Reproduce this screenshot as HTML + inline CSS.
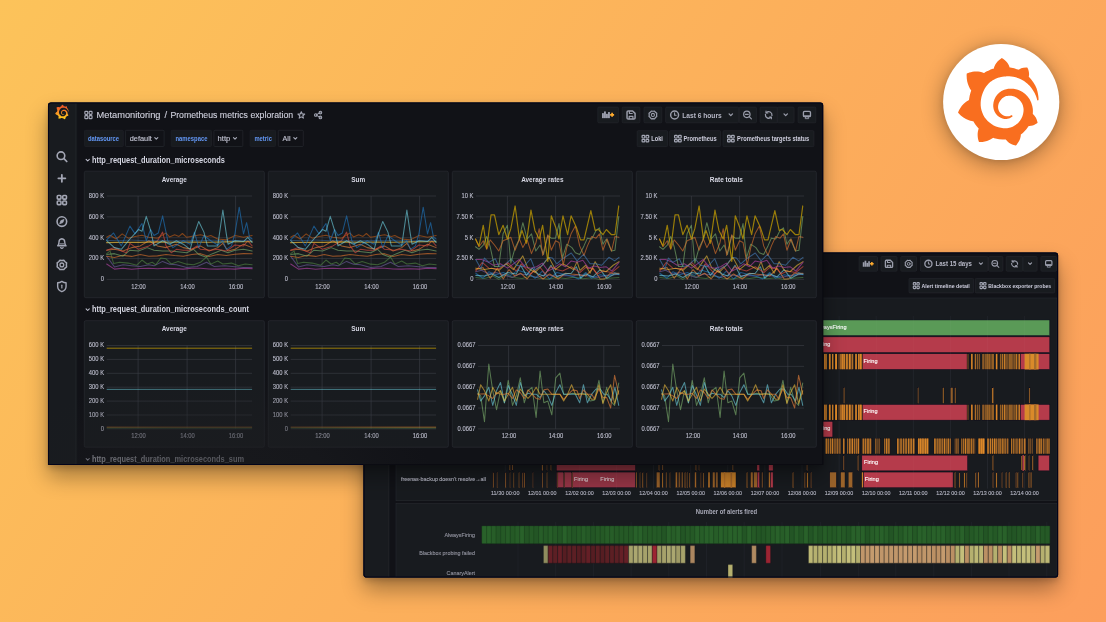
<!DOCTYPE html>
<html lang="en">
<head>
<meta charset="utf-8">
<title>Grafana dashboards</title>
<style>
html,body{margin:0;padding:0;width:1106px;height:622px;overflow:hidden}
body{background:#fcb35b linear-gradient(124deg,#fcc35a 0%,#fc9e5c 100%)}
#stage{position:absolute;left:0;top:0;width:1106px;height:622px;display:block}
#stage text{font-family:"Liberation Sans",sans-serif;white-space:pre;stroke-width:0.12px;paint-order:stroke fill}
</style>
</head>
<body>
<svg id="stage" width="1106" height="622" viewBox="0 0 1106 622">
<defs>
<filter id="shadow1" color-interpolation-filters="sRGB" x="-10%" y="-20%" width="120%" height="150%"><feGaussianBlur in="SourceAlpha" stdDeviation="11"/><feOffset dy="12"/><feComponentTransfer result="s1"><feFuncA type="linear" slope="0.34"/></feComponentTransfer><feGaussianBlur in="SourceAlpha" stdDeviation="3"/><feOffset dy="2.5"/><feComponentTransfer result="s2"><feFuncA type="linear" slope="0.18"/></feComponentTransfer><feMerge><feMergeNode in="s1"/><feMergeNode in="s2"/><feMergeNode in="SourceGraphic"/></feMerge></filter>
<filter id="shadow2" color-interpolation-filters="sRGB" x="-10%" y="-20%" width="120%" height="150%"><feGaussianBlur in="SourceAlpha" stdDeviation="11"/><feOffset dy="12"/><feComponentTransfer result="s1"><feFuncA type="linear" slope="0.34"/></feComponentTransfer><feGaussianBlur in="SourceAlpha" stdDeviation="3"/><feOffset dy="2.5"/><feComponentTransfer result="s2"><feFuncA type="linear" slope="0.18"/></feComponentTransfer><feMerge><feMergeNode in="s1"/><feMergeNode in="s2"/><feMergeNode in="SourceGraphic"/></feMerge></filter>
<filter id="shadow3" color-interpolation-filters="sRGB" x="-40%" y="-40%" width="180%" height="180%"><feGaussianBlur in="SourceAlpha" stdDeviation="11"/><feOffset dy="4"/><feComponentTransfer result="s1"><feFuncA type="linear" slope="0.36"/></feComponentTransfer><feGaussianBlur in="SourceAlpha" stdDeviation="3"/><feOffset dy="1"/><feComponentTransfer result="s2"><feFuncA type="linear" slope="0.1"/></feComponentTransfer><feMerge><feMergeNode in="s1"/><feMergeNode in="s2"/><feMergeNode in="SourceGraphic"/></feMerge></filter>
<clipPath id="clip1"><path d="M48 105.5Q48 102.5 51 102.5H820.2Q823.2 102.5 823.2 105.5V465H48Z"/></clipPath>
<clipPath id="clip2"><rect x="363.5" y="252.5" width="694.6" height="325" rx="3"/></clipPath>
<radialGradient id="vignette"><stop offset="0" stop-color="#1b1c1f" stop-opacity="0.66"/><stop offset="0.5" stop-color="#1b1c1f" stop-opacity="0.5"/><stop offset="0.8" stop-color="#1b1c1f" stop-opacity="0.18"/><stop offset="1" stop-color="#1b1c1f" stop-opacity="0"/></radialGradient>
<filter id="soft" color-interpolation-filters="sRGB" x="0" y="0" width="100%" height="100%" filterUnits="userSpaceOnUse" primitiveUnits="userSpaceOnUse"><feGaussianBlur stdDeviation="0.32"/></filter>
<linearGradient id="brandGrad" gradientUnits="userSpaceOnUse" x1="175" y1="365" x2="175" y2="60"><stop offset="0" stop-color="#fcd21c"/><stop offset="1" stop-color="#f05a28"/></linearGradient>
</defs>
<g id="window-alerts" class="window">
<rect class="frame" x="363.5" y="252.5" width="694.6" height="325.0" rx="3" fill="#111217" filter="url(#shadow2)"/>
<g clip-path="url(#clip2)"><g filter="url(#soft)">
<rect x="363.5" y="252.5" width="694.6" height="325" fill="#111217"/>
<g class="sidemenu">
<rect x="363.5" y="252.5" width="26.15" height="325" fill="#181b1f"/>
<line x1="388.39" y1="252.5" x2="388.39" y2="577.5" stroke="#212429" stroke-width="0.72"/>
</g>
<g class="toolbar">
<rect x="859.1" y="256.5" width="18.4" height="14.7" fill="#181b1f" rx="1" stroke="#26282f" stroke-width="0.6"/>
<rect x="881" y="256.5" width="16" height="14.7" fill="#181b1f" rx="1" stroke="#26282f" stroke-width="0.6"/>
<rect x="900.8" y="256.5" width="15.8" height="14.7" fill="#181b1f" rx="1" stroke="#26282f" stroke-width="0.6"/>
<rect x="920.4" y="256.5" width="67.5" height="14.7" fill="#181b1f" rx="1" stroke="#26282f" stroke-width="0.6"/>
<rect x="988.5" y="256.5" width="14.4" height="14.7" fill="#181b1f" rx="1" stroke="#26282f" stroke-width="0.6"/>
<rect x="1006.2" y="256.5" width="16.8" height="14.7" fill="#181b1f" rx="1" stroke="#26282f" stroke-width="0.6"/>
<rect x="1023" y="256.5" width="14.1" height="14.7" fill="#181b1f" rx="1" stroke="#26282f" stroke-width="0.6"/>
<rect x="1040.9" y="256.5" width="15.7" height="14.7" fill="#181b1f" rx="1" stroke="#26282f" stroke-width="0.6"/>
<g transform="translate(868 263.95) scale(0.9)"><rect x="-5.8" y="-1.9" width="1.9" height="5" fill="#9a9dab"/><rect x="-3.8" y="-3.6" width="1.9" height="6.7" fill="#9a9dab"/><rect x="-1.8" y="-1.2" width="1.9" height="4.3" fill="#9a9dab"/><rect x="0.2" y="-3" width="1.9" height="6.1" fill="#9a9dab"/><path d="M4.3 -2.2V1.8M2.3 -0.2H6.3" fill="none" stroke="#ffab2e" stroke-width="1.7"/></g>
<g transform="translate(889 263.85) scale(0.88)"><path d="M-3 -4.1H1.6L4.1 -1.6V3C4.1 3.6 3.6 4.1 3 4.1H-3C-3.6 4.1 -4.1 3.6 -4.1 3V-3C-4.1 -3.6 -3.6 -4.1 -3 -4.1Z" fill="none" stroke="#9a9dab" stroke-width="1.5" stroke-linecap="round" stroke-linejoin="round"/><path d="M-1.7 -3.6V-1.5H1.2M-1.9 3.8V1.5H1.9V3.8" fill="none" stroke="#9a9dab" stroke-width="1.2" stroke-linecap="round" stroke-linejoin="round"/></g>
<g transform="translate(908.7 263.85) scale(0.74)"><path d="M4.71 1.95L3.18 3.18L1.95 4.71L0 4.5L-1.95 4.71L-3.18 3.18L-4.71 1.95L-4.5 0L-4.71 -1.95L-3.18 -3.18L-1.95 -4.71L0 -4.5L1.95 -4.71L3.18 -3.18L4.71 -1.95L4.5 0Z" fill="none" stroke="#9a9dab" stroke-width="1.5" stroke-linecap="round" stroke-linejoin="round"/><circle r="1.9" fill="none" stroke="#9a9dab" stroke-width="1.3" stroke-linecap="round" stroke-linejoin="round"/></g>
<g transform="translate(928.41 263.85) scale(0.83)"><circle r="4.3" fill="none" stroke="#9a9dab" stroke-width="1.6" stroke-linecap="round" stroke-linejoin="round"/><path d="M0 -2.3V0.3H1.7" fill="none" stroke="#9a9dab" stroke-width="1.2" stroke-linecap="round" stroke-linejoin="round"/></g>
<text x="935.5" y="266.33" font-size="6.9" fill="#b6b7c6" font-weight="700" textLength="36.5" lengthAdjust="spacingAndGlyphs">Last 15 days</text>
<g transform="translate(980.88 263.65) scale(0.77)"><path d="M-2 -1L0 1L2 -1" fill="none" stroke="#9a9dab" stroke-width="1.5" stroke-linecap="round" stroke-linejoin="round"/></g>
<g transform="translate(995.3 263.85) scale(0.77)"><circle cx="-0.7" cy="-0.7" r="3.7" fill="none" stroke="#9a9dab" stroke-width="1.4" stroke-linecap="round" stroke-linejoin="round"/><path d="M2 2L4.6 4.6M-2.4 -0.7H1" fill="none" stroke="#9a9dab" stroke-width="1.3" stroke-linecap="round" stroke-linejoin="round"/></g>
<g transform="translate(1014.6 263.85) scale(0.76)"><g transform="scale(-1 1)"><path d="M-3.9 0.6A4 4 0 0 1 2.8 -2.8M3.9 -0.6A4 4 0 0 1 -2.8 2.8" fill="none" stroke="#9a9dab" stroke-width="1.5" stroke-linecap="round" stroke-linejoin="round"/><path d="M3.2 -4.6V-2.4H1M-3.2 4.6V2.4H-1" fill="none" stroke="#9a9dab" stroke-width="1.3" stroke-linecap="round" stroke-linejoin="round"/></g></g>
<g transform="translate(1030.05 263.65) scale(0.77)"><path d="M-2 -1L0 1L2 -1" fill="none" stroke="#9a9dab" stroke-width="1.5" stroke-linecap="round" stroke-linejoin="round"/></g>
<g transform="translate(1048.75 263.85) scale(0.79)"><rect x="-4" y="-4" width="8" height="6" rx="1.2" fill="none" stroke="#9a9dab" stroke-width="1.5" stroke-linecap="round" stroke-linejoin="round"/><path d="M-3.5 0.2H3.5V1.8H-3.5Z" fill="#9a9dab" opacity="0.85"/><path d="M-1.5 2.4L-2 4.2H2L1.5 2.4Z" fill="none" stroke="#9a9dab" stroke-width="1.0" stroke-linecap="round" stroke-linejoin="round" fill="#9a9dab"/></g>
</g>
<g class="dashboard-links">
<rect x="909" y="278.4" width="64.6" height="14.5" fill="#181b1f" rx="1" stroke="#26282f" stroke-width="0.6"/>
<g transform="translate(916.3 285.65) scale(0.65)"><rect x="-4.6" y="-4.6" width="3.7" height="3.7" rx="0.9" fill="none" stroke="#a3a6b4" stroke-width="1.7" stroke-linecap="round" stroke-linejoin="round"/><rect x="-4.6" y="0.9" width="3.7" height="3.7" rx="0.9" fill="none" stroke="#a3a6b4" stroke-width="1.7" stroke-linecap="round" stroke-linejoin="round"/><rect x="0.9" y="-4.6" width="3.7" height="3.7" rx="0.9" fill="none" stroke="#a3a6b4" stroke-width="1.7" stroke-linecap="round" stroke-linejoin="round"/><rect x="0.9" y="0.9" width="3.7" height="3.7" rx="0.9" fill="none" stroke="#a3a6b4" stroke-width="1.7" stroke-linecap="round" stroke-linejoin="round"/></g>
<text x="921.4" y="287.91" font-size="6" fill="#ccccdc" font-weight="700" textLength="48.4" lengthAdjust="spacingAndGlyphs">Alert timeline detail</text>
<rect x="975.3" y="278.4" width="79.3" height="14.5" fill="#181b1f" rx="1" stroke="#26282f" stroke-width="0.6"/>
<g transform="translate(983 285.65) scale(0.65)"><rect x="-4.6" y="-4.6" width="3.7" height="3.7" rx="0.9" fill="none" stroke="#a3a6b4" stroke-width="1.7" stroke-linecap="round" stroke-linejoin="round"/><rect x="-4.6" y="0.9" width="3.7" height="3.7" rx="0.9" fill="none" stroke="#a3a6b4" stroke-width="1.7" stroke-linecap="round" stroke-linejoin="round"/><rect x="0.9" y="-4.6" width="3.7" height="3.7" rx="0.9" fill="none" stroke="#a3a6b4" stroke-width="1.7" stroke-linecap="round" stroke-linejoin="round"/><rect x="0.9" y="0.9" width="3.7" height="3.7" rx="0.9" fill="none" stroke="#a3a6b4" stroke-width="1.7" stroke-linecap="round" stroke-linejoin="round"/></g>
<text x="988.3" y="287.91" font-size="6" fill="#ccccdc" font-weight="700" textLength="62.9" lengthAdjust="spacingAndGlyphs">Blackbox exporter probes</text>
</g>
<g class="panel timeline">
<rect x="396" y="298" width="661" height="202.7" fill="#181b1f" stroke="#272a30" stroke-width="0.6"/>
<line x1="505.2" y1="316" x2="505.2" y2="489" stroke="#24272d" stroke-width="0.6"/>
<line x1="542.3" y1="316" x2="542.3" y2="489" stroke="#24272d" stroke-width="0.6"/>
<line x1="579.4" y1="316" x2="579.4" y2="489" stroke="#24272d" stroke-width="0.6"/>
<line x1="616.5" y1="316" x2="616.5" y2="489" stroke="#24272d" stroke-width="0.6"/>
<line x1="653.6" y1="316" x2="653.6" y2="489" stroke="#24272d" stroke-width="0.6"/>
<line x1="690.7" y1="316" x2="690.7" y2="489" stroke="#24272d" stroke-width="0.6"/>
<line x1="727.8" y1="316" x2="727.8" y2="489" stroke="#24272d" stroke-width="0.6"/>
<line x1="764.9" y1="316" x2="764.9" y2="489" stroke="#24272d" stroke-width="0.6"/>
<line x1="802" y1="316" x2="802" y2="489" stroke="#24272d" stroke-width="0.6"/>
<line x1="839.1" y1="316" x2="839.1" y2="489" stroke="#24272d" stroke-width="0.6"/>
<line x1="876.2" y1="316" x2="876.2" y2="489" stroke="#24272d" stroke-width="0.6"/>
<line x1="913.3" y1="316" x2="913.3" y2="489" stroke="#24272d" stroke-width="0.6"/>
<line x1="950.4" y1="316" x2="950.4" y2="489" stroke="#24272d" stroke-width="0.6"/>
<line x1="987.5" y1="316" x2="987.5" y2="489" stroke="#24272d" stroke-width="0.6"/>
<line x1="1024.6" y1="316" x2="1024.6" y2="489" stroke="#24272d" stroke-width="0.6"/>
<rect x="490" y="319.95" width="559.8" height="15.7" fill="#5a9a57" stroke="#0a0a1c" stroke-width="0.5"/>
<text x="846.6" y="328.97" font-size="5.9" fill="#ffffff" text-anchor="end" textLength="31.77" lengthAdjust="spacingAndGlyphs" stroke="#ffffff">AlwaysFiring</text>
<rect x="490" y="336.85" width="559.8" height="15.7" fill="#b53b4b" stroke="#0a0a1c" stroke-width="0.5"/>
<text x="830.4" y="345.87" font-size="5.9" fill="#ffffff" text-anchor="end" textLength="14.02" lengthAdjust="spacingAndGlyphs" stroke="#ffffff">Firing</text>
<rect x="823.9" y="353.75" width="2.8" height="15.7" fill="#7a5026" stroke="#0a0a1c" stroke-width="0.45"/><rect x="824.14" y="353.95" width="1.06" height="15.3" fill="#db8728"/><rect x="825.59" y="353.95" width="1.11" height="15.3" fill="#e08a28"/><rect x="828.7" y="353.75" width="2.1" height="15.7" fill="#7a5026" stroke="#0a0a1c" stroke-width="0.45"/><rect x="828.97" y="353.95" width="1.61" height="15.3" fill="#db8728"/><rect x="831.9" y="353.75" width="2.2" height="15.7" fill="#3e2d1f" stroke="#0a0a1c" stroke-width="0.45"/><rect x="831.96" y="353.95" width="1.31" height="15.3" fill="#d08128"/><rect x="835" y="353.75" width="2.1" height="15.7" fill="#7a5026" stroke="#0a0a1c" stroke-width="0.45"/><rect x="835.18" y="353.95" width="1.84" height="15.3" fill="#e08a28"/><rect x="838.4" y="353.75" width="1.1" height="15.7" fill="#33261d" stroke="#0a0a1c" stroke-width="0.45"/><rect x="838.67" y="353.95" width="0.83" height="15.3" fill="#b5722a"/><rect x="840.1" y="353.75" width="5.4" height="15.7" fill="#7a5026" stroke="#0a0a1c" stroke-width="0.45"/><rect x="840.37" y="353.95" width="0.98" height="15.3" fill="#d38228"/><rect x="841.82" y="353.95" width="1.47" height="15.3" fill="#d38228"/><rect x="843.63" y="353.95" width="1.16" height="15.3" fill="#e08a28"/><rect x="845.13" y="353.95" width="0.37" height="15.3" fill="#db8728"/><rect x="845.8" y="353.75" width="2.6" height="15.7" fill="#7a5026" stroke="#0a0a1c" stroke-width="0.45"/><rect x="845.91" y="353.95" width="1.32" height="15.3" fill="#c67c29"/><rect x="847.52" y="353.95" width="0.88" height="15.3" fill="#db8728"/><rect x="848.8" y="353.75" width="2.7" height="15.7" fill="#7a5026" stroke="#0a0a1c" stroke-width="0.45"/><rect x="848.89" y="353.95" width="1.5" height="15.3" fill="#db8728"/><rect x="850.77" y="353.95" width="0.73" height="15.3" fill="#d38228"/><rect x="852" y="353.75" width="2.2" height="15.7" fill="#3e2d1f" stroke="#0a0a1c" stroke-width="0.45"/><rect x="852.06" y="353.95" width="0.98" height="15.3" fill="#b9742a"/><rect x="854.9" y="353.75" width="2.5" height="15.7" fill="#7a5026" stroke="#0a0a1c" stroke-width="0.45"/><rect x="855.19" y="353.95" width="1.74" height="15.3" fill="#c67c29"/><rect x="858" y="353.75" width="4.5" height="15.7" fill="#7a5026" stroke="#0a0a1c" stroke-width="0.45"/><rect x="858.05" y="353.95" width="1.23" height="15.3" fill="#d38228"/><rect x="859.75" y="353.95" width="1.23" height="15.3" fill="#e08a28"/><rect x="861.49" y="353.95" width="0.98" height="15.3" fill="#e08a28"/>
<rect x="862.6" y="353.75" width="104.5" height="15.7" fill="#b53b4b" stroke="#0a0a1c" stroke-width="0.5"/>
<text x="863.6" y="362.77" font-size="5.9" fill="#ffffff" textLength="14.02" lengthAdjust="spacingAndGlyphs" stroke="#ffffff">Firing</text>
<rect x="967.6" y="353.75" width="1.4" height="15.7" fill="#33261d" stroke="#0a0a1c" stroke-width="0.45"/><rect x="967.65" y="353.95" width="0.61" height="15.3" fill="#b5722a"/><rect x="970.9" y="353.75" width="2.2" height="15.7" fill="#7a5026" stroke="#0a0a1c" stroke-width="0.45"/><rect x="971.18" y="353.95" width="1.21" height="15.3" fill="#e08a28"/><rect x="974.7" y="353.75" width="5.4" height="15.7" fill="#33261d" stroke="#0a0a1c" stroke-width="0.45"/><rect x="974.74" y="353.95" width="1.2" height="15.3" fill="#b5722a"/><rect x="976.93" y="353.95" width="1.29" height="15.3" fill="#84572a"/><rect x="979.21" y="353.95" width="0.89" height="15.3" fill="#93602a"/><rect x="982.3" y="353.75" width="11.4" height="15.7" fill="#3e2d1f" stroke="#0a0a1c" stroke-width="0.45"/><rect x="982.32" y="353.95" width="1.45" height="15.3" fill="#a3672a"/><rect x="984.77" y="353.95" width="0.81" height="15.3" fill="#b9742a"/><rect x="986.51" y="353.95" width="1.14" height="15.3" fill="#c77c29"/><rect x="988.51" y="353.95" width="1.16" height="15.3" fill="#c77c29"/><rect x="990.62" y="353.95" width="0.78" height="15.3" fill="#b9742a"/><rect x="992.36" y="353.95" width="1.34" height="15.3" fill="#c77c29"/><rect x="995.6" y="353.75" width="1.9" height="15.7" fill="#7a5026" stroke="#0a0a1c" stroke-width="0.45"/><rect x="995.88" y="353.95" width="1.49" height="15.3" fill="#db8728"/><rect x="999.7" y="353.75" width="18.4" height="15.7" fill="#3e2d1f" stroke="#0a0a1c" stroke-width="0.45"/><rect x="999.89" y="353.95" width="0.79" height="15.3" fill="#b9742a"/><rect x="1001.85" y="353.95" width="0.93" height="15.3" fill="#d08128"/><rect x="1003.88" y="353.95" width="1.54" height="15.3" fill="#c77c29"/><rect x="1006.42" y="353.95" width="1.11" height="15.3" fill="#a3672a"/><rect x="1008.72" y="353.95" width="1.01" height="15.3" fill="#b9742a"/><rect x="1010.34" y="353.95" width="1.32" height="15.3" fill="#b9742a"/><rect x="1012.4" y="353.95" width="1.04" height="15.3" fill="#a3672a"/><rect x="1014.47" y="353.95" width="0.83" height="15.3" fill="#b9742a"/><rect x="1015.9" y="353.95" width="0.95" height="15.3" fill="#d08128"/><rect x="1017.78" y="353.95" width="0.32" height="15.3" fill="#b9742a"/><rect x="1018.4" y="353.75" width="1.5" height="15.7" fill="#7a5026" stroke="#0a0a1c" stroke-width="0.45"/><rect x="1018.49" y="353.95" width="1.41" height="15.3" fill="#d38228"/>
<rect x="1020.3" y="353.75" width="29.5" height="15.7" fill="#b53b4b" stroke="#0a0a1c" stroke-width="0.5"/>
<rect x="1024.6" y="353.75" width="14" height="15.7" fill="#d98a2a"/>
<rect x="1029" y="353.75" width="1.6" height="15.7" fill="#b5762c"/>
<rect x="1034" y="353.75" width="2.4" height="15.7" fill="#a66d2c"/>
<rect x="823.9" y="404.45" width="2.8" height="15.7" fill="#7a5026" stroke="#0a0a1c" stroke-width="0.45"/><rect x="824.14" y="404.65" width="1.06" height="15.3" fill="#db8728"/><rect x="825.59" y="404.65" width="1.11" height="15.3" fill="#e08a28"/><rect x="828.7" y="404.45" width="2.1" height="15.7" fill="#7a5026" stroke="#0a0a1c" stroke-width="0.45"/><rect x="828.97" y="404.65" width="1.61" height="15.3" fill="#db8728"/><rect x="831.9" y="404.45" width="2.2" height="15.7" fill="#3e2d1f" stroke="#0a0a1c" stroke-width="0.45"/><rect x="831.96" y="404.65" width="1.31" height="15.3" fill="#d08128"/><rect x="835" y="404.45" width="2.1" height="15.7" fill="#7a5026" stroke="#0a0a1c" stroke-width="0.45"/><rect x="835.18" y="404.65" width="1.84" height="15.3" fill="#e08a28"/><rect x="838.4" y="404.45" width="1.1" height="15.7" fill="#33261d" stroke="#0a0a1c" stroke-width="0.45"/><rect x="838.67" y="404.65" width="0.83" height="15.3" fill="#b5722a"/><rect x="840.1" y="404.45" width="5.4" height="15.7" fill="#7a5026" stroke="#0a0a1c" stroke-width="0.45"/><rect x="840.37" y="404.65" width="0.98" height="15.3" fill="#d38228"/><rect x="841.82" y="404.65" width="1.47" height="15.3" fill="#d38228"/><rect x="843.63" y="404.65" width="1.16" height="15.3" fill="#e08a28"/><rect x="845.13" y="404.65" width="0.37" height="15.3" fill="#db8728"/><rect x="845.8" y="404.45" width="2.6" height="15.7" fill="#7a5026" stroke="#0a0a1c" stroke-width="0.45"/><rect x="845.91" y="404.65" width="1.32" height="15.3" fill="#c67c29"/><rect x="847.52" y="404.65" width="0.88" height="15.3" fill="#db8728"/><rect x="848.8" y="404.45" width="2.7" height="15.7" fill="#7a5026" stroke="#0a0a1c" stroke-width="0.45"/><rect x="848.89" y="404.65" width="1.5" height="15.3" fill="#db8728"/><rect x="850.77" y="404.65" width="0.73" height="15.3" fill="#d38228"/><rect x="852" y="404.45" width="2.2" height="15.7" fill="#3e2d1f" stroke="#0a0a1c" stroke-width="0.45"/><rect x="852.06" y="404.65" width="0.98" height="15.3" fill="#b9742a"/><rect x="854.9" y="404.45" width="2.5" height="15.7" fill="#7a5026" stroke="#0a0a1c" stroke-width="0.45"/><rect x="855.19" y="404.65" width="1.74" height="15.3" fill="#c67c29"/><rect x="858" y="404.45" width="4.5" height="15.7" fill="#7a5026" stroke="#0a0a1c" stroke-width="0.45"/><rect x="858.05" y="404.65" width="1.23" height="15.3" fill="#d38228"/><rect x="859.75" y="404.65" width="1.23" height="15.3" fill="#e08a28"/><rect x="861.49" y="404.65" width="0.98" height="15.3" fill="#e08a28"/>
<rect x="862.6" y="404.45" width="104.5" height="15.7" fill="#b53b4b" stroke="#0a0a1c" stroke-width="0.5"/>
<text x="863.6" y="413.47" font-size="5.9" fill="#ffffff" textLength="14.02" lengthAdjust="spacingAndGlyphs" stroke="#ffffff">Firing</text>
<rect x="967.6" y="404.45" width="1.4" height="15.7" fill="#33261d" stroke="#0a0a1c" stroke-width="0.45"/><rect x="967.65" y="404.65" width="0.61" height="15.3" fill="#b5722a"/><rect x="970.9" y="404.45" width="2.2" height="15.7" fill="#7a5026" stroke="#0a0a1c" stroke-width="0.45"/><rect x="971.18" y="404.65" width="1.21" height="15.3" fill="#e08a28"/><rect x="974.7" y="404.45" width="5.4" height="15.7" fill="#33261d" stroke="#0a0a1c" stroke-width="0.45"/><rect x="974.74" y="404.65" width="1.2" height="15.3" fill="#b5722a"/><rect x="976.93" y="404.65" width="1.29" height="15.3" fill="#84572a"/><rect x="979.21" y="404.65" width="0.89" height="15.3" fill="#93602a"/><rect x="982.3" y="404.45" width="11.4" height="15.7" fill="#3e2d1f" stroke="#0a0a1c" stroke-width="0.45"/><rect x="982.32" y="404.65" width="1.45" height="15.3" fill="#a3672a"/><rect x="984.77" y="404.65" width="0.81" height="15.3" fill="#b9742a"/><rect x="986.51" y="404.65" width="1.14" height="15.3" fill="#c77c29"/><rect x="988.51" y="404.65" width="1.16" height="15.3" fill="#c77c29"/><rect x="990.62" y="404.65" width="0.78" height="15.3" fill="#b9742a"/><rect x="992.36" y="404.65" width="1.34" height="15.3" fill="#c77c29"/><rect x="995.6" y="404.45" width="1.9" height="15.7" fill="#7a5026" stroke="#0a0a1c" stroke-width="0.45"/><rect x="995.88" y="404.65" width="1.49" height="15.3" fill="#db8728"/><rect x="999.7" y="404.45" width="18.4" height="15.7" fill="#3e2d1f" stroke="#0a0a1c" stroke-width="0.45"/><rect x="999.89" y="404.65" width="0.79" height="15.3" fill="#b9742a"/><rect x="1001.85" y="404.65" width="0.93" height="15.3" fill="#d08128"/><rect x="1003.88" y="404.65" width="1.54" height="15.3" fill="#c77c29"/><rect x="1006.42" y="404.65" width="1.11" height="15.3" fill="#a3672a"/><rect x="1008.72" y="404.65" width="1.01" height="15.3" fill="#b9742a"/><rect x="1010.34" y="404.65" width="1.32" height="15.3" fill="#b9742a"/><rect x="1012.4" y="404.65" width="1.04" height="15.3" fill="#a3672a"/><rect x="1014.47" y="404.65" width="0.83" height="15.3" fill="#b9742a"/><rect x="1015.9" y="404.65" width="0.95" height="15.3" fill="#d08128"/><rect x="1017.78" y="404.65" width="0.32" height="15.3" fill="#b9742a"/><rect x="1018.4" y="404.45" width="1.5" height="15.7" fill="#7a5026" stroke="#0a0a1c" stroke-width="0.45"/><rect x="1018.49" y="404.65" width="1.41" height="15.3" fill="#d38228"/>
<rect x="1020.3" y="404.45" width="29.5" height="15.7" fill="#b53b4b" stroke="#0a0a1c" stroke-width="0.5"/>
<rect x="1024.6" y="404.45" width="14" height="15.7" fill="#d98a2a"/>
<rect x="1029" y="404.45" width="1.6" height="15.7" fill="#b5762c"/>
<rect x="1034" y="404.45" width="2.4" height="15.7" fill="#a66d2c"/>
<rect x="843.5" y="387.55" width="1.2" height="15.7" fill="#bd782a" stroke="#0a0a1c" stroke-width="0.4"/><rect x="917.6" y="387.55" width="1.2" height="15.7" fill="#a3692a" stroke="#0a0a1c" stroke-width="0.4"/><rect x="942.7" y="387.55" width="1.2" height="15.7" fill="#c98029" stroke="#0a0a1c" stroke-width="0.4"/><rect x="950.4" y="387.55" width="2.6" height="15.7" fill="#8f5d29" stroke="#0a0a1c" stroke-width="0.4"/><rect x="954.7" y="387.55" width="1.2" height="15.7" fill="#b27129" stroke="#0a0a1c" stroke-width="0.4"/><rect x="991.9" y="387.55" width="1.8" height="15.7" fill="#bd782a" stroke="#0a0a1c" stroke-width="0.4"/><rect x="1028.9" y="387.55" width="1.2" height="15.7" fill="#a3692a" stroke="#0a0a1c" stroke-width="0.4"/>
<rect x="800" y="421.35" width="32.8" height="15.7" fill="#b53b4b" stroke="#0a0a1c" stroke-width="0.5"/>
<text x="830.4" y="430.37" font-size="5.9" fill="#ffffff" text-anchor="end" textLength="14.02" lengthAdjust="spacingAndGlyphs" stroke="#ffffff">Firing</text>
<rect x="825.4" y="438.25" width="15.2" height="15.7" fill="#3e2d1f" stroke="#0a0a1c" stroke-width="0.45"/><rect x="825.56" y="438.45" width="1.59" height="15.3" fill="#c77c29"/><rect x="827.71" y="438.45" width="1.1" height="15.3" fill="#c77c29"/><rect x="829.91" y="438.45" width="1.32" height="15.3" fill="#b9742a"/><rect x="831.94" y="438.45" width="1.23" height="15.3" fill="#d08128"/><rect x="834.36" y="438.45" width="1.27" height="15.3" fill="#a3672a"/><rect x="836.58" y="438.45" width="1.56" height="15.3" fill="#a3672a"/><rect x="838.86" y="438.45" width="0.76" height="15.3" fill="#b9742a"/><rect x="840.17" y="438.45" width="0.43" height="15.3" fill="#d08128"/><rect x="842.8" y="438.25" width="2.2" height="15.7" fill="#7a5026" stroke="#0a0a1c" stroke-width="0.45"/><rect x="843.07" y="438.45" width="1.17" height="15.3" fill="#c67c29"/><rect x="847.1" y="438.25" width="13" height="15.7" fill="#3e2d1f" stroke="#0a0a1c" stroke-width="0.45"/><rect x="847.13" y="438.45" width="0.74" height="15.3" fill="#b9742a"/><rect x="849" y="438.45" width="1.59" height="15.3" fill="#b9742a"/><rect x="851.6" y="438.45" width="1.43" height="15.3" fill="#d08128"/><rect x="853.99" y="438.45" width="0.93" height="15.3" fill="#b9742a"/><rect x="855.75" y="438.45" width="1.52" height="15.3" fill="#a3672a"/><rect x="857.86" y="438.45" width="1.09" height="15.3" fill="#d08128"/><rect x="862.3" y="438.25" width="9.8" height="15.7" fill="#3e2d1f" stroke="#0a0a1c" stroke-width="0.45"/><rect x="862.59" y="438.45" width="1.23" height="15.3" fill="#d08128"/><rect x="864.72" y="438.45" width="1.54" height="15.3" fill="#b9742a"/><rect x="867.19" y="438.45" width="1.59" height="15.3" fill="#c77c29"/><rect x="869.54" y="438.45" width="1.55" height="15.3" fill="#b9742a"/><rect x="875.3" y="438.25" width="5.5" height="15.7" fill="#33261d" stroke="#0a0a1c" stroke-width="0.45"/><rect x="875.3" y="438.45" width="0.96" height="15.3" fill="#b5722a"/><rect x="877.55" y="438.45" width="0.78" height="15.3" fill="#93602a"/><rect x="879.04" y="438.45" width="0.72" height="15.3" fill="#84572a"/><rect x="884" y="438.25" width="6.5" height="15.7" fill="#3e2d1f" stroke="#0a0a1c" stroke-width="0.45"/><rect x="884.13" y="438.45" width="0.72" height="15.3" fill="#c77c29"/><rect x="885.82" y="438.45" width="1.57" height="15.3" fill="#c77c29"/><rect x="888.28" y="438.45" width="1.22" height="15.3" fill="#d08128"/><rect x="897" y="438.25" width="18.5" height="15.7" fill="#3e2d1f" stroke="#0a0a1c" stroke-width="0.45"/><rect x="897.05" y="438.45" width="1.6" height="15.3" fill="#c77c29"/><rect x="899.83" y="438.45" width="0.82" height="15.3" fill="#c77c29"/><rect x="901.21" y="438.45" width="0.85" height="15.3" fill="#b9742a"/><rect x="903.02" y="438.45" width="1.24" height="15.3" fill="#b9742a"/><rect x="905.29" y="438.45" width="1.53" height="15.3" fill="#b9742a"/><rect x="908.01" y="438.45" width="1.42" height="15.3" fill="#c77c29"/><rect x="910.4" y="438.45" width="1.5" height="15.3" fill="#c77c29"/><rect x="912.87" y="438.45" width="1.5" height="15.3" fill="#c77c29"/><rect x="917.7" y="438.25" width="10.8" height="15.7" fill="#7a5026" stroke="#0a0a1c" stroke-width="0.45"/><rect x="917.99" y="438.45" width="1.53" height="15.3" fill="#d38228"/><rect x="920" y="438.45" width="1.45" height="15.3" fill="#db8728"/><rect x="921.96" y="438.45" width="1.03" height="15.3" fill="#c67c29"/><rect x="923.31" y="438.45" width="0.95" height="15.3" fill="#e08a28"/><rect x="924.84" y="438.45" width="1.3" height="15.3" fill="#db8728"/><rect x="926.69" y="438.45" width="1.67" height="15.3" fill="#db8728"/><rect x="933.9" y="438.25" width="17.4" height="15.7" fill="#3e2d1f" stroke="#0a0a1c" stroke-width="0.45"/><rect x="934.18" y="438.45" width="1.49" height="15.3" fill="#d08128"/><rect x="936.63" y="438.45" width="1.15" height="15.3" fill="#b9742a"/><rect x="938.53" y="438.45" width="1.25" height="15.3" fill="#b9742a"/><rect x="940.39" y="438.45" width="0.98" height="15.3" fill="#c77c29"/><rect x="941.97" y="438.45" width="1.09" height="15.3" fill="#a3672a"/><rect x="943.89" y="438.45" width="1.28" height="15.3" fill="#d08128"/><rect x="945.85" y="438.45" width="0.75" height="15.3" fill="#b9742a"/><rect x="947.59" y="438.45" width="1.34" height="15.3" fill="#c77c29"/><rect x="949.83" y="438.45" width="0.81" height="15.3" fill="#c77c29"/><rect x="954.5" y="438.25" width="4.4" height="15.7" fill="#33261d" stroke="#0a0a1c" stroke-width="0.45"/><rect x="954.66" y="438.45" width="0.9" height="15.3" fill="#84572a"/><rect x="956.35" y="438.45" width="1.09" height="15.3" fill="#a96b2a"/><rect x="958.05" y="438.45" width="0.85" height="15.3" fill="#84572a"/><rect x="961.1" y="438.25" width="14.1" height="15.7" fill="#3e2d1f" stroke="#0a0a1c" stroke-width="0.45"/><rect x="961.36" y="438.45" width="0.8" height="15.3" fill="#c77c29"/><rect x="963.26" y="438.45" width="0.87" height="15.3" fill="#d08128"/><rect x="964.95" y="438.45" width="1.24" height="15.3" fill="#d08128"/><rect x="967.23" y="438.45" width="1.52" height="15.3" fill="#b9742a"/><rect x="969.37" y="438.45" width="0.87" height="15.3" fill="#c77c29"/><rect x="971.14" y="438.45" width="0.82" height="15.3" fill="#d08128"/><rect x="972.7" y="438.45" width="1.04" height="15.3" fill="#b9742a"/><rect x="974.68" y="438.45" width="0.52" height="15.3" fill="#a3672a"/><rect x="978.4" y="438.25" width="6.5" height="15.7" fill="#7a5026" stroke="#0a0a1c" stroke-width="0.45"/><rect x="978.41" y="438.45" width="1.49" height="15.3" fill="#e08a28"/><rect x="980.46" y="438.45" width="1.69" height="15.3" fill="#db8728"/><rect x="982.43" y="438.45" width="1.61" height="15.3" fill="#e08a28"/><rect x="984.41" y="438.45" width="0.49" height="15.3" fill="#c67c29"/><rect x="987.1" y="438.25" width="21.7" height="15.7" fill="#3e2d1f" stroke="#0a0a1c" stroke-width="0.45"/><rect x="987.29" y="438.45" width="1.47" height="15.3" fill="#d08128"/><rect x="989.87" y="438.45" width="1.14" height="15.3" fill="#c77c29"/><rect x="991.85" y="438.45" width="1.19" height="15.3" fill="#c77c29"/><rect x="993.9" y="438.45" width="1.55" height="15.3" fill="#d08128"/><rect x="996.17" y="438.45" width="1" height="15.3" fill="#b9742a"/><rect x="998.18" y="438.45" width="1.57" height="15.3" fill="#a3672a"/><rect x="1000.31" y="438.45" width="0.96" height="15.3" fill="#d08128"/><rect x="1002.21" y="438.45" width="1.28" height="15.3" fill="#d08128"/><rect x="1004.5" y="438.45" width="1.26" height="15.3" fill="#b9742a"/><rect x="1006.8" y="438.45" width="1.59" height="15.3" fill="#a3672a"/><rect x="1011" y="438.25" width="15.2" height="15.7" fill="#3e2d1f" stroke="#0a0a1c" stroke-width="0.45"/><rect x="1011.18" y="438.45" width="0.92" height="15.3" fill="#d08128"/><rect x="1013.21" y="438.45" width="0.73" height="15.3" fill="#c77c29"/><rect x="1014.67" y="438.45" width="0.7" height="15.3" fill="#b9742a"/><rect x="1016.27" y="438.45" width="1.37" height="15.3" fill="#a3672a"/><rect x="1018.85" y="438.45" width="1.47" height="15.3" fill="#c77c29"/><rect x="1021.45" y="438.45" width="1.35" height="15.3" fill="#a3672a"/><rect x="1023.98" y="438.45" width="1.53" height="15.3" fill="#b9742a"/><rect x="1028.3" y="438.25" width="4.4" height="15.7" fill="#33261d" stroke="#0a0a1c" stroke-width="0.45"/><rect x="1028.32" y="438.45" width="1.04" height="15.3" fill="#93602a"/><rect x="1030.28" y="438.45" width="0.74" height="15.3" fill="#84572a"/><rect x="1031.93" y="438.45" width="0.77" height="15.3" fill="#84572a"/><rect x="1035.9" y="438.25" width="13.9" height="15.7" fill="#3e2d1f" stroke="#0a0a1c" stroke-width="0.45"/><rect x="1036.02" y="438.45" width="0.87" height="15.3" fill="#a3672a"/><rect x="1037.53" y="438.45" width="0.88" height="15.3" fill="#b9742a"/><rect x="1039.12" y="438.45" width="1.41" height="15.3" fill="#c77c29"/><rect x="1041.16" y="438.45" width="0.82" height="15.3" fill="#c77c29"/><rect x="1043.02" y="438.45" width="1.39" height="15.3" fill="#a3672a"/><rect x="1045.58" y="438.45" width="0.94" height="15.3" fill="#a3672a"/><rect x="1047.34" y="438.45" width="1.18" height="15.3" fill="#d08128"/><rect x="1049.15" y="438.45" width="0.65" height="15.3" fill="#b9742a"/>
<rect x="509.15" y="455.15" width="1.3" height="15.7" fill="#9c6428" stroke="#0a0a1c" stroke-width="0.4"/><rect x="511.85" y="455.15" width="1.3" height="15.7" fill="#875828" stroke="#0a0a1c" stroke-width="0.4"/><rect x="541.75" y="455.15" width="1.3" height="15.7" fill="#a86a28" stroke="#0a0a1c" stroke-width="0.4"/><rect x="546.25" y="455.15" width="1.3" height="15.7" fill="#774f27" stroke="#0a0a1c" stroke-width="0.4"/><rect x="550.25" y="455.15" width="1.3" height="15.7" fill="#936028" stroke="#0a0a1c" stroke-width="0.4"/>
<rect x="556.3" y="455.15" width="79.2" height="15.7" fill="#8f3340" stroke="#0a0a1c" stroke-width="0.5"/>
<rect x="658.35" y="455.15" width="1.3" height="15.7" fill="#9c6428" stroke="#0a0a1c" stroke-width="0.4"/><rect x="661.95" y="455.15" width="1.3" height="15.7" fill="#875828" stroke="#0a0a1c" stroke-width="0.4"/><rect x="695.25" y="455.15" width="1.3" height="15.7" fill="#a86a28" stroke="#0a0a1c" stroke-width="0.4"/><rect x="698.35" y="455.15" width="1.3" height="15.7" fill="#774f27" stroke="#0a0a1c" stroke-width="0.4"/><rect x="732.15" y="455.15" width="1.3" height="15.7" fill="#936028" stroke="#0a0a1c" stroke-width="0.4"/><rect x="806.45" y="455.15" width="1.3" height="15.7" fill="#9c6428" stroke="#0a0a1c" stroke-width="0.4"/><rect x="843.05" y="455.15" width="1.3" height="15.7" fill="#875828" stroke="#0a0a1c" stroke-width="0.4"/><rect x="857.45" y="455.15" width="1.3" height="15.7" fill="#a86a28" stroke="#0a0a1c" stroke-width="0.4"/>
<rect x="756.9" y="455.15" width="2.7" height="15.7" fill="#b53b4b" stroke="#0a0a1c" stroke-width="0.4"/><rect x="768.6" y="455.15" width="4.5" height="15.7" fill="#b53b4b" stroke="#0a0a1c" stroke-width="0.4"/>
<rect x="861.8" y="455.15" width="105.8" height="15.7" fill="#b53b4b" stroke="#0a0a1c" stroke-width="0.5"/>
<text x="864" y="464.17" font-size="5.9" fill="#ffffff" textLength="14.02" lengthAdjust="spacingAndGlyphs" stroke="#ffffff">Firing</text>
<rect x="992.25" y="455.15" width="1.3" height="15.7" fill="#bd782a" stroke="#0a0a1c" stroke-width="0.4"/><rect x="1021" y="455.15" width="1.6" height="15.7" fill="#a3692a" stroke="#0a0a1c" stroke-width="0.4"/><rect x="1024" y="455.15" width="1.6" height="15.7" fill="#c98029" stroke="#0a0a1c" stroke-width="0.4"/><rect x="1028.35" y="455.15" width="1.3" height="15.7" fill="#8f5d29" stroke="#0a0a1c" stroke-width="0.4"/><rect x="1032.05" y="455.15" width="1.3" height="15.7" fill="#b27129" stroke="#0a0a1c" stroke-width="0.4"/>
<rect x="1022.6" y="455.15" width="1.4" height="15.7" fill="#b53b4b"/>
<rect x="1038.1" y="455.15" width="11.4" height="15.7" fill="#b53b4b" stroke="#0a0a1c" stroke-width="0.5"/>
<rect x="492.85" y="472.05" width="1.1" height="15.7" fill="#9c6428" stroke="#0a0a1c" stroke-width="0.4"/><rect x="496.65" y="472.05" width="1.1" height="15.7" fill="#875828" stroke="#0a0a1c" stroke-width="0.4"/><rect x="505.05" y="472.05" width="1.1" height="15.7" fill="#a86a28" stroke="#0a0a1c" stroke-width="0.4"/><rect x="509.45" y="472.05" width="1.1" height="15.7" fill="#774f27" stroke="#0a0a1c" stroke-width="0.4"/><rect x="513.15" y="472.05" width="1.1" height="15.7" fill="#936028" stroke="#0a0a1c" stroke-width="0.4"/><rect x="518.45" y="472.05" width="1.1" height="15.7" fill="#9c6428" stroke="#0a0a1c" stroke-width="0.4"/><rect x="522.05" y="472.05" width="1.1" height="15.7" fill="#875828" stroke="#0a0a1c" stroke-width="0.4"/><rect x="523.85" y="472.05" width="1.1" height="15.7" fill="#a86a28" stroke="#0a0a1c" stroke-width="0.4"/><rect x="532.35" y="472.05" width="1.1" height="15.7" fill="#774f27" stroke="#0a0a1c" stroke-width="0.4"/><rect x="541.95" y="472.05" width="1.1" height="15.7" fill="#936028" stroke="#0a0a1c" stroke-width="0.4"/><rect x="546.45" y="472.05" width="1.1" height="15.7" fill="#9c6428" stroke="#0a0a1c" stroke-width="0.4"/>
<rect x="556.3" y="472.05" width="79.2" height="15.7" fill="#983647" stroke="#0a0a1c" stroke-width="0.5"/>
<rect x="556.95" y="472.05" width="0.9" height="15.7" fill="#9c6428" stroke="#0a0a1c" stroke-width="0.4"/><rect x="563.65" y="472.05" width="0.9" height="15.7" fill="#875828" stroke="#0a0a1c" stroke-width="0.4"/><rect x="571.75" y="472.05" width="0.9" height="15.7" fill="#a86a28" stroke="#0a0a1c" stroke-width="0.4"/>
<text x="574" y="481.07" font-size="5.9" fill="#dccdd1" textLength="14.02" lengthAdjust="spacingAndGlyphs" stroke="#dccdd1">Firing</text>
<text x="600.3" y="481.07" font-size="5.9" fill="#dccdd1" textLength="14.02" lengthAdjust="spacingAndGlyphs" stroke="#dccdd1">Firing</text>
<rect x="635.8" y="472.05" width="1.2" height="15.7" fill="#9c6428" stroke="#0a0a1c" stroke-width="0.4"/><rect x="639.4" y="472.05" width="1.2" height="15.7" fill="#875828" stroke="#0a0a1c" stroke-width="0.4"/><rect x="642.1" y="472.05" width="1.2" height="15.7" fill="#a86a28" stroke="#0a0a1c" stroke-width="0.4"/><rect x="646.1" y="472.05" width="1.2" height="15.7" fill="#774f27" stroke="#0a0a1c" stroke-width="0.4"/><rect x="656.3" y="472.05" width="3.7" height="15.7" fill="#9a632a" stroke="#0a0a1c" stroke-width="0.4"/><rect x="662" y="472.05" width="1.2" height="15.7" fill="#c07a29" stroke="#0a0a1c" stroke-width="0.4"/><rect x="665.7" y="472.05" width="1.2" height="15.7" fill="#9c6428" stroke="#0a0a1c" stroke-width="0.4"/><rect x="669.3" y="472.05" width="1.2" height="15.7" fill="#875828" stroke="#0a0a1c" stroke-width="0.4"/><rect x="675.3" y="472.05" width="2.1" height="15.7" fill="#a86a28" stroke="#0a0a1c" stroke-width="0.4"/><rect x="678.2" y="472.05" width="2.1" height="15.7" fill="#774f27" stroke="#0a0a1c" stroke-width="0.4"/><rect x="681.4" y="472.05" width="1.6" height="15.7" fill="#936028" stroke="#0a0a1c" stroke-width="0.4"/><rect x="684.4" y="472.05" width="1.2" height="15.7" fill="#c07a29" stroke="#0a0a1c" stroke-width="0.4"/><rect x="686.6" y="472.05" width="1.2" height="15.7" fill="#9c6428" stroke="#0a0a1c" stroke-width="0.4"/><rect x="689" y="472.05" width="1.2" height="15.7" fill="#875828" stroke="#0a0a1c" stroke-width="0.4"/><rect x="694.6" y="472.05" width="1.8" height="15.7" fill="#a86a28" stroke="#0a0a1c" stroke-width="0.4"/><rect x="700.2" y="472.05" width="1.2" height="15.7" fill="#774f27" stroke="#0a0a1c" stroke-width="0.4"/><rect x="702.9" y="472.05" width="1.2" height="15.7" fill="#936028" stroke="#0a0a1c" stroke-width="0.4"/><rect x="708" y="472.05" width="2" height="15.7" fill="#c07a29" stroke="#0a0a1c" stroke-width="0.4"/><rect x="712.5" y="472.05" width="2.5" height="15.7" fill="#9c6428" stroke="#0a0a1c" stroke-width="0.4"/><rect x="715.6" y="472.05" width="2.4" height="15.7" fill="#875828" stroke="#0a0a1c" stroke-width="0.4"/>
<rect x="720.7" y="472.05" width="15.3" height="15.7" fill="#c98029" stroke="#0a0a1c" stroke-width="0.4"/>
<rect x="724" y="472.05" width="1.2" height="15.7" fill="#b87128"/>
<rect x="730.5" y="472.05" width="1.6" height="15.7" fill="#a8682a"/>
<rect x="746.35" y="472.05" width="1.3" height="15.7" fill="#bd782a" stroke="#0a0a1c" stroke-width="0.4"/><rect x="750.5" y="472.05" width="2.5" height="15.7" fill="#a3692a" stroke="#0a0a1c" stroke-width="0.4"/><rect x="753.6" y="472.05" width="3.6" height="15.7" fill="#9a632a" stroke="#0a0a1c" stroke-width="0.4"/><rect x="761.65" y="472.05" width="1.3" height="15.7" fill="#8f5d29" stroke="#0a0a1c" stroke-width="0.4"/><rect x="768.6" y="472.05" width="2" height="15.7" fill="#b27129" stroke="#0a0a1c" stroke-width="0.4"/>
<rect x="757.2" y="472.05" width="2.4" height="15.7" fill="#b53b4b" stroke="#0a0a1c" stroke-width="0.4"/><rect x="770.6" y="472.05" width="2.5" height="15.7" fill="#b53b4b" stroke="#0a0a1c" stroke-width="0.4"/>
<rect x="792.4" y="472.05" width="1.2" height="15.7" fill="#bd782a" stroke="#0a0a1c" stroke-width="0.4"/><rect x="804.2" y="472.05" width="1.2" height="15.7" fill="#a3692a" stroke="#0a0a1c" stroke-width="0.4"/><rect x="806.9" y="472.05" width="1.2" height="15.7" fill="#c98029" stroke="#0a0a1c" stroke-width="0.4"/><rect x="810.5" y="472.05" width="1.2" height="15.7" fill="#8f5d29" stroke="#0a0a1c" stroke-width="0.4"/><rect x="829.8" y="472.05" width="6.5" height="15.7" fill="#9a632a" stroke="#0a0a1c" stroke-width="0.4"/><rect x="840.6" y="472.05" width="4.4" height="15.7" fill="#9a632a" stroke="#0a0a1c" stroke-width="0.4"/><rect x="848.2" y="472.05" width="4.5" height="15.7" fill="#9a632a" stroke="#0a0a1c" stroke-width="0.4"/><rect x="861.7" y="472.05" width="1.8" height="15.7" fill="#c98029" stroke="#0a0a1c" stroke-width="0.4"/>
<rect x="863.5" y="472.05" width="89.6" height="15.7" fill="#b53b4b" stroke="#0a0a1c" stroke-width="0.5"/>
<text x="864.8" y="481.07" font-size="5.9" fill="#ffffff" textLength="14.02" lengthAdjust="spacingAndGlyphs" stroke="#ffffff">Firing</text>
<rect x="954.4" y="472.05" width="1.2" height="15.7" fill="#bd782a" stroke="#0a0a1c" stroke-width="0.4"/><rect x="958.9" y="472.05" width="1.2" height="15.7" fill="#a3692a" stroke="#0a0a1c" stroke-width="0.4"/><rect x="963.9" y="472.05" width="1.2" height="15.7" fill="#c98029" stroke="#0a0a1c" stroke-width="0.4"/><rect x="966.1" y="472.05" width="1.2" height="15.7" fill="#8f5d29" stroke="#0a0a1c" stroke-width="0.4"/><rect x="975.1" y="472.05" width="1.2" height="15.7" fill="#b27129" stroke="#0a0a1c" stroke-width="0.4"/><rect x="977.8" y="472.05" width="1.2" height="15.7" fill="#bd782a" stroke="#0a0a1c" stroke-width="0.4"/><rect x="992.4" y="472.05" width="1.2" height="15.7" fill="#a3692a" stroke="#0a0a1c" stroke-width="0.4"/><rect x="995.9" y="472.05" width="1.2" height="15.7" fill="#c98029" stroke="#0a0a1c" stroke-width="0.4"/><rect x="1001.4" y="472.05" width="1.2" height="15.7" fill="#8f5d29" stroke="#0a0a1c" stroke-width="0.4"/><rect x="1005.5" y="472.05" width="1.2" height="15.7" fill="#b27129" stroke="#0a0a1c" stroke-width="0.4"/><rect x="1008.6" y="472.05" width="1.2" height="15.7" fill="#bd782a" stroke="#0a0a1c" stroke-width="0.4"/><rect x="1015.5" y="472.05" width="1.1" height="15.7" fill="#a3692a" stroke="#0a0a1c" stroke-width="0.4"/><rect x="1017.2" y="472.05" width="1.1" height="15.7" fill="#c98029" stroke="#0a0a1c" stroke-width="0.4"/><rect x="1022.1" y="472.05" width="1.2" height="15.7" fill="#8f5d29" stroke="#0a0a1c" stroke-width="0.4"/><rect x="1028.2" y="472.05" width="1.4" height="15.7" fill="#b27129" stroke="#0a0a1c" stroke-width="0.4"/><rect x="1030.4" y="472.05" width="1.4" height="15.7" fill="#bd782a" stroke="#0a0a1c" stroke-width="0.4"/>
<line x1="505.2" y1="319" x2="505.2" y2="488" stroke="#ffffff" stroke-width="0.6" stroke-opacity="0.045"/>
<line x1="542.3" y1="319" x2="542.3" y2="488" stroke="#ffffff" stroke-width="0.6" stroke-opacity="0.045"/>
<line x1="579.4" y1="319" x2="579.4" y2="488" stroke="#ffffff" stroke-width="0.6" stroke-opacity="0.045"/>
<line x1="616.5" y1="319" x2="616.5" y2="488" stroke="#ffffff" stroke-width="0.6" stroke-opacity="0.045"/>
<line x1="653.6" y1="319" x2="653.6" y2="488" stroke="#ffffff" stroke-width="0.6" stroke-opacity="0.045"/>
<line x1="690.7" y1="319" x2="690.7" y2="488" stroke="#ffffff" stroke-width="0.6" stroke-opacity="0.045"/>
<line x1="727.8" y1="319" x2="727.8" y2="488" stroke="#ffffff" stroke-width="0.6" stroke-opacity="0.045"/>
<line x1="764.9" y1="319" x2="764.9" y2="488" stroke="#ffffff" stroke-width="0.6" stroke-opacity="0.045"/>
<line x1="802" y1="319" x2="802" y2="488" stroke="#ffffff" stroke-width="0.6" stroke-opacity="0.045"/>
<line x1="839.1" y1="319" x2="839.1" y2="488" stroke="#ffffff" stroke-width="0.6" stroke-opacity="0.045"/>
<line x1="876.2" y1="319" x2="876.2" y2="488" stroke="#ffffff" stroke-width="0.6" stroke-opacity="0.045"/>
<line x1="913.3" y1="319" x2="913.3" y2="488" stroke="#ffffff" stroke-width="0.6" stroke-opacity="0.045"/>
<line x1="950.4" y1="319" x2="950.4" y2="488" stroke="#ffffff" stroke-width="0.6" stroke-opacity="0.045"/>
<line x1="987.5" y1="319" x2="987.5" y2="488" stroke="#ffffff" stroke-width="0.6" stroke-opacity="0.045"/>
<line x1="1024.6" y1="319" x2="1024.6" y2="488" stroke="#ffffff" stroke-width="0.6" stroke-opacity="0.045"/>
<text x="400.9" y="480.59" font-size="5.8" fill="#b9bac8" textLength="85.1" lengthAdjust="spacingAndGlyphs" stroke="#b9bac8">freenas-backup doesn't resolve→all</text>
<text x="505.2" y="495.42" font-size="5.9" fill="#b3b4c2" text-anchor="middle" textLength="28.5" lengthAdjust="spacingAndGlyphs" stroke="#b3b4c2">11/30 00:00</text>
<text x="542.3" y="495.42" font-size="5.9" fill="#b3b4c2" text-anchor="middle" textLength="28.5" lengthAdjust="spacingAndGlyphs" stroke="#b3b4c2">12/01 00:00</text>
<text x="579.4" y="495.42" font-size="5.9" fill="#b3b4c2" text-anchor="middle" textLength="28.5" lengthAdjust="spacingAndGlyphs" stroke="#b3b4c2">12/02 00:00</text>
<text x="616.5" y="495.42" font-size="5.9" fill="#b3b4c2" text-anchor="middle" textLength="28.5" lengthAdjust="spacingAndGlyphs" stroke="#b3b4c2">12/03 00:00</text>
<text x="653.6" y="495.42" font-size="5.9" fill="#b3b4c2" text-anchor="middle" textLength="28.5" lengthAdjust="spacingAndGlyphs" stroke="#b3b4c2">12/04 00:00</text>
<text x="690.7" y="495.42" font-size="5.9" fill="#b3b4c2" text-anchor="middle" textLength="28.5" lengthAdjust="spacingAndGlyphs" stroke="#b3b4c2">12/05 00:00</text>
<text x="727.8" y="495.42" font-size="5.9" fill="#b3b4c2" text-anchor="middle" textLength="28.5" lengthAdjust="spacingAndGlyphs" stroke="#b3b4c2">12/06 00:00</text>
<text x="764.9" y="495.42" font-size="5.9" fill="#b3b4c2" text-anchor="middle" textLength="28.5" lengthAdjust="spacingAndGlyphs" stroke="#b3b4c2">12/07 00:00</text>
<text x="802" y="495.42" font-size="5.9" fill="#b3b4c2" text-anchor="middle" textLength="28.5" lengthAdjust="spacingAndGlyphs" stroke="#b3b4c2">12/08 00:00</text>
<text x="839.1" y="495.42" font-size="5.9" fill="#b3b4c2" text-anchor="middle" textLength="28.5" lengthAdjust="spacingAndGlyphs" stroke="#b3b4c2">12/09 00:00</text>
<text x="876.2" y="495.42" font-size="5.9" fill="#b3b4c2" text-anchor="middle" textLength="28.5" lengthAdjust="spacingAndGlyphs" stroke="#b3b4c2">12/10 00:00</text>
<text x="913.3" y="495.42" font-size="5.9" fill="#b3b4c2" text-anchor="middle" textLength="28.5" lengthAdjust="spacingAndGlyphs" stroke="#b3b4c2">12/11 00:00</text>
<text x="950.4" y="495.42" font-size="5.9" fill="#b3b4c2" text-anchor="middle" textLength="28.5" lengthAdjust="spacingAndGlyphs" stroke="#b3b4c2">12/12 00:00</text>
<text x="987.5" y="495.42" font-size="5.9" fill="#b3b4c2" text-anchor="middle" textLength="28.5" lengthAdjust="spacingAndGlyphs" stroke="#b3b4c2">12/13 00:00</text>
<text x="1024.6" y="495.42" font-size="5.9" fill="#b3b4c2" text-anchor="middle" textLength="28.5" lengthAdjust="spacingAndGlyphs" stroke="#b3b4c2">12/14 00:00</text>
</g>
<g class="panel alerts">
<rect x="396" y="503.5" width="661" height="90" fill="#181b1f" stroke="#272a30" stroke-width="0.6"/>
<line x1="518" y1="522" x2="518" y2="580" stroke="#24272d" stroke-width="0.6"/>
<line x1="555.7" y1="522" x2="555.7" y2="580" stroke="#24272d" stroke-width="0.6"/>
<line x1="593.4" y1="522" x2="593.4" y2="580" stroke="#24272d" stroke-width="0.6"/>
<line x1="631.1" y1="522" x2="631.1" y2="580" stroke="#24272d" stroke-width="0.6"/>
<line x1="668.8" y1="522" x2="668.8" y2="580" stroke="#24272d" stroke-width="0.6"/>
<line x1="706.5" y1="522" x2="706.5" y2="580" stroke="#24272d" stroke-width="0.6"/>
<line x1="744.2" y1="522" x2="744.2" y2="580" stroke="#24272d" stroke-width="0.6"/>
<line x1="782" y1="522" x2="782" y2="580" stroke="#24272d" stroke-width="0.6"/>
<line x1="820.4" y1="522" x2="820.4" y2="580" stroke="#24272d" stroke-width="0.6"/>
<line x1="858.7" y1="522" x2="858.7" y2="580" stroke="#24272d" stroke-width="0.6"/>
<line x1="895.8" y1="522" x2="895.8" y2="580" stroke="#24272d" stroke-width="0.6"/>
<line x1="933.8" y1="522" x2="933.8" y2="580" stroke="#24272d" stroke-width="0.6"/>
<line x1="971.4" y1="522" x2="971.4" y2="580" stroke="#24272d" stroke-width="0.6"/>
<line x1="1009" y1="522" x2="1009" y2="580" stroke="#24272d" stroke-width="0.6"/>
<line x1="1046.8" y1="522" x2="1046.8" y2="580" stroke="#24272d" stroke-width="0.6"/>
<text x="726.5" y="514.41" font-size="6.7" fill="#a9aab8" text-anchor="middle" font-weight="700" textLength="61.3" lengthAdjust="spacingAndGlyphs">Number of alerts fired</text>
<rect x="481.9" y="526" width="4.73" height="17.6" fill="#29612a" rx="0.5" stroke="#1d4a1f" stroke-width="0.4"/><rect x="486.63" y="526" width="4.73" height="17.6" fill="#29612a" rx="0.5" stroke="#1d4a1f" stroke-width="0.4"/><rect x="491.36" y="526" width="4.73" height="17.6" fill="#275d28" rx="0.5" stroke="#1d4a1f" stroke-width="0.4"/><rect x="496.1" y="526" width="4.73" height="17.6" fill="#235525" rx="0.5" stroke="#1d4a1f" stroke-width="0.4"/><rect x="500.83" y="526" width="4.73" height="17.6" fill="#255926" rx="0.5" stroke="#1d4a1f" stroke-width="0.4"/><rect x="505.56" y="526" width="4.73" height="17.6" fill="#275d28" rx="0.5" stroke="#1d4a1f" stroke-width="0.4"/><rect x="510.29" y="526" width="4.73" height="17.6" fill="#255926" rx="0.5" stroke="#1d4a1f" stroke-width="0.4"/><rect x="515.03" y="526" width="4.73" height="17.6" fill="#275d28" rx="0.5" stroke="#1d4a1f" stroke-width="0.4"/><rect x="519.76" y="526" width="4.73" height="17.6" fill="#29612a" rx="0.5" stroke="#1d4a1f" stroke-width="0.4"/><rect x="524.49" y="526" width="4.73" height="17.6" fill="#235525" rx="0.5" stroke="#1d4a1f" stroke-width="0.4"/><rect x="529.23" y="526" width="4.73" height="17.6" fill="#255926" rx="0.5" stroke="#1d4a1f" stroke-width="0.4"/><rect x="533.96" y="526" width="4.73" height="17.6" fill="#235525" rx="0.5" stroke="#1d4a1f" stroke-width="0.4"/><rect x="538.69" y="526" width="4.73" height="17.6" fill="#275d28" rx="0.5" stroke="#1d4a1f" stroke-width="0.4"/><rect x="543.42" y="526" width="4.73" height="17.6" fill="#255926" rx="0.5" stroke="#1d4a1f" stroke-width="0.4"/><rect x="548.15" y="526" width="4.73" height="17.6" fill="#275d28" rx="0.5" stroke="#1d4a1f" stroke-width="0.4"/><rect x="552.89" y="526" width="4.73" height="17.6" fill="#255926" rx="0.5" stroke="#1d4a1f" stroke-width="0.4"/><rect x="557.62" y="526" width="4.73" height="17.6" fill="#235525" rx="0.5" stroke="#1d4a1f" stroke-width="0.4"/><rect x="562.35" y="526" width="4.73" height="17.6" fill="#29612a" rx="0.5" stroke="#1d4a1f" stroke-width="0.4"/><rect x="567.09" y="526" width="4.73" height="17.6" fill="#255926" rx="0.5" stroke="#1d4a1f" stroke-width="0.4"/><rect x="571.82" y="526" width="4.73" height="17.6" fill="#235525" rx="0.5" stroke="#1d4a1f" stroke-width="0.4"/><rect x="576.55" y="526" width="4.73" height="17.6" fill="#255926" rx="0.5" stroke="#1d4a1f" stroke-width="0.4"/><rect x="581.28" y="526" width="4.73" height="17.6" fill="#275d28" rx="0.5" stroke="#1d4a1f" stroke-width="0.4"/><rect x="586.01" y="526" width="4.73" height="17.6" fill="#255926" rx="0.5" stroke="#1d4a1f" stroke-width="0.4"/><rect x="590.75" y="526" width="4.73" height="17.6" fill="#235525" rx="0.5" stroke="#1d4a1f" stroke-width="0.4"/><rect x="595.48" y="526" width="4.73" height="17.6" fill="#255926" rx="0.5" stroke="#1d4a1f" stroke-width="0.4"/><rect x="600.21" y="526" width="4.73" height="17.6" fill="#255926" rx="0.5" stroke="#1d4a1f" stroke-width="0.4"/><rect x="604.94" y="526" width="4.73" height="17.6" fill="#275d28" rx="0.5" stroke="#1d4a1f" stroke-width="0.4"/><rect x="609.68" y="526" width="4.73" height="17.6" fill="#275d28" rx="0.5" stroke="#1d4a1f" stroke-width="0.4"/><rect x="614.41" y="526" width="4.73" height="17.6" fill="#255926" rx="0.5" stroke="#1d4a1f" stroke-width="0.4"/><rect x="619.14" y="526" width="4.73" height="17.6" fill="#255926" rx="0.5" stroke="#1d4a1f" stroke-width="0.4"/><rect x="623.88" y="526" width="4.73" height="17.6" fill="#255926" rx="0.5" stroke="#1d4a1f" stroke-width="0.4"/><rect x="628.61" y="526" width="4.73" height="17.6" fill="#255926" rx="0.5" stroke="#1d4a1f" stroke-width="0.4"/><rect x="633.34" y="526" width="4.73" height="17.6" fill="#29612a" rx="0.5" stroke="#1d4a1f" stroke-width="0.4"/><rect x="638.07" y="526" width="4.73" height="17.6" fill="#29612a" rx="0.5" stroke="#1d4a1f" stroke-width="0.4"/><rect x="642.8" y="526" width="4.73" height="17.6" fill="#255926" rx="0.5" stroke="#1d4a1f" stroke-width="0.4"/><rect x="647.54" y="526" width="4.73" height="17.6" fill="#255926" rx="0.5" stroke="#1d4a1f" stroke-width="0.4"/><rect x="652.27" y="526" width="4.73" height="17.6" fill="#255926" rx="0.5" stroke="#1d4a1f" stroke-width="0.4"/><rect x="657" y="526" width="4.73" height="17.6" fill="#255926" rx="0.5" stroke="#1d4a1f" stroke-width="0.4"/><rect x="661.74" y="526" width="4.73" height="17.6" fill="#235525" rx="0.5" stroke="#1d4a1f" stroke-width="0.4"/><rect x="666.47" y="526" width="4.73" height="17.6" fill="#29612a" rx="0.5" stroke="#1d4a1f" stroke-width="0.4"/><rect x="671.2" y="526" width="4.73" height="17.6" fill="#275d28" rx="0.5" stroke="#1d4a1f" stroke-width="0.4"/><rect x="675.93" y="526" width="4.73" height="17.6" fill="#29612a" rx="0.5" stroke="#1d4a1f" stroke-width="0.4"/><rect x="680.66" y="526" width="4.73" height="17.6" fill="#235525" rx="0.5" stroke="#1d4a1f" stroke-width="0.4"/><rect x="685.4" y="526" width="4.73" height="17.6" fill="#255926" rx="0.5" stroke="#1d4a1f" stroke-width="0.4"/><rect x="690.13" y="526" width="4.73" height="17.6" fill="#255926" rx="0.5" stroke="#1d4a1f" stroke-width="0.4"/><rect x="694.86" y="526" width="4.73" height="17.6" fill="#29612a" rx="0.5" stroke="#1d4a1f" stroke-width="0.4"/><rect x="699.6" y="526" width="4.73" height="17.6" fill="#275d28" rx="0.5" stroke="#1d4a1f" stroke-width="0.4"/><rect x="704.33" y="526" width="4.73" height="17.6" fill="#29612a" rx="0.5" stroke="#1d4a1f" stroke-width="0.4"/><rect x="709.06" y="526" width="4.73" height="17.6" fill="#29612a" rx="0.5" stroke="#1d4a1f" stroke-width="0.4"/><rect x="713.79" y="526" width="4.73" height="17.6" fill="#275d28" rx="0.5" stroke="#1d4a1f" stroke-width="0.4"/><rect x="718.52" y="526" width="4.73" height="17.6" fill="#29612a" rx="0.5" stroke="#1d4a1f" stroke-width="0.4"/><rect x="723.26" y="526" width="4.73" height="17.6" fill="#275d28" rx="0.5" stroke="#1d4a1f" stroke-width="0.4"/><rect x="727.99" y="526" width="4.73" height="17.6" fill="#29612a" rx="0.5" stroke="#1d4a1f" stroke-width="0.4"/><rect x="732.72" y="526" width="4.73" height="17.6" fill="#29612a" rx="0.5" stroke="#1d4a1f" stroke-width="0.4"/><rect x="737.45" y="526" width="4.73" height="17.6" fill="#29612a" rx="0.5" stroke="#1d4a1f" stroke-width="0.4"/><rect x="742.19" y="526" width="4.73" height="17.6" fill="#235525" rx="0.5" stroke="#1d4a1f" stroke-width="0.4"/><rect x="746.92" y="526" width="4.73" height="17.6" fill="#29612a" rx="0.5" stroke="#1d4a1f" stroke-width="0.4"/><rect x="751.65" y="526" width="4.73" height="17.6" fill="#255926" rx="0.5" stroke="#1d4a1f" stroke-width="0.4"/><rect x="756.38" y="526" width="4.73" height="17.6" fill="#235525" rx="0.5" stroke="#1d4a1f" stroke-width="0.4"/><rect x="761.12" y="526" width="4.73" height="17.6" fill="#235525" rx="0.5" stroke="#1d4a1f" stroke-width="0.4"/><rect x="765.85" y="526" width="4.73" height="17.6" fill="#255926" rx="0.5" stroke="#1d4a1f" stroke-width="0.4"/><rect x="770.58" y="526" width="4.73" height="17.6" fill="#275d28" rx="0.5" stroke="#1d4a1f" stroke-width="0.4"/><rect x="775.32" y="526" width="4.73" height="17.6" fill="#29612a" rx="0.5" stroke="#1d4a1f" stroke-width="0.4"/><rect x="780.05" y="526" width="4.73" height="17.6" fill="#275d28" rx="0.5" stroke="#1d4a1f" stroke-width="0.4"/><rect x="784.78" y="526" width="4.73" height="17.6" fill="#29612a" rx="0.5" stroke="#1d4a1f" stroke-width="0.4"/><rect x="789.51" y="526" width="4.73" height="17.6" fill="#235525" rx="0.5" stroke="#1d4a1f" stroke-width="0.4"/><rect x="794.24" y="526" width="4.73" height="17.6" fill="#275d28" rx="0.5" stroke="#1d4a1f" stroke-width="0.4"/><rect x="798.98" y="526" width="4.73" height="17.6" fill="#235525" rx="0.5" stroke="#1d4a1f" stroke-width="0.4"/><rect x="803.71" y="526" width="4.73" height="17.6" fill="#29612a" rx="0.5" stroke="#1d4a1f" stroke-width="0.4"/><rect x="808.44" y="526" width="4.73" height="17.6" fill="#235525" rx="0.5" stroke="#1d4a1f" stroke-width="0.4"/><rect x="813.17" y="526" width="4.73" height="17.6" fill="#275d28" rx="0.5" stroke="#1d4a1f" stroke-width="0.4"/><rect x="817.91" y="526" width="4.73" height="17.6" fill="#235525" rx="0.5" stroke="#1d4a1f" stroke-width="0.4"/><rect x="822.64" y="526" width="4.73" height="17.6" fill="#275d28" rx="0.5" stroke="#1d4a1f" stroke-width="0.4"/><rect x="827.37" y="526" width="4.73" height="17.6" fill="#255926" rx="0.5" stroke="#1d4a1f" stroke-width="0.4"/><rect x="832.11" y="526" width="4.73" height="17.6" fill="#255926" rx="0.5" stroke="#1d4a1f" stroke-width="0.4"/><rect x="836.84" y="526" width="4.73" height="17.6" fill="#275d28" rx="0.5" stroke="#1d4a1f" stroke-width="0.4"/><rect x="841.57" y="526" width="4.73" height="17.6" fill="#255926" rx="0.5" stroke="#1d4a1f" stroke-width="0.4"/><rect x="846.3" y="526" width="4.73" height="17.6" fill="#235525" rx="0.5" stroke="#1d4a1f" stroke-width="0.4"/><rect x="851.03" y="526" width="4.73" height="17.6" fill="#29612a" rx="0.5" stroke="#1d4a1f" stroke-width="0.4"/><rect x="855.77" y="526" width="4.73" height="17.6" fill="#29612a" rx="0.5" stroke="#1d4a1f" stroke-width="0.4"/><rect x="860.5" y="526" width="4.73" height="17.6" fill="#29612a" rx="0.5" stroke="#1d4a1f" stroke-width="0.4"/><rect x="865.23" y="526" width="4.73" height="17.6" fill="#235525" rx="0.5" stroke="#1d4a1f" stroke-width="0.4"/><rect x="869.96" y="526" width="4.73" height="17.6" fill="#275d28" rx="0.5" stroke="#1d4a1f" stroke-width="0.4"/><rect x="874.7" y="526" width="4.73" height="17.6" fill="#29612a" rx="0.5" stroke="#1d4a1f" stroke-width="0.4"/><rect x="879.43" y="526" width="4.73" height="17.6" fill="#29612a" rx="0.5" stroke="#1d4a1f" stroke-width="0.4"/><rect x="884.16" y="526" width="4.73" height="17.6" fill="#275d28" rx="0.5" stroke="#1d4a1f" stroke-width="0.4"/><rect x="888.89" y="526" width="4.73" height="17.6" fill="#235525" rx="0.5" stroke="#1d4a1f" stroke-width="0.4"/><rect x="893.63" y="526" width="4.73" height="17.6" fill="#275d28" rx="0.5" stroke="#1d4a1f" stroke-width="0.4"/><rect x="898.36" y="526" width="4.73" height="17.6" fill="#255926" rx="0.5" stroke="#1d4a1f" stroke-width="0.4"/><rect x="903.09" y="526" width="4.73" height="17.6" fill="#29612a" rx="0.5" stroke="#1d4a1f" stroke-width="0.4"/><rect x="907.83" y="526" width="4.73" height="17.6" fill="#29612a" rx="0.5" stroke="#1d4a1f" stroke-width="0.4"/><rect x="912.56" y="526" width="4.73" height="17.6" fill="#255926" rx="0.5" stroke="#1d4a1f" stroke-width="0.4"/><rect x="917.29" y="526" width="4.73" height="17.6" fill="#29612a" rx="0.5" stroke="#1d4a1f" stroke-width="0.4"/><rect x="922.02" y="526" width="4.73" height="17.6" fill="#29612a" rx="0.5" stroke="#1d4a1f" stroke-width="0.4"/><rect x="926.75" y="526" width="4.73" height="17.6" fill="#275d28" rx="0.5" stroke="#1d4a1f" stroke-width="0.4"/><rect x="931.49" y="526" width="4.73" height="17.6" fill="#29612a" rx="0.5" stroke="#1d4a1f" stroke-width="0.4"/><rect x="936.22" y="526" width="4.73" height="17.6" fill="#29612a" rx="0.5" stroke="#1d4a1f" stroke-width="0.4"/><rect x="940.95" y="526" width="4.73" height="17.6" fill="#29612a" rx="0.5" stroke="#1d4a1f" stroke-width="0.4"/><rect x="945.68" y="526" width="4.73" height="17.6" fill="#255926" rx="0.5" stroke="#1d4a1f" stroke-width="0.4"/><rect x="950.42" y="526" width="4.73" height="17.6" fill="#275d28" rx="0.5" stroke="#1d4a1f" stroke-width="0.4"/><rect x="955.15" y="526" width="4.73" height="17.6" fill="#255926" rx="0.5" stroke="#1d4a1f" stroke-width="0.4"/><rect x="959.88" y="526" width="4.73" height="17.6" fill="#29612a" rx="0.5" stroke="#1d4a1f" stroke-width="0.4"/><rect x="964.62" y="526" width="4.73" height="17.6" fill="#235525" rx="0.5" stroke="#1d4a1f" stroke-width="0.4"/><rect x="969.35" y="526" width="4.73" height="17.6" fill="#255926" rx="0.5" stroke="#1d4a1f" stroke-width="0.4"/><rect x="974.08" y="526" width="4.73" height="17.6" fill="#275d28" rx="0.5" stroke="#1d4a1f" stroke-width="0.4"/><rect x="978.81" y="526" width="4.73" height="17.6" fill="#275d28" rx="0.5" stroke="#1d4a1f" stroke-width="0.4"/><rect x="983.54" y="526" width="4.73" height="17.6" fill="#235525" rx="0.5" stroke="#1d4a1f" stroke-width="0.4"/><rect x="988.28" y="526" width="4.73" height="17.6" fill="#275d28" rx="0.5" stroke="#1d4a1f" stroke-width="0.4"/><rect x="993.01" y="526" width="4.73" height="17.6" fill="#255926" rx="0.5" stroke="#1d4a1f" stroke-width="0.4"/><rect x="997.74" y="526" width="4.73" height="17.6" fill="#29612a" rx="0.5" stroke="#1d4a1f" stroke-width="0.4"/><rect x="1002.48" y="526" width="4.73" height="17.6" fill="#29612a" rx="0.5" stroke="#1d4a1f" stroke-width="0.4"/><rect x="1007.21" y="526" width="4.73" height="17.6" fill="#235525" rx="0.5" stroke="#1d4a1f" stroke-width="0.4"/><rect x="1011.94" y="526" width="4.73" height="17.6" fill="#235525" rx="0.5" stroke="#1d4a1f" stroke-width="0.4"/><rect x="1016.67" y="526" width="4.73" height="17.6" fill="#255926" rx="0.5" stroke="#1d4a1f" stroke-width="0.4"/><rect x="1021.4" y="526" width="4.73" height="17.6" fill="#275d28" rx="0.5" stroke="#1d4a1f" stroke-width="0.4"/><rect x="1026.14" y="526" width="4.73" height="17.6" fill="#275d28" rx="0.5" stroke="#1d4a1f" stroke-width="0.4"/><rect x="1030.87" y="526" width="4.73" height="17.6" fill="#235525" rx="0.5" stroke="#1d4a1f" stroke-width="0.4"/><rect x="1035.6" y="526" width="4.73" height="17.6" fill="#29612a" rx="0.5" stroke="#1d4a1f" stroke-width="0.4"/><rect x="1040.34" y="526" width="4.73" height="17.6" fill="#255926" rx="0.5" stroke="#1d4a1f" stroke-width="0.4"/><rect x="1045.07" y="526" width="4.73" height="17.6" fill="#255926" rx="0.5" stroke="#1d4a1f" stroke-width="0.4"/>
<rect x="543.42" y="545.6" width="4.73" height="17.6" fill="#8f8c5e" rx="0.5" stroke="#14161a" stroke-width="0.35"/>
<rect x="548.15" y="545.6" width="4.73" height="17.6" fill="#651f26" rx="0.5" stroke="#14161a" stroke-width="0.35"/><rect x="552.89" y="545.6" width="4.73" height="17.6" fill="#5c1f24" rx="0.5" stroke="#14161a" stroke-width="0.35"/><rect x="557.62" y="545.6" width="4.73" height="17.6" fill="#651f26" rx="0.5" stroke="#14161a" stroke-width="0.35"/><rect x="562.35" y="545.6" width="4.73" height="17.6" fill="#561d22" rx="0.5" stroke="#14161a" stroke-width="0.35"/><rect x="567.09" y="545.6" width="4.73" height="17.6" fill="#5c1f24" rx="0.5" stroke="#14161a" stroke-width="0.35"/><rect x="571.82" y="545.6" width="4.73" height="17.6" fill="#5c1f24" rx="0.5" stroke="#14161a" stroke-width="0.35"/><rect x="576.55" y="545.6" width="4.73" height="17.6" fill="#561d22" rx="0.5" stroke="#14161a" stroke-width="0.35"/><rect x="581.28" y="545.6" width="4.73" height="17.6" fill="#5c1f24" rx="0.5" stroke="#14161a" stroke-width="0.35"/><rect x="586.01" y="545.6" width="4.73" height="17.6" fill="#651f26" rx="0.5" stroke="#14161a" stroke-width="0.35"/><rect x="590.75" y="545.6" width="4.73" height="17.6" fill="#561d22" rx="0.5" stroke="#14161a" stroke-width="0.35"/><rect x="595.48" y="545.6" width="4.73" height="17.6" fill="#5c1f24" rx="0.5" stroke="#14161a" stroke-width="0.35"/><rect x="600.21" y="545.6" width="4.73" height="17.6" fill="#561d22" rx="0.5" stroke="#14161a" stroke-width="0.35"/><rect x="604.94" y="545.6" width="4.73" height="17.6" fill="#5c1f24" rx="0.5" stroke="#14161a" stroke-width="0.35"/><rect x="609.68" y="545.6" width="4.73" height="17.6" fill="#5c1f24" rx="0.5" stroke="#14161a" stroke-width="0.35"/><rect x="614.41" y="545.6" width="4.73" height="17.6" fill="#5c1f24" rx="0.5" stroke="#14161a" stroke-width="0.35"/><rect x="619.14" y="545.6" width="4.73" height="17.6" fill="#651f26" rx="0.5" stroke="#14161a" stroke-width="0.35"/><rect x="623.88" y="545.6" width="4.73" height="17.6" fill="#651f26" rx="0.5" stroke="#14161a" stroke-width="0.35"/>
<rect x="628.61" y="545.6" width="4.73" height="17.6" fill="#a6a26b" rx="0.5" stroke="#14161a" stroke-width="0.35"/><rect x="633.34" y="545.6" width="4.73" height="17.6" fill="#aba770" rx="0.5" stroke="#14161a" stroke-width="0.35"/><rect x="638.07" y="545.6" width="4.73" height="17.6" fill="#aba770" rx="0.5" stroke="#14161a" stroke-width="0.35"/><rect x="642.8" y="545.6" width="4.73" height="17.6" fill="#a6a26b" rx="0.5" stroke="#14161a" stroke-width="0.35"/><rect x="647.54" y="545.6" width="4.73" height="17.6" fill="#a6a26b" rx="0.5" stroke="#14161a" stroke-width="0.35"/>
<rect x="652.27" y="545.6" width="4.73" height="17.6" fill="#9c2432" rx="0.5" stroke="#14161a" stroke-width="0.35"/>
<rect x="657" y="545.6" width="4.73" height="17.6" fill="#9f9b66" rx="0.5" stroke="#14161a" stroke-width="0.35"/><rect x="661.74" y="545.6" width="4.73" height="17.6" fill="#a6a26b" rx="0.5" stroke="#14161a" stroke-width="0.35"/><rect x="666.47" y="545.6" width="4.73" height="17.6" fill="#aba770" rx="0.5" stroke="#14161a" stroke-width="0.35"/><rect x="671.2" y="545.6" width="4.73" height="17.6" fill="#aba770" rx="0.5" stroke="#14161a" stroke-width="0.35"/><rect x="675.93" y="545.6" width="4.73" height="17.6" fill="#9f9b66" rx="0.5" stroke="#14161a" stroke-width="0.35"/><rect x="680.66" y="545.6" width="4.73" height="17.6" fill="#a6a26b" rx="0.5" stroke="#14161a" stroke-width="0.35"/>
<rect x="690.13" y="545.6" width="4.73" height="17.6" fill="#ab865f" rx="0.5" stroke="#14161a" stroke-width="0.35"/>
<rect x="751.65" y="545.6" width="4.73" height="17.6" fill="#b08a61" rx="0.5" stroke="#14161a" stroke-width="0.35"/>
<rect x="765.85" y="545.6" width="4.73" height="17.6" fill="#9c2432" rx="0.5" stroke="#14161a" stroke-width="0.35"/>
<rect x="808.44" y="545.6" width="4.73" height="17.6" fill="#bdb875" rx="0.5" stroke="#14161a" stroke-width="0.35"/><rect x="813.17" y="545.6" width="4.73" height="17.6" fill="#b5b06f" rx="0.5" stroke="#14161a" stroke-width="0.35"/><rect x="817.91" y="545.6" width="4.73" height="17.6" fill="#b5b06f" rx="0.5" stroke="#14161a" stroke-width="0.35"/><rect x="822.64" y="545.6" width="4.73" height="17.6" fill="#b5b06f" rx="0.5" stroke="#14161a" stroke-width="0.35"/><rect x="827.37" y="545.6" width="4.73" height="17.6" fill="#b5b06f" rx="0.5" stroke="#14161a" stroke-width="0.35"/><rect x="832.11" y="545.6" width="4.73" height="17.6" fill="#bdb875" rx="0.5" stroke="#14161a" stroke-width="0.35"/><rect x="836.84" y="545.6" width="4.73" height="17.6" fill="#c4bf7b" rx="0.5" stroke="#14161a" stroke-width="0.35"/><rect x="841.57" y="545.6" width="4.73" height="17.6" fill="#b5b06f" rx="0.5" stroke="#14161a" stroke-width="0.35"/><rect x="846.3" y="545.6" width="4.73" height="17.6" fill="#c4bf7b" rx="0.5" stroke="#14161a" stroke-width="0.35"/><rect x="851.03" y="545.6" width="4.73" height="17.6" fill="#c4bf7b" rx="0.5" stroke="#14161a" stroke-width="0.35"/><rect x="855.77" y="545.6" width="4.73" height="17.6" fill="#b5b06f" rx="0.5" stroke="#14161a" stroke-width="0.35"/>
<rect x="860.5" y="545.6" width="4.73" height="17.6" fill="#c0966a" rx="0.5" stroke="#14161a" stroke-width="0.35"/><rect x="865.23" y="545.6" width="4.73" height="17.6" fill="#c0966a" rx="0.5" stroke="#14161a" stroke-width="0.35"/><rect x="869.96" y="545.6" width="4.73" height="17.6" fill="#c59b6e" rx="0.5" stroke="#14161a" stroke-width="0.35"/><rect x="874.7" y="545.6" width="4.73" height="17.6" fill="#c59b6e" rx="0.5" stroke="#14161a" stroke-width="0.35"/><rect x="879.43" y="545.6" width="4.73" height="17.6" fill="#c0966a" rx="0.5" stroke="#14161a" stroke-width="0.35"/><rect x="884.16" y="545.6" width="4.73" height="17.6" fill="#c0966a" rx="0.5" stroke="#14161a" stroke-width="0.35"/><rect x="888.89" y="545.6" width="4.73" height="17.6" fill="#c0966a" rx="0.5" stroke="#14161a" stroke-width="0.35"/><rect x="893.63" y="545.6" width="4.73" height="17.6" fill="#c0966a" rx="0.5" stroke="#14161a" stroke-width="0.35"/><rect x="898.36" y="545.6" width="4.73" height="17.6" fill="#c0966a" rx="0.5" stroke="#14161a" stroke-width="0.35"/><rect x="903.09" y="545.6" width="4.73" height="17.6" fill="#c59b6e" rx="0.5" stroke="#14161a" stroke-width="0.35"/><rect x="907.83" y="545.6" width="4.73" height="17.6" fill="#c0966a" rx="0.5" stroke="#14161a" stroke-width="0.35"/><rect x="912.56" y="545.6" width="4.73" height="17.6" fill="#c59b6e" rx="0.5" stroke="#14161a" stroke-width="0.35"/><rect x="917.29" y="545.6" width="4.73" height="17.6" fill="#bb9064" rx="0.5" stroke="#14161a" stroke-width="0.35"/><rect x="922.02" y="545.6" width="4.73" height="17.6" fill="#c0966a" rx="0.5" stroke="#14161a" stroke-width="0.35"/><rect x="926.75" y="545.6" width="4.73" height="17.6" fill="#c0966a" rx="0.5" stroke="#14161a" stroke-width="0.35"/><rect x="931.49" y="545.6" width="4.73" height="17.6" fill="#bb9064" rx="0.5" stroke="#14161a" stroke-width="0.35"/><rect x="936.22" y="545.6" width="4.73" height="17.6" fill="#bb9064" rx="0.5" stroke="#14161a" stroke-width="0.35"/><rect x="940.95" y="545.6" width="4.73" height="17.6" fill="#c59b6e" rx="0.5" stroke="#14161a" stroke-width="0.35"/><rect x="945.68" y="545.6" width="4.73" height="17.6" fill="#bb9064" rx="0.5" stroke="#14161a" stroke-width="0.35"/><rect x="950.42" y="545.6" width="4.73" height="17.6" fill="#bb9064" rx="0.5" stroke="#14161a" stroke-width="0.35"/>
<rect x="955.15" y="545.6" width="4.73" height="17.6" fill="#b5b06f" rx="0.5" stroke="#14161a" stroke-width="0.35"/><rect x="959.88" y="545.6" width="4.73" height="17.6" fill="#c4bf7b" rx="0.5" stroke="#14161a" stroke-width="0.35"/><rect x="964.62" y="545.6" width="4.73" height="17.6" fill="#bb9064" rx="0.5" stroke="#14161a" stroke-width="0.35"/><rect x="969.35" y="545.6" width="4.73" height="17.6" fill="#b5b06f" rx="0.5" stroke="#14161a" stroke-width="0.35"/><rect x="974.08" y="545.6" width="4.73" height="17.6" fill="#bdb875" rx="0.5" stroke="#14161a" stroke-width="0.35"/><rect x="978.81" y="545.6" width="4.73" height="17.6" fill="#bdb875" rx="0.5" stroke="#14161a" stroke-width="0.35"/><rect x="983.54" y="545.6" width="4.73" height="17.6" fill="#bb9064" rx="0.5" stroke="#14161a" stroke-width="0.35"/><rect x="988.28" y="545.6" width="4.73" height="17.6" fill="#bb9064" rx="0.5" stroke="#14161a" stroke-width="0.35"/><rect x="993.01" y="545.6" width="4.73" height="17.6" fill="#b5b06f" rx="0.5" stroke="#14161a" stroke-width="0.35"/><rect x="997.74" y="545.6" width="4.73" height="17.6" fill="#bb9064" rx="0.5" stroke="#14161a" stroke-width="0.35"/><rect x="1002.48" y="545.6" width="4.73" height="17.6" fill="#c4bf7b" rx="0.5" stroke="#14161a" stroke-width="0.35"/><rect x="1007.21" y="545.6" width="4.73" height="17.6" fill="#bb9064" rx="0.5" stroke="#14161a" stroke-width="0.35"/><rect x="1011.94" y="545.6" width="4.73" height="17.6" fill="#c4bf7b" rx="0.5" stroke="#14161a" stroke-width="0.35"/><rect x="1016.67" y="545.6" width="4.73" height="17.6" fill="#bdb875" rx="0.5" stroke="#14161a" stroke-width="0.35"/><rect x="1021.4" y="545.6" width="4.73" height="17.6" fill="#c4bf7b" rx="0.5" stroke="#14161a" stroke-width="0.35"/><rect x="1026.14" y="545.6" width="4.73" height="17.6" fill="#c4bf7b" rx="0.5" stroke="#14161a" stroke-width="0.35"/><rect x="1030.87" y="545.6" width="4.73" height="17.6" fill="#b5b06f" rx="0.5" stroke="#14161a" stroke-width="0.35"/><rect x="1035.6" y="545.6" width="4.73" height="17.6" fill="#c59b6e" rx="0.5" stroke="#14161a" stroke-width="0.35"/><rect x="1040.34" y="545.6" width="4.73" height="17.6" fill="#b5b06f" rx="0.5" stroke="#14161a" stroke-width="0.35"/><rect x="1045.07" y="545.6" width="4.73" height="17.6" fill="#bdb875" rx="0.5" stroke="#14161a" stroke-width="0.35"/>
<rect x="727.99" y="564.6" width="4.73" height="17.6" fill="#b5b06f" rx="0.5" stroke="#14161a" stroke-width="0.35"/>
<text x="475" y="536.89" font-size="5.8" fill="#92939f" text-anchor="end" textLength="30.57" lengthAdjust="spacingAndGlyphs" stroke="#92939f" stroke-width="0">AlwaysFiring</text>
<text x="475" y="555.49" font-size="5.8" fill="#92939f" text-anchor="end" textLength="55.77" lengthAdjust="spacingAndGlyphs" stroke="#92939f" stroke-width="0">Blackbox probing failed</text>
<text x="475" y="574.79" font-size="5.8" fill="#92939f" text-anchor="end" textLength="28.48" lengthAdjust="spacingAndGlyphs" stroke="#92939f" stroke-width="0">CanaryAlert</text>
</g>
</g></g>
<rect x="364.0" y="253.0" width="693.6" height="324.0" rx="2.6" fill="none" stroke="#03041a" stroke-width="1.1"/>
</g>
<g id="window-metrics" class="window">
<path class="frame" d="M48 105.5Q48 102.5 51 102.5H820.2Q823.2 102.5 823.2 105.5V465H48Z" fill="#111217" filter="url(#shadow1)"/>
<g clip-path="url(#clip1)"><g filter="url(#soft)">
<rect x="48" y="102.5" width="775.2" height="362.5" fill="#111217"/>
<g class="sidemenu">
<rect x="48" y="102.5" width="29.2" height="363" fill="#181b1f"/>
<line x1="75.8" y1="102.5" x2="75.8" y2="465.5" stroke="#212429" stroke-width="0.8"/>
<g transform="translate(61.86 156.6) scale(1)"><circle cx="-0.9" cy="-0.9" r="3.8" fill="none" stroke="#a3a6b4" stroke-width="1.6" stroke-linecap="round" stroke-linejoin="round"/><path d="M2.1 2.1L4.9 4.9" fill="none" stroke="#a3a6b4" stroke-width="1.7" stroke-linecap="round" stroke-linejoin="round"/></g>
<g transform="translate(61.86 178.3) scale(1)"><path d="M-3.5 0H3.5M0 -3.5V3.5" fill="none" stroke="#a3a6b4" stroke-width="1.8" stroke-linecap="round" stroke-linejoin="round"/></g>
<g transform="translate(61.86 200) scale(1)"><rect x="-4.6" y="-4.6" width="3.7" height="3.7" rx="0.9" fill="none" stroke="#a3a6b4" stroke-width="1.55" stroke-linecap="round" stroke-linejoin="round"/><rect x="-4.6" y="0.9" width="3.7" height="3.7" rx="0.9" fill="none" stroke="#a3a6b4" stroke-width="1.55" stroke-linecap="round" stroke-linejoin="round"/><rect x="0.9" y="-4.6" width="3.7" height="3.7" rx="0.9" fill="none" stroke="#a3a6b4" stroke-width="1.55" stroke-linecap="round" stroke-linejoin="round"/><rect x="0.9" y="0.9" width="3.7" height="3.7" rx="0.9" fill="none" stroke="#a3a6b4" stroke-width="1.55" stroke-linecap="round" stroke-linejoin="round"/></g>
<g transform="translate(61.86 221.6) scale(1)"><circle r="4.8" fill="none" stroke="#a3a6b4" stroke-width="1.6" stroke-linecap="round" stroke-linejoin="round"/><path d="M2.2 -2.2L1 1L-2.2 2.2L-1 -1Z" fill="#a3a6b4" stroke="#a3a6b4" stroke-width="0.7" stroke-linejoin="round"/></g>
<g transform="translate(61.86 243.3) scale(1)"><path d="M-4.2 2.5C-3 1.6 -2.9 0.5 -2.9 -1C-2.9 -3 -1.7 -4.4 0 -4.6C1.7 -4.4 2.9 -3 2.9 -1C2.9 0.5 3 1.6 4.2 2.5Z" fill="none" stroke="#a3a6b4" stroke-width="1.4" stroke-linecap="round" stroke-linejoin="round"/><path d="M-1.3 4.3C-0.6 5 0.6 5 1.3 4.3" fill="none" stroke="#a3a6b4" stroke-width="1.3" stroke-linecap="round" stroke-linejoin="round"/><path d="M-2 0.6H2" fill="none" stroke="#a3a6b4" stroke-width="1.0" stroke-linecap="round" stroke-linejoin="round"/></g>
<g transform="translate(61.86 264.9) scale(1)"><path d="M4.71 1.95L3.18 3.18L1.95 4.71L0 4.5L-1.95 4.71L-3.18 3.18L-4.71 1.95L-4.5 0L-4.71 -1.95L-3.18 -3.18L-1.95 -4.71L0 -4.5L1.95 -4.71L3.18 -3.18L4.71 -1.95L4.5 0Z" fill="none" stroke="#a3a6b4" stroke-width="1.5" stroke-linecap="round" stroke-linejoin="round"/><circle r="1.9" fill="none" stroke="#a3a6b4" stroke-width="1.3" stroke-linecap="round" stroke-linejoin="round"/></g>
<g transform="translate(61.86 286.4) scale(1)"><path d="M0 -5C1.5 -4 3 -3.6 4.2 -3.6V0.2C4.2 2.8 2.4 4.4 0 5.3C-2.4 4.4 -4.2 2.8 -4.2 0.2V-3.6C-3 -3.6 -1.5 -4 0 -5Z" fill="none" stroke="#a3a6b4" stroke-width="1.4" stroke-linecap="round" stroke-linejoin="round"/><path d="M0 -1.2V1.6" fill="none" stroke="#a3a6b4" stroke-width="1.2" stroke-linecap="round" stroke-linejoin="round"/></g>
</g>
<g class="brand" transform="translate(54.88 104.66) scale(0.04)"><path fill="url(#brandGrad)" d="M342,161.2c-0.6-6.1-1.6-13.1-3.6-20.9c-2-7.7-5-16.2-9.4-25c-4.4-8.8-10.1-17.900-17.500-26.800c-2.900-3.500-6.100-6.900-9.500-10.200c5.100-20.300-6.200-37.900-6.200-37.900c-19.500-1.200-31.900,6.100-36.500,9.400c-0.800-0.300-1.500-0.700-2.300-1c-3.300-1.300-6.700-2.600-10.300-3.700c-3.500-1.100-7.100-2.100-10.800-3c-3.700-0.900-7.400-1.600-11.200-2.200c-0.700-0.100-1.300-0.200-2-0.300c-8.500-27.200-32.900-38.600-32.900-38.600c-27.300,17.300-32.400,41.500-32.400,41.500s-0.100,0.500-0.300,1.400c-1.500,0.400-3,0.900-4.500,1.300c-2.100,0.600-4.200,1.400-6.200,2.200c-2.100,0.800-4.100,1.600-6.200,2.500c-4.100,1.800-8.200,3.800-12.200,6c-3.900,2.200-7.700,4.600-11.400,7.100c-0.500-0.200-1-0.400-1-0.400c-37.800-14.400-71.300,2.900-71.300,2.900c-3.100,40.200,15.100,65.500,18.700,70.100c-0.900,2.500-1.700,5-2.500,7.500c-2.800,9.100-4.900,18.400-6.200,28.100c-0.200,1.400-0.400,2.800-0.500,4.200C18.800,192.700,8.500,228,8.500,228c29.100,33.500,63.100,35.600,63.100,35.600c0,0,0.100-0.100,0.100-0.100c4.300,7.700,9.300,15,14.900,21.900c2.400,2.900,4.800,5.600,7.400,8.300c-10.600,30.400,1.500,55.600,1.500,55.600c32.400,1.200,53.700-14.200,58.200-17.700c3.200,1.100,6.500,2.100,9.800,2.900c10,2.600,20.200,4.100,30.400,4.500c2.500,0.100,5.100,0.200,7.600,0.100l1.200,0l0.800,0l1.600,0l1.600-0.100l0,0.100c15.300,21.800,42.100,24.900,42.100,24.900c19.100-20.100,20.200-40.100,20.200-44.400l0,0c0,0,0-0.100,0-0.300c0-0.400,0-0.600,0-0.600l0,0c0-0.300,0-0.600,0-0.900c4-2.800,7.800-5.800,11.400-9.100c7.600-6.900,14.300-14.800,19.900-23.300c0.500-0.800,1-1.600,1.500-2.400c21.600,1.200,36.900-13.400,36.900-13.400c-3.600-22.500-16.400-33.500-19.100-35.600l0,0c0,0-0.100-0.100-0.300-0.200c-0.200-0.100-0.200-0.200-0.200-0.200c0,0,0,0,0,0c-0.100-0.100-0.300-0.200-0.500-0.300c0.100-1.400,0.200-2.700,0.300-4.100c0.200-2.400,0.200-4.900,0.200-7.300l0-1.800l0-0.900l0-0.500c0-0.600,0-0.400,0-0.600l-0.100-1.500l-0.100-2c0-0.700-0.100-1.300-0.200-1.900c-0.100-0.600-0.100-1.300-0.200-1.900l-0.200-1.900l-0.300-1.900c-0.400-2.500-0.800-4.900-1.400-7.400c-2.300-9.700-6.100-18.900-11-27.200c-5-8.300-11.200-15.600-18.300-21.800c-7-6.200-14.900-11.200-23.100-14.900c-8.300-3.700-16.900-6.100-25.500-7.200c-4.300-0.600-8.600-0.800-12.900-0.700l-1.600,0l-0.400,0c-0.100,0-0.600,0-0.500,0l-0.700,0l-1.600,0.100c-0.600,0-1.200,0.100-1.700,0.100c-2.200,0.200-4.400,0.500-6.500,0.900c-8.600,1.600-16.700,4.700-23.800,9c-7.100,4.300-13.300,9.600-18.300,15.600c-5,6-8.900,12.700-11.600,19.600c-2.700,6.900-4.200,14.100-4.600,21c-0.100,1.700-0.100,3.500-0.100,5.200c0,0.400,0,0.900,0,1.300l0.100,1.400c0.100,0.800,0.100,1.700,0.200,2.500c0.300,3.500,1,6.900,1.900,10.100c1.900,6.500,4.900,12.400,8.600,17.400c3.700,5,8.200,9.100,12.900,12.400c4.700,3.200,9.800,5.500,14.800,7c5,1.500,10,2.100,14.700,2.100c0.600,0,1.200,0,1.700,0c0.300,0,0.600,0,0.900,0c0.300,0,0.600,0,0.900-0.100c0.500,0,1-0.100,1.500-0.100c0.100,0,0.300,0,0.400-0.100l0.500-0.100c0.300,0,0.600-0.100,0.900-0.100c0.600-0.100,1.100-0.200,1.700-0.300c0.600-0.100,1.100-0.200,1.600-0.400c1.100-0.200,2.100-0.600,3.100-0.900c2-0.700,4-1.500,5.700-2.400c1.800-0.900,3.400-2,5-3c0.400-0.300,0.900-0.600,1.300-1c1.600-1.300,1.900-3.700,0.600-5.300c-1.100-1.400-3.100-1.800-4.700-0.900c-0.400,0.200-0.800,0.400-1.200,0.600c-1.400,0.700-2.800,1.300-4.300,1.800c-1.500,0.500-3.100,0.900-4.700,1.200c-0.800,0.100-1.600,0.200-2.500,0.300c-0.400,0-0.800,0.100-1.300,0.100c-0.400,0-0.900,0-1.200,0c-0.400,0-0.800,0-1.200,0c-0.500,0-1,0-1.500-0.100c0,0-0.300,0-0.100,0l-0.200,0l-0.300,0c-0.200,0-0.500,0-0.700-0.100c-0.500-0.100-0.900-0.100-1.400-0.200c-3.700-0.500-7.400-1.600-10.900-3.200c-3.600-1.600-7-3.800-10.100-6.600c-3.100-2.800-5.800-6.100-7.900-9.900c-2.100-3.800-3.600-8-4.300-12.400c-0.300-2.200-0.500-4.500-0.400-6.700c0-0.600,0.100-1.200,0.100-1.800c0,0.200,0-0.100,0-0.100l0-0.200l0-0.500c0-0.300,0.100-0.600,0.100-0.900c0.100-1.200,0.300-2.400,0.500-3.600c1.700-9.600,6.500-19,13.900-26.100c1.900-1.800,3.900-3.400,6-4.900c2.100-1.500,4.400-2.800,6.800-3.900c2.400-1.100,4.800-2,7.400-2.700c2.500-0.700,5.100-1.100,7.800-1.400c1.300-0.100,2.600-0.200,4-0.200c0.400,0,0.600,0,0.900,0l1.100,0l0.700,0c0.300,0,0,0,0.100,0l0.300,0l1.100,0.100c2.900,0.200,5.700,0.600,8.500,1.300c5.600,1.200,11.100,3.300,16.200,6.100c10.200,5.700,18.900,14.500,24.200,25.100c2.700,5.300,4.600,11,5.500,16.900c0.200,1.500,0.400,3,0.500,4.500l0.100,1.100l0.100,1.100c0,0.400,0,0.800,0,1.100c0,0.400,0,0.800,0,1.100l0,1l0,1.100c0,0.700-0.100,1.900-0.100,2.600c-0.100,1.600-0.300,3.300-0.500,4.900c-0.200,1.600-0.500,3.200-0.800,4.800c-0.300,1.600-0.700,3.200-1.100,4.700c-0.800,3.100-1.800,6.200-3,9.300c-2.400,6-5.600,11.800-9.400,17.100c-7.700,10.600-18.200,19.200-30.200,24.700c-6,2.700-12.300,4.700-18.800,5.700c-3.200,0.600-6.500,0.900-9.800,1l-0.600,0l-0.500,0l-1.100,0l-1.600,0l-0.800,0c0.400,0-0.100,0-0.100,0l-0.300,0c-1.800,0-3.500-0.100-5.300-0.300c-7-0.500-13.900-1.800-20.700-3.700c-6.700-1.900-13.200-4.600-19.400-7.800c-12.300-6.600-23.400-15.600-32-26.500c-4.300-5.400-8.100-11.300-11.200-17.400c-3.100-6.100-5.600-12.600-7.400-19.100c-1.800-6.600-2.900-13.300-3.400-20.100l-0.100-1.300l0-0.300l0-0.300l0-0.600l0-1.100l0-0.300l0-0.400l0-0.800l0-1.600l0-0.300c0,0,0,0.100,0-0.100l0-0.600c0-0.800,0-1.700,0-2.500c0.100-3.300,0.400-6.800,0.800-10.200c0.400-3.400,1-6.900,1.700-10.300c0.700-3.400,1.500-6.800,2.500-10.200c1.900-6.700,4.300-13.200,7.100-19.300c5.700-12.200,13.100-23.100,22-31.800c2.200-2.200,4.500-4.200,6.900-6.200c2.400-1.900,4.900-3.700,7.500-5.400c2.500-1.700,5.200-3.200,7.900-4.600c1.300-0.700,2.700-1.400,4.100-2c0.700-0.300,1.400-0.600,2.100-0.900c0.700-0.300,1.400-0.600,2.100-0.900c2.800-1.200,5.700-2.200,8.700-3.100c0.700-0.200,1.500-0.400,2.200-0.700c0.700-0.200,1.500-0.400,2.200-0.600c1.500-0.400,3-0.800,4.500-1.100c0.700-0.200,1.500-0.300,2.300-0.500c0.800-0.200,1.500-0.300,2.300-0.500c0.800-0.100,1.500-0.300,2.300-0.400l1.100-0.200l1.200-0.200c0.800-0.100,1.500-0.200,2.300-0.300c0.900-0.100,1.700-0.200,2.600-0.300c0.700-0.100,1.900-0.200,2.600-0.300c0.500-0.100,1.100-0.100,1.600-0.200l1.100-0.100l0.500-0.100l0.600,0c0.900-0.100,1.700-0.100,2.600-0.200l1.300-0.100c0,0,0.500,0,0.100,0l0.300,0l0.600,0c0.700,0,1.500-0.100,2.200-0.100c2.900-0.100,5.900-0.100,8.800,0c5.800,0.200,11.500,0.900,17,1.900c11.100,2.100,21.500,5.600,31,10.300c9.500,4.600,17.900,10.300,25.300,16.500c0.500,0.400,0.900,0.800,1.400,1.200c0.400,0.400,0.900,0.800,1.300,1.200c0.900,0.800,1.700,1.600,2.600,2.400c0.900,0.800,1.700,1.600,2.500,2.400c0.800,0.800,1.600,1.600,2.400,2.500c3.100,3.300,6,6.600,8.600,10c5.200,6.700,9.400,13.500,12.700,19.900c0.200,0.400,0.400,0.800,0.600,1.200c0.200,0.400,0.400,0.800,0.600,1.200c0.400,0.800,0.800,1.600,1.100,2.400c0.400,0.800,0.700,1.500,1.100,2.300c0.300,0.800,0.700,1.500,1,2.300c1.200,3,2.400,5.900,3.300,8.600c1.500,4.400,2.600,8.300,3.500,11.700c0.300,1.400,1.600,2.300,3,2.100c1.500-0.100,2.600-1.300,2.600-2.800C342.600,170.400,342.500,166.100,342,161.2z"/></g>
<g class="navbar">
<g transform="translate(88.45 115) scale(0.78)"><rect x="-4.6" y="-4.6" width="3.7" height="3.7" rx="0.9" fill="none" stroke="#a3a6b4" stroke-width="1.5" stroke-linecap="round" stroke-linejoin="round"/><rect x="-4.6" y="0.9" width="3.7" height="3.7" rx="0.9" fill="none" stroke="#a3a6b4" stroke-width="1.5" stroke-linecap="round" stroke-linejoin="round"/><rect x="0.9" y="-4.6" width="3.7" height="3.7" rx="0.9" fill="none" stroke="#a3a6b4" stroke-width="1.5" stroke-linecap="round" stroke-linejoin="round"/><rect x="0.9" y="0.9" width="3.7" height="3.7" rx="0.9" fill="none" stroke="#a3a6b4" stroke-width="1.5" stroke-linecap="round" stroke-linejoin="round"/></g>
<text x="96.6" y="118.38" font-size="9.4" fill="#d0d1de" textLength="63.9" lengthAdjust="spacingAndGlyphs" stroke="#d0d1de" stroke-width="0.28">Metamonitoring</text>
<text x="165.7" y="118.38" font-size="9.4" fill="#d0d1de" text-anchor="middle" stroke="#d0d1de" stroke-width="0.28">/</text>
<text x="170.4" y="118.38" font-size="9.4" fill="#d0d1de" textLength="122.7" lengthAdjust="spacingAndGlyphs" stroke="#d0d1de" stroke-width="0.28">Prometheus metrics exploration</text>
<g transform="translate(301.3 115) scale(0.86)"><path d="M0 -3.8L1.12 -1.24L3.9 -0.97L1.81 0.89L2.41 3.62L0 2.2L-2.41 3.62L-1.81 0.89L-3.9 -0.97L-1.12 -1.24Z" fill="none" stroke="#a3a6b4" stroke-width="1.3" stroke-linecap="round" stroke-linejoin="round"/></g>
<g transform="translate(318.1 115) scale(0.88)"><path d="M2.4 -2.7L-2.4 0L2.4 2.7" fill="none" stroke="#a3a6b4" stroke-width="1.1" stroke-linecap="round" stroke-linejoin="round"/><circle cx="2.6" cy="-2.8" r="1.5" fill="none" stroke="#a3a6b4" stroke-width="1.2" stroke-linecap="round" stroke-linejoin="round"/><circle cx="-2.6" cy="0" r="1.5" fill="none" stroke="#a3a6b4" stroke-width="1.2" stroke-linecap="round" stroke-linejoin="round"/><circle cx="2.6" cy="2.8" r="1.5" fill="none" stroke="#a3a6b4" stroke-width="1.2" stroke-linecap="round" stroke-linejoin="round"/></g>
</g>
<g class="toolbar">
<rect x="597.8" y="107.1" width="20.6" height="15.7" fill="#181b1f" rx="1" stroke="#26282f" stroke-width="0.6"/>
<rect x="622.2" y="107.1" width="17.7" height="15.7" fill="#181b1f" rx="1" stroke="#26282f" stroke-width="0.6"/>
<rect x="644" y="107.1" width="17.8" height="15.7" fill="#181b1f" rx="1" stroke="#26282f" stroke-width="0.6"/>
<rect x="665.7" y="107.1" width="72.9" height="15.7" fill="#181b1f" rx="1" stroke="#26282f" stroke-width="0.6"/>
<rect x="739.3" y="107.1" width="17.1" height="15.7" fill="#181b1f" rx="1" stroke="#26282f" stroke-width="0.6"/>
<rect x="760.1" y="107.1" width="17.2" height="15.7" fill="#181b1f" rx="1" stroke="#26282f" stroke-width="0.6"/>
<rect x="777.3" y="107.1" width="16.8" height="15.7" fill="#181b1f" rx="1" stroke="#26282f" stroke-width="0.6"/>
<rect x="798.1" y="107.1" width="17.7" height="15.7" fill="#181b1f" rx="1" stroke="#26282f" stroke-width="0.6"/>
<g transform="translate(607.8 115.05) scale(1)"><rect x="-5.8" y="-1.9" width="1.9" height="5" fill="#9a9dab"/><rect x="-3.8" y="-3.6" width="1.9" height="6.7" fill="#9a9dab"/><rect x="-1.8" y="-1.2" width="1.9" height="4.3" fill="#9a9dab"/><rect x="0.2" y="-3" width="1.9" height="6.1" fill="#9a9dab"/><path d="M4.3 -2.2V1.8M2.3 -0.2H6.3" fill="none" stroke="#ffab2e" stroke-width="1.7"/></g>
<g transform="translate(631.05 114.95) scale(0.98)"><path d="M-3 -4.1H1.6L4.1 -1.6V3C4.1 3.6 3.6 4.1 3 4.1H-3C-3.6 4.1 -4.1 3.6 -4.1 3V-3C-4.1 -3.6 -3.6 -4.1 -3 -4.1Z" fill="none" stroke="#9a9dab" stroke-width="1.5" stroke-linecap="round" stroke-linejoin="round"/><path d="M-1.7 -3.6V-1.5H1.2M-1.9 3.8V1.5H1.9V3.8" fill="none" stroke="#9a9dab" stroke-width="1.2" stroke-linecap="round" stroke-linejoin="round"/></g>
<g transform="translate(652.9 114.95) scale(0.82)"><path d="M4.71 1.95L3.18 3.18L1.95 4.71L0 4.5L-1.95 4.71L-3.18 3.18L-4.71 1.95L-4.5 0L-4.71 -1.95L-3.18 -3.18L-1.95 -4.71L0 -4.5L1.95 -4.71L3.18 -3.18L4.71 -1.95L4.5 0Z" fill="none" stroke="#9a9dab" stroke-width="1.5" stroke-linecap="round" stroke-linejoin="round"/><circle r="1.9" fill="none" stroke="#9a9dab" stroke-width="1.3" stroke-linecap="round" stroke-linejoin="round"/></g>
<g transform="translate(674.6 114.95) scale(0.92)"><circle r="4.3" fill="none" stroke="#9a9dab" stroke-width="1.6" stroke-linecap="round" stroke-linejoin="round"/><path d="M0 -2.3V0.3H1.7" fill="none" stroke="#9a9dab" stroke-width="1.2" stroke-linecap="round" stroke-linejoin="round"/></g>
<text x="682.2" y="117.69" font-size="7.6" fill="#b6b7c6" font-weight="700" textLength="39.5" lengthAdjust="spacingAndGlyphs">Last 6 hours</text>
<g transform="translate(730.8 114.75) scale(0.85)"><path d="M-2 -1L0 1L2 -1" fill="none" stroke="#9a9dab" stroke-width="1.5" stroke-linecap="round" stroke-linejoin="round"/></g>
<g transform="translate(747.45 114.95) scale(0.86)"><circle cx="-0.7" cy="-0.7" r="3.7" fill="none" stroke="#9a9dab" stroke-width="1.4" stroke-linecap="round" stroke-linejoin="round"/><path d="M2 2L4.6 4.6M-2.4 -0.7H1" fill="none" stroke="#9a9dab" stroke-width="1.3" stroke-linecap="round" stroke-linejoin="round"/></g>
<g transform="translate(768.7 114.95) scale(0.84)"><g transform="scale(-1 1)"><path d="M-3.9 0.6A4 4 0 0 1 2.8 -2.8M3.9 -0.6A4 4 0 0 1 -2.8 2.8" fill="none" stroke="#9a9dab" stroke-width="1.5" stroke-linecap="round" stroke-linejoin="round"/><path d="M3.2 -4.6V-2.4H1M-3.2 4.6V2.4H-1" fill="none" stroke="#9a9dab" stroke-width="1.3" stroke-linecap="round" stroke-linejoin="round"/></g></g>
<g transform="translate(785.7 114.75) scale(0.85)"><path d="M-2 -1L0 1L2 -1" fill="none" stroke="#9a9dab" stroke-width="1.5" stroke-linecap="round" stroke-linejoin="round"/></g>
<g transform="translate(806.95 114.95) scale(0.88)"><rect x="-4" y="-4" width="8" height="6" rx="1.2" fill="none" stroke="#9a9dab" stroke-width="1.5" stroke-linecap="round" stroke-linejoin="round"/><path d="M-3.5 0.2H3.5V1.8H-3.5Z" fill="#9a9dab" opacity="0.85"/><path d="M-1.5 2.4L-2 4.2H2L1.5 2.4Z" fill="none" stroke="#9a9dab" stroke-width="1.0" stroke-linecap="round" stroke-linejoin="round" fill="#9a9dab"/></g>
</g>
<g class="submenu-controls">
<rect x="84.4" y="130.3" width="38.9" height="16.2" fill="#181b1f" rx="1" stroke="#22242a" stroke-width="0.6"/>
<text x="87.9" y="140.98" font-size="6.9" fill="#6397f5" font-weight="700" textLength="31.2" lengthAdjust="spacingAndGlyphs">datasource</text>
<rect x="125.4" y="130.3" width="38.7" height="16.2" fill="#111217" rx="1" stroke="#2a2d34" stroke-width="0.6"/>
<text x="129.7" y="141.13" font-size="7.3" fill="#c4c5d4" textLength="22.2" lengthAdjust="spacingAndGlyphs" stroke="#c4c5d4">default</text>
<g transform="translate(156.3 138.4) scale(0.75)"><path d="M-2 -1L0 1L2 -1" fill="none" stroke="#a3a6b4" stroke-width="1.6" stroke-linecap="round" stroke-linejoin="round"/></g>
<rect x="171.2" y="130.3" width="40.3" height="16.2" fill="#181b1f" rx="1" stroke="#22242a" stroke-width="0.6"/>
<text x="175.5" y="140.98" font-size="6.9" fill="#6397f5" font-weight="700" textLength="31.9" lengthAdjust="spacingAndGlyphs">namespace</text>
<rect x="213.9" y="130.3" width="28.9" height="16.2" fill="#111217" rx="1" stroke="#2a2d34" stroke-width="0.6"/>
<text x="217.5" y="141.13" font-size="7.3" fill="#c4c5d4" textLength="12.8" lengthAdjust="spacingAndGlyphs" stroke="#c4c5d4">http</text>
<g transform="translate(235 138.4) scale(0.75)"><path d="M-2 -1L0 1L2 -1" fill="none" stroke="#a3a6b4" stroke-width="1.6" stroke-linecap="round" stroke-linejoin="round"/></g>
<rect x="250.1" y="130.3" width="25.5" height="16.2" fill="#181b1f" rx="1" stroke="#22242a" stroke-width="0.6"/>
<text x="254.4" y="140.98" font-size="6.9" fill="#6397f5" font-weight="700" textLength="17.5" lengthAdjust="spacingAndGlyphs">metric</text>
<rect x="278.3" y="130.3" width="25" height="16.2" fill="#111217" rx="1" stroke="#2a2d34" stroke-width="0.6"/>
<text x="282.6" y="141.13" font-size="7.3" fill="#c4c5d4" textLength="7.9" lengthAdjust="spacingAndGlyphs" stroke="#c4c5d4">All</text>
<g transform="translate(295.3 138.4) scale(0.75)"><path d="M-2 -1L0 1L2 -1" fill="none" stroke="#a3a6b4" stroke-width="1.6" stroke-linecap="round" stroke-linejoin="round"/></g>
</g>
<g class="dashboard-links">
<rect x="637.2" y="130.7" width="30.4" height="15.9" fill="#181b1f" rx="1" stroke="#26282f" stroke-width="0.6"/>
<g transform="translate(645.4 138.65) scale(0.72)"><rect x="-4.6" y="-4.6" width="3.7" height="3.7" rx="0.9" fill="none" stroke="#a3a6b4" stroke-width="1.7" stroke-linecap="round" stroke-linejoin="round"/><rect x="-4.6" y="0.9" width="3.7" height="3.7" rx="0.9" fill="none" stroke="#a3a6b4" stroke-width="1.7" stroke-linecap="round" stroke-linejoin="round"/><rect x="0.9" y="-4.6" width="3.7" height="3.7" rx="0.9" fill="none" stroke="#a3a6b4" stroke-width="1.7" stroke-linecap="round" stroke-linejoin="round"/><rect x="0.9" y="0.9" width="3.7" height="3.7" rx="0.9" fill="none" stroke="#a3a6b4" stroke-width="1.7" stroke-linecap="round" stroke-linejoin="round"/></g>
<text x="651.3" y="141.13" font-size="6.6" fill="#ccccdc" font-weight="700" textLength="11.6" lengthAdjust="spacingAndGlyphs">Loki</text>
<rect x="669.7" y="130.7" width="50.9" height="15.9" fill="#181b1f" rx="1" stroke="#26282f" stroke-width="0.6"/>
<g transform="translate(677.9 138.65) scale(0.72)"><rect x="-4.6" y="-4.6" width="3.7" height="3.7" rx="0.9" fill="none" stroke="#a3a6b4" stroke-width="1.7" stroke-linecap="round" stroke-linejoin="round"/><rect x="-4.6" y="0.9" width="3.7" height="3.7" rx="0.9" fill="none" stroke="#a3a6b4" stroke-width="1.7" stroke-linecap="round" stroke-linejoin="round"/><rect x="0.9" y="-4.6" width="3.7" height="3.7" rx="0.9" fill="none" stroke="#a3a6b4" stroke-width="1.7" stroke-linecap="round" stroke-linejoin="round"/><rect x="0.9" y="0.9" width="3.7" height="3.7" rx="0.9" fill="none" stroke="#a3a6b4" stroke-width="1.7" stroke-linecap="round" stroke-linejoin="round"/></g>
<text x="683.5" y="141.13" font-size="6.6" fill="#ccccdc" font-weight="700" textLength="33.2" lengthAdjust="spacingAndGlyphs">Prometheus</text>
<rect x="723" y="130.7" width="90.9" height="15.9" fill="#181b1f" rx="1" stroke="#26282f" stroke-width="0.6"/>
<g transform="translate(730.9 138.65) scale(0.72)"><rect x="-4.6" y="-4.6" width="3.7" height="3.7" rx="0.9" fill="none" stroke="#a3a6b4" stroke-width="1.7" stroke-linecap="round" stroke-linejoin="round"/><rect x="-4.6" y="0.9" width="3.7" height="3.7" rx="0.9" fill="none" stroke="#a3a6b4" stroke-width="1.7" stroke-linecap="round" stroke-linejoin="round"/><rect x="0.9" y="-4.6" width="3.7" height="3.7" rx="0.9" fill="none" stroke="#a3a6b4" stroke-width="1.7" stroke-linecap="round" stroke-linejoin="round"/><rect x="0.9" y="0.9" width="3.7" height="3.7" rx="0.9" fill="none" stroke="#a3a6b4" stroke-width="1.7" stroke-linecap="round" stroke-linejoin="round"/></g>
<text x="737.1" y="141.13" font-size="6.6" fill="#ccccdc" font-weight="700" textLength="72.2" lengthAdjust="spacingAndGlyphs">Prometheus targets status</text>
</g>
<g class="dashboard-row" opacity="1">
<g transform="translate(87.7 160.2) scale(0.8)"><path d="M-2 -1L0 1L2 -1" fill="none" stroke="#c4c5d4" stroke-width="1.3" stroke-linecap="round" stroke-linejoin="round"/></g>
<text x="91.9" y="162.69" font-size="8.3" fill="#d5d6e2" font-weight="700" textLength="133.1" lengthAdjust="spacingAndGlyphs">http_request_duration_microseconds</text>
</g>
<g class="dashboard-row" opacity="1">
<g transform="translate(87.7 309.7) scale(0.8)"><path d="M-2 -1L0 1L2 -1" fill="none" stroke="#c4c5d4" stroke-width="1.3" stroke-linecap="round" stroke-linejoin="round"/></g>
<text x="91.9" y="312.19" font-size="8.3" fill="#d5d6e2" font-weight="700" textLength="157.1" lengthAdjust="spacingAndGlyphs">http_request_duration_microseconds_count</text>
</g>
<g class="dashboard-row" opacity="0.8">
<g transform="translate(87.7 459.3) scale(0.8)"><path d="M-2 -1L0 1L2 -1" fill="none" stroke="#c4c5d4" stroke-width="1.3" stroke-linecap="round" stroke-linejoin="round"/></g>
<text x="91.9" y="461.79" font-size="8.3" fill="#d5d6e2" font-weight="700" textLength="152.1" lengthAdjust="spacingAndGlyphs">http_request_duration_microseconds_sum</text>
</g>
<g class="panel">
<rect x="84.3" y="171.2" width="180" height="126.5" fill="#181b1f" rx="1.5" stroke="#272a30" stroke-width="0.8"/>
<text x="174.3" y="181.96" font-size="7.4" fill="#d5d6e2" text-anchor="middle" font-weight="700" textLength="25.17" lengthAdjust="spacingAndGlyphs">Average</text>
<line x1="106.7" y1="196" x2="252.1" y2="196" stroke="#3c3f46" stroke-width="0.6"/>
<text x="104.1" y="197.82" font-size="6.3" fill="#bcbdcc" text-anchor="end" textLength="15.23" lengthAdjust="spacingAndGlyphs" stroke="#bcbdcc">800 K</text>
<line x1="106.7" y1="216.85" x2="252.1" y2="216.85" stroke="#3c3f46" stroke-width="0.6"/>
<text x="104.1" y="218.67" font-size="6.3" fill="#bcbdcc" text-anchor="end" textLength="15.23" lengthAdjust="spacingAndGlyphs" stroke="#bcbdcc">600 K</text>
<line x1="106.7" y1="237.7" x2="252.1" y2="237.7" stroke="#3c3f46" stroke-width="0.6"/>
<text x="104.1" y="239.52" font-size="6.3" fill="#bcbdcc" text-anchor="end" textLength="15.23" lengthAdjust="spacingAndGlyphs" stroke="#bcbdcc">400 K</text>
<line x1="106.7" y1="258.55" x2="252.1" y2="258.55" stroke="#3c3f46" stroke-width="0.6"/>
<text x="104.1" y="260.37" font-size="6.3" fill="#bcbdcc" text-anchor="end" textLength="15.23" lengthAdjust="spacingAndGlyphs" stroke="#bcbdcc">200 K</text>
<line x1="106.7" y1="279.4" x2="252.1" y2="279.4" stroke="#3c3f46" stroke-width="0.6"/>
<text x="104.1" y="281.22" font-size="6.3" fill="#bcbdcc" text-anchor="end" textLength="3.24" lengthAdjust="spacingAndGlyphs" stroke="#bcbdcc">0</text>
<line x1="138.1" y1="196" x2="138.1" y2="279.4" stroke="#3c3f46" stroke-width="0.6"/>
<text x="138.5" y="288.77" font-size="6.3" fill="#bcbdcc" text-anchor="middle" textLength="14.58" lengthAdjust="spacingAndGlyphs" stroke="#bcbdcc">12:00</text>
<line x1="187.1" y1="196" x2="187.1" y2="279.4" stroke="#3c3f46" stroke-width="0.6"/>
<text x="187.5" y="288.77" font-size="6.3" fill="#bcbdcc" text-anchor="middle" textLength="14.58" lengthAdjust="spacingAndGlyphs" stroke="#bcbdcc">14:00</text>
<line x1="235.6" y1="196" x2="235.6" y2="279.4" stroke="#3c3f46" stroke-width="0.6"/>
<text x="236" y="288.77" font-size="6.3" fill="#bcbdcc" text-anchor="middle" textLength="14.58" lengthAdjust="spacingAndGlyphs" stroke="#bcbdcc">16:00</text>
<polyline points="106.68,263.97 114.42,269.13 123.03,268.27 131.64,269.3 140.24,268.44 148.85,268.27 157.45,268.79 166.06,268.27 174.66,268.61 183.27,269.13 191.88,268.27 200.48,268.27 209.09,268.96 217.69,269.13 226.3,268.79 234.91,269.13 243.51,268.27 252.12,268.61" fill="none" stroke="#BA43A9" stroke-width="1.05" stroke-linejoin="round" stroke-linecap="round" stroke-opacity="0.62"/>
<polyline points="106.68,256.22 114.42,266.89 123.03,264.83 131.64,265.69 140.24,266.55 148.85,264.83 154.01,265.86 162.62,261.39 169.5,264.14 176.39,264.83 186.71,267.41 197.04,266.55 206.51,262.25 214.25,266.55 224.58,265.69 234.91,266.72 243.51,267.41 252.12,267.41" fill="none" stroke="#705DA0" stroke-width="1.05" stroke-linejoin="round" stroke-linecap="round" stroke-opacity="0.62"/>
<polyline points="106.68,253.64 110.12,251.06 113.56,263.45 119.59,262.25 128.19,263.11 136.8,265.17 141.96,260.01 147.13,263.97 152.29,262.25 155.73,264.83 160.9,257.94 166.06,258.8 171.22,263.97 178.11,261.39 186.71,264.14 193.6,264.83 200.48,262.25 206.51,257.08 210.81,264.14 217.69,261.04 222.86,263.97 231.46,263.11 238.35,265.86 245.23,263.97 252.12,264.83" fill="none" stroke="#508642" stroke-width="1.05" stroke-linejoin="round" stroke-linecap="round" stroke-opacity="0.62"/>
<polyline points="106.68,256.22 114.42,257.6 123.03,255.36 131.64,256.39 140.24,254.5 148.85,256.22 157.45,255.88 166.06,254.5 174.66,255.53 183.27,256.22 191.88,254.5 200.48,253.64 209.09,256.39 217.69,254.5 226.3,255.53 234.91,254.16 243.51,253.64 252.12,253.81" fill="none" stroke="#E0752D" stroke-width="1.05" stroke-linejoin="round" stroke-linecap="round" stroke-opacity="0.62"/>
<polyline points="106.68,254.5 114.42,253.64 123.03,256.22 129.91,250.2 138.52,251.06 147.13,247.62 154.01,250.2 162.62,251.06 171.22,251.06 179.83,251.92 186.71,252.78 193.6,249.34 198.76,254.5 205.65,257.08 212.53,253.64 221.14,250.2 228.02,252.78 234.91,250.2 243.51,249.34 252.12,251.06" fill="none" stroke="#7EB26D" stroke-width="1.05" stroke-linejoin="round" stroke-linecap="round" stroke-opacity="0.62"/>
<polyline points="106.68,250.2 114.42,249.34 123.03,251.06 131.64,247.62 140.24,245.9 148.85,240.73 157.45,245.9 166.06,247.62 176.39,244.17 183.27,247.62 191.88,249.34 200.48,245.9 209.09,251.06 217.69,247.62 222.86,243.31 228.02,251.06 234.91,249.34 243.51,244.17 252.12,247.62" fill="none" stroke="#EF843C" stroke-width="1.05" stroke-linejoin="round" stroke-linecap="round" stroke-opacity="0.62"/>
<polyline points="106.68,250.2 114.42,247.62 121.31,251.06 126.47,252.78 129.91,243.31 138.52,249.34 148.85,245.9 157.45,240.73 162.62,232.13 166.06,245.9 171.22,252.78 176.39,249.34 183.27,250.2 190.15,250.2 197.04,245.9 200.48,249.34 210.81,250.2 217.69,249.34 226.3,251.06 234.91,245.03 243.51,245.9 247.81,240.73 252.12,245.9" fill="none" stroke="#E24D42" stroke-width="1.05" stroke-linejoin="round" stroke-linecap="round" stroke-opacity="0.62"/>
<polyline points="106.68,240.39 117.87,240.73 131.64,240.04 145.4,240.73 159.17,240.22 172.94,240.9 186.71,240.39 200.48,240.73 214.25,240.22 228.02,240.9 241.79,240.39 252.12,240.73" fill="none" stroke="#447EBC" stroke-width="0.84" stroke-linejoin="round" stroke-linecap="round" stroke-opacity="0.5"/>
<polyline points="106.68,242.62 123.03,242.28 140.24,242.45 157.45,241.94 174.66,242.28 191.88,242.11 209.09,242.28 226.3,241.94 243.51,241.76 252.12,241.76" fill="none" stroke="#EAB839" stroke-width="1.18" stroke-linejoin="round" stroke-linecap="round" stroke-opacity="0.72"/>
<polyline points="106.68,237.29 110.12,235.22 116.14,239.01 122.17,233.85 128.19,238.15 135.08,236.43 141.96,235.22 148.85,237.29 157.45,238.15 166.06,232.99 169.5,236.94 174.66,234.71 178.97,236.43 182.41,233.5 186.71,237.29 193.6,235.91 200.48,234.71 207.37,236.43 210.81,235.57 217.69,239.01 226.3,239.87 234.91,235.57 243.51,237.29 252.12,235.57" fill="none" stroke="#C15C17" stroke-width="1.05" stroke-linejoin="round" stroke-linecap="round" stroke-opacity="0.62"/>
<polyline points="106.68,239.87 113.56,232.99 121.31,245.9 129.91,226.1 135.08,233.85 141.96,223.52 146.27,240.73 150.57,229.54 154.01,235.57 158.31,232.99 162.62,215.77 167.78,240.73 172.94,247.62 183.27,240.73 190.15,244.17 194.46,232.13 198.76,247.62 203.92,235.57 210.81,240.73 217.69,245.03 222.86,240.73 226.3,249.34 231.46,245.9 234.91,233.85 239.21,207.17 243.51,233.85 246.61,222.66 249.54,237.29 252.12,239.01" fill="none" stroke="#1F78C1" stroke-width="1.05" stroke-linejoin="round" stroke-linecap="round" stroke-opacity="0.62"/>
<polyline points="106.68,240.73 114.42,247.62 121.31,249.34 129.91,239.01 138.52,229.54 141.96,231.27 146.27,216.29 150.57,230.4 154.01,245.9 162.62,240.73 169.5,244.17 176.39,240.73 183.27,244.17 190.15,249.34 194.46,233.85 198.76,221.45 203.92,232.13 207.37,245.9 217.69,245.9 222.86,210.09 226.3,233.85 228.02,244.17 234.91,240.73 243.51,241.59 247.81,237.29 252.12,242.45" fill="none" stroke="#6ED0E0" stroke-width="1.05" stroke-linejoin="round" stroke-linecap="round" stroke-opacity="0.62"/>
</g>
<g class="panel">
<rect x="268.3" y="171.2" width="180" height="126.5" fill="#181b1f" rx="1.5" stroke="#272a30" stroke-width="0.8"/>
<text x="358.3" y="181.96" font-size="7.4" fill="#d5d6e2" text-anchor="middle" font-weight="700" textLength="13.95" lengthAdjust="spacingAndGlyphs">Sum</text>
<line x1="290.7" y1="196" x2="436.1" y2="196" stroke="#3c3f46" stroke-width="0.6"/>
<text x="288.1" y="197.82" font-size="6.3" fill="#bcbdcc" text-anchor="end" textLength="15.23" lengthAdjust="spacingAndGlyphs" stroke="#bcbdcc">800 K</text>
<line x1="290.7" y1="216.85" x2="436.1" y2="216.85" stroke="#3c3f46" stroke-width="0.6"/>
<text x="288.1" y="218.67" font-size="6.3" fill="#bcbdcc" text-anchor="end" textLength="15.23" lengthAdjust="spacingAndGlyphs" stroke="#bcbdcc">600 K</text>
<line x1="290.7" y1="237.7" x2="436.1" y2="237.7" stroke="#3c3f46" stroke-width="0.6"/>
<text x="288.1" y="239.52" font-size="6.3" fill="#bcbdcc" text-anchor="end" textLength="15.23" lengthAdjust="spacingAndGlyphs" stroke="#bcbdcc">400 K</text>
<line x1="290.7" y1="258.55" x2="436.1" y2="258.55" stroke="#3c3f46" stroke-width="0.6"/>
<text x="288.1" y="260.37" font-size="6.3" fill="#bcbdcc" text-anchor="end" textLength="15.23" lengthAdjust="spacingAndGlyphs" stroke="#bcbdcc">200 K</text>
<line x1="290.7" y1="279.4" x2="436.1" y2="279.4" stroke="#3c3f46" stroke-width="0.6"/>
<text x="288.1" y="281.22" font-size="6.3" fill="#bcbdcc" text-anchor="end" textLength="3.24" lengthAdjust="spacingAndGlyphs" stroke="#bcbdcc">0</text>
<line x1="322.1" y1="196" x2="322.1" y2="279.4" stroke="#3c3f46" stroke-width="0.6"/>
<text x="322.5" y="288.77" font-size="6.3" fill="#bcbdcc" text-anchor="middle" textLength="14.58" lengthAdjust="spacingAndGlyphs" stroke="#bcbdcc">12:00</text>
<line x1="371.1" y1="196" x2="371.1" y2="279.4" stroke="#3c3f46" stroke-width="0.6"/>
<text x="371.5" y="288.77" font-size="6.3" fill="#bcbdcc" text-anchor="middle" textLength="14.58" lengthAdjust="spacingAndGlyphs" stroke="#bcbdcc">14:00</text>
<line x1="419.6" y1="196" x2="419.6" y2="279.4" stroke="#3c3f46" stroke-width="0.6"/>
<text x="420" y="288.77" font-size="6.3" fill="#bcbdcc" text-anchor="middle" textLength="14.58" lengthAdjust="spacingAndGlyphs" stroke="#bcbdcc">16:00</text>
<polyline points="290.68,263.97 298.42,269.13 307.03,268.27 315.64,269.3 324.24,268.44 332.85,268.27 341.45,268.79 350.06,268.27 358.66,268.61 367.27,269.13 375.88,268.27 384.48,268.27 393.09,268.96 401.69,269.13 410.3,268.79 418.91,269.13 427.51,268.27 436.12,268.61" fill="none" stroke="#BA43A9" stroke-width="1.05" stroke-linejoin="round" stroke-linecap="round" stroke-opacity="0.62"/>
<polyline points="290.68,256.22 298.42,266.89 307.03,264.83 315.64,265.69 324.24,266.55 332.85,264.83 338.01,265.86 346.62,261.39 353.5,264.14 360.39,264.83 370.71,267.41 381.04,266.55 390.51,262.25 398.25,266.55 408.58,265.69 418.91,266.72 427.51,267.41 436.12,267.41" fill="none" stroke="#705DA0" stroke-width="1.05" stroke-linejoin="round" stroke-linecap="round" stroke-opacity="0.62"/>
<polyline points="290.68,253.64 294.12,251.06 297.56,263.45 303.59,262.25 312.19,263.11 320.8,265.17 325.96,260.01 331.13,263.97 336.29,262.25 339.73,264.83 344.9,257.94 350.06,258.8 355.22,263.97 362.11,261.39 370.71,264.14 377.6,264.83 384.48,262.25 390.51,257.08 394.81,264.14 401.69,261.04 406.86,263.97 415.46,263.11 422.35,265.86 429.23,263.97 436.12,264.83" fill="none" stroke="#508642" stroke-width="1.05" stroke-linejoin="round" stroke-linecap="round" stroke-opacity="0.62"/>
<polyline points="290.68,256.22 298.42,257.6 307.03,255.36 315.64,256.39 324.24,254.5 332.85,256.22 341.45,255.88 350.06,254.5 358.66,255.53 367.27,256.22 375.88,254.5 384.48,253.64 393.09,256.39 401.69,254.5 410.3,255.53 418.91,254.16 427.51,253.64 436.12,253.81" fill="none" stroke="#E0752D" stroke-width="1.05" stroke-linejoin="round" stroke-linecap="round" stroke-opacity="0.62"/>
<polyline points="290.68,254.5 298.42,253.64 307.03,256.22 313.91,250.2 322.52,251.06 331.13,247.62 338.01,250.2 346.62,251.06 355.22,251.06 363.83,251.92 370.71,252.78 377.6,249.34 382.76,254.5 389.65,257.08 396.53,253.64 405.14,250.2 412.02,252.78 418.91,250.2 427.51,249.34 436.12,251.06" fill="none" stroke="#7EB26D" stroke-width="1.05" stroke-linejoin="round" stroke-linecap="round" stroke-opacity="0.62"/>
<polyline points="290.68,250.2 298.42,249.34 307.03,251.06 315.64,247.62 324.24,245.9 332.85,240.73 341.45,245.9 350.06,247.62 360.39,244.17 367.27,247.62 375.88,249.34 384.48,245.9 393.09,251.06 401.69,247.62 406.86,243.31 412.02,251.06 418.91,249.34 427.51,244.17 436.12,247.62" fill="none" stroke="#EF843C" stroke-width="1.05" stroke-linejoin="round" stroke-linecap="round" stroke-opacity="0.62"/>
<polyline points="290.68,250.2 298.42,247.62 305.31,251.06 310.47,252.78 313.91,243.31 322.52,249.34 332.85,245.9 341.45,240.73 346.62,232.13 350.06,245.9 355.22,252.78 360.39,249.34 367.27,250.2 374.15,250.2 381.04,245.9 384.48,249.34 394.81,250.2 401.69,249.34 410.3,251.06 418.91,245.03 427.51,245.9 431.81,240.73 436.12,245.9" fill="none" stroke="#E24D42" stroke-width="1.05" stroke-linejoin="round" stroke-linecap="round" stroke-opacity="0.62"/>
<polyline points="290.68,240.39 301.87,240.73 315.64,240.04 329.4,240.73 343.17,240.22 356.94,240.9 370.71,240.39 384.48,240.73 398.25,240.22 412.02,240.9 425.79,240.39 436.12,240.73" fill="none" stroke="#447EBC" stroke-width="0.84" stroke-linejoin="round" stroke-linecap="round" stroke-opacity="0.5"/>
<polyline points="290.68,242.62 307.03,242.28 324.24,242.45 341.45,241.94 358.66,242.28 375.88,242.11 393.09,242.28 410.3,241.94 427.51,241.76 436.12,241.76" fill="none" stroke="#EAB839" stroke-width="1.18" stroke-linejoin="round" stroke-linecap="round" stroke-opacity="0.72"/>
<polyline points="290.68,237.29 294.12,235.22 300.14,239.01 306.17,233.85 312.19,238.15 319.08,236.43 325.96,235.22 332.85,237.29 341.45,238.15 350.06,232.99 353.5,236.94 358.66,234.71 362.97,236.43 366.41,233.5 370.71,237.29 377.6,235.91 384.48,234.71 391.37,236.43 394.81,235.57 401.69,239.01 410.3,239.87 418.91,235.57 427.51,237.29 436.12,235.57" fill="none" stroke="#C15C17" stroke-width="1.05" stroke-linejoin="round" stroke-linecap="round" stroke-opacity="0.62"/>
<polyline points="290.68,239.87 297.56,232.99 305.31,245.9 313.91,226.1 319.08,233.85 325.96,223.52 330.27,240.73 334.57,229.54 338.01,235.57 342.31,232.99 346.62,215.77 351.78,240.73 356.94,247.62 367.27,240.73 374.15,244.17 378.46,232.13 382.76,247.62 387.92,235.57 394.81,240.73 401.69,245.03 406.86,240.73 410.3,249.34 415.46,245.9 418.91,233.85 423.21,207.17 427.51,233.85 430.61,222.66 433.54,237.29 436.12,239.01" fill="none" stroke="#1F78C1" stroke-width="1.05" stroke-linejoin="round" stroke-linecap="round" stroke-opacity="0.62"/>
<polyline points="290.68,240.73 298.42,247.62 305.31,249.34 313.91,239.01 322.52,229.54 325.96,231.27 330.27,216.29 334.57,230.4 338.01,245.9 346.62,240.73 353.5,244.17 360.39,240.73 367.27,244.17 374.15,249.34 378.46,233.85 382.76,221.45 387.92,232.13 391.37,245.9 401.69,245.9 406.86,210.09 410.3,233.85 412.02,244.17 418.91,240.73 427.51,241.59 431.81,237.29 436.12,242.45" fill="none" stroke="#6ED0E0" stroke-width="1.05" stroke-linejoin="round" stroke-linecap="round" stroke-opacity="0.62"/>
</g>
<g class="panel">
<rect x="452.3" y="171.2" width="180" height="126.5" fill="#181b1f" rx="1.5" stroke="#272a30" stroke-width="0.8"/>
<text x="542.3" y="181.96" font-size="7.4" fill="#d5d6e2" text-anchor="middle" font-weight="700" textLength="42.35" lengthAdjust="spacingAndGlyphs">Average rates</text>
<line x1="476" y1="196" x2="620.1" y2="196" stroke="#3c3f46" stroke-width="0.6"/>
<text x="473.4" y="197.82" font-size="6.3" fill="#bcbdcc" text-anchor="end" textLength="11.99" lengthAdjust="spacingAndGlyphs" stroke="#bcbdcc">10 K</text>
<line x1="476" y1="216.85" x2="620.1" y2="216.85" stroke="#3c3f46" stroke-width="0.6"/>
<text x="473.4" y="218.67" font-size="6.3" fill="#bcbdcc" text-anchor="end" textLength="16.85" lengthAdjust="spacingAndGlyphs" stroke="#bcbdcc">7.50 K</text>
<line x1="476" y1="237.7" x2="620.1" y2="237.7" stroke="#3c3f46" stroke-width="0.6"/>
<text x="473.4" y="239.52" font-size="6.3" fill="#bcbdcc" text-anchor="end" textLength="8.75" lengthAdjust="spacingAndGlyphs" stroke="#bcbdcc">5 K</text>
<line x1="476" y1="258.55" x2="620.1" y2="258.55" stroke="#3c3f46" stroke-width="0.6"/>
<text x="473.4" y="260.37" font-size="6.3" fill="#bcbdcc" text-anchor="end" textLength="16.85" lengthAdjust="spacingAndGlyphs" stroke="#bcbdcc">2.50 K</text>
<line x1="476" y1="279.4" x2="620.1" y2="279.4" stroke="#3c3f46" stroke-width="0.6"/>
<text x="473.4" y="281.22" font-size="6.3" fill="#bcbdcc" text-anchor="end" textLength="3.24" lengthAdjust="spacingAndGlyphs" stroke="#bcbdcc">0</text>
<line x1="507.4" y1="196" x2="507.4" y2="279.4" stroke="#3c3f46" stroke-width="0.6"/>
<text x="507.8" y="288.77" font-size="6.3" fill="#bcbdcc" text-anchor="middle" textLength="14.58" lengthAdjust="spacingAndGlyphs" stroke="#bcbdcc">12:00</text>
<line x1="555.6" y1="196" x2="555.6" y2="279.4" stroke="#3c3f46" stroke-width="0.6"/>
<text x="556" y="288.77" font-size="6.3" fill="#bcbdcc" text-anchor="middle" textLength="14.58" lengthAdjust="spacingAndGlyphs" stroke="#bcbdcc">14:00</text>
<line x1="603.8" y1="196" x2="603.8" y2="279.4" stroke="#3c3f46" stroke-width="0.6"/>
<text x="604.2" y="288.77" font-size="6.3" fill="#bcbdcc" text-anchor="middle" textLength="14.58" lengthAdjust="spacingAndGlyphs" stroke="#bcbdcc">16:00</text>
<polyline points="475.79,277.55 484.47,278.56 493.15,276.1 498.93,279.43 506.17,274.66 513.4,277.55 522.08,278.56 530.76,276.1 539.44,278.27 548.12,279.14 556.8,277.55 565.48,278.56 574.16,277.12 582.84,278.85 591.52,277.69 600.2,279.43 608.88,278.27 619.01,277.55" fill="none" stroke="#508642" stroke-width="1.05" stroke-linejoin="round" stroke-linecap="round" stroke-opacity="0.62"/>
<polyline points="475.79,271.76 481.57,270.32 488.81,273.93 496.04,272.49 503.27,274.66 511.95,277.55 519.19,273.93 527.87,274.66 536.55,277.55 545.23,274.66 553.91,276.1 562.59,275.38 571.27,276.1 579.95,274.66 588.63,276.1 597.31,277.55 605.99,275.38 614.67,274.66 619.01,273.93" fill="none" stroke="#705DA0" stroke-width="1.05" stroke-linejoin="round" stroke-linecap="round" stroke-opacity="0.62"/>
<polyline points="475.79,273.21 483.02,278.27 488.81,271.76 496.04,274.66 503.27,272.49 510.51,275.38 517.74,270.32 527.87,273.21 535.1,278.27 542.33,271.04 549.57,279 556.8,272.49 562.59,273.93 571.27,276.1 578.5,279 585.73,272.49 591.52,278.27 600.2,274.66 607.43,276.1 614.67,272.49 619.01,274.66" fill="none" stroke="#1F78C1" stroke-width="1.05" stroke-linejoin="round" stroke-linecap="round" stroke-opacity="0.62"/>
<polyline points="475.79,269.59 483.02,267.42 490.25,278.27 497.49,268.15 503.27,279 509.06,269.59 514.85,276.1 520.63,273.21 527.14,279 533.65,270.32 539.44,276.1 543.06,279 549.57,273.93 558.25,279 565.48,273.21 571.27,273.93 578.5,274.66 585.73,276.1 592.97,268.15 600.2,279 604.54,279 610.33,273.21 619.01,273.21" fill="none" stroke="#EF843C" stroke-width="1.05" stroke-linejoin="round" stroke-linecap="round" stroke-opacity="0.62"/>
<polyline points="475.79,275.38 484.47,276.1 491.7,273.93 498.93,277.55 507.61,272.49 516.29,273.93 520.63,265.25 526.42,275.38 532.21,268.15 537.99,273.93 543.78,276.1 551.01,265.25 556.8,276.83 564.03,273.93 571.27,273.21 576.33,266.7 580.67,278.27 585.73,273.93 592.97,276.83 600.2,269.59 606.71,278.27 614.67,273.93 619.01,273.93" fill="none" stroke="#6ED0E0" stroke-width="1.05" stroke-linejoin="round" stroke-linecap="round" stroke-opacity="0.62"/>
<polyline points="475.79,271.04 482.3,262.36 488.81,268.15 498.93,268.87 507.61,262.36 516.29,271.04 521.36,263.81 530.76,273.93 539.44,266.7 545.23,273.93 551.01,266.7 556.8,269.59 562.59,271.04 571.27,266.7 579.95,272.49 585.73,267.42 592.97,268.87 597.31,273.93 603.09,271.04 611.77,272.49 619.01,266.7" fill="none" stroke="#E24D42" stroke-width="1.05" stroke-linejoin="round" stroke-linecap="round" stroke-opacity="0.62"/>
<polyline points="475.79,268.15 484.47,269.59 491.7,268.15 498.93,270.32 506.17,263.81 513.4,269.59 522.8,255.85 527.87,268.15 535.1,272.49 542.33,265.25 548.84,257.3 555.35,269.59 562.59,263.81 568.37,266.7 573.44,269.59 577.05,261.64 579.95,270.32 585.73,265.25 590.07,273.21 595.14,261.64 600.2,270.32 605.99,271.76 613.22,265.25 619.01,261.64" fill="none" stroke="#EAB839" stroke-width="1.05" stroke-linejoin="round" stroke-linecap="round" stroke-opacity="0.62"/>
<polyline points="475.79,259.47 481.57,259.47 487.36,261.64 493.15,265.25 500.38,263.81 507.61,268.15 513.4,263.81 519.19,259.47 524.97,266.7 530.76,268.15 536.55,266.7 542.33,263.08 548.12,271.04 553.91,268.15 559.69,263.81 565.48,266.7 571.27,260.91 577.05,262.36 582.84,260.19 588.63,268.15 594.41,265.98 600.2,267.42 605.99,266.7 611.77,271.04 619.01,262.36" fill="none" stroke="#BA43A9" stroke-width="1.05" stroke-linejoin="round" stroke-linecap="round" stroke-opacity="0.62"/>
<polyline points="475.79,259.47 480.85,268.87 484.47,258.02 488.81,262.36 495.32,258.74 498.93,266.7 504.72,265.25 511.23,258.74 516.29,265.25 523.53,266.7 530.76,258.74 535.1,269.59 542.33,265.25 548.12,257.3 552.46,258.02 556.8,263.81 562.59,258.74 571.27,252.96 577.05,260.91 583.56,254.4 590.07,263.81 595.86,263.81 601.65,265.25 608.88,257.3 614.67,260.91 619.01,257.3" fill="none" stroke="#447EBC" stroke-width="1.05" stroke-linejoin="round" stroke-linecap="round" stroke-opacity="0.62"/>
<polyline points="475.54,246.76 478.98,249.34 483.28,245.03 486.73,236.43 490.17,246.76 494.47,266.55 498.77,266.55 503.08,233.85 507.38,225.24 510.82,263.11 515.13,247.62 518.57,240.73 522.87,222.66 527.17,239.01 531.48,233.85 535.78,251.06 540.08,245.03 543.52,254.5 547.83,235.57 551.27,238.15 555.57,238.15 559.02,223.52 562.46,257.94 566.76,244.17 571.92,247.62 575.37,252.78 579.67,254.5 583.97,245.9 587.41,238.15 591.72,239.01 596.02,230.4 599.46,227.82 602.91,244.17 606.35,239.01 611.51,251.06 614.95,250.2 618.74,216.64" fill="none" stroke="#7EB26D" stroke-width="1.05" stroke-linejoin="round" stroke-linecap="round" stroke-opacity="0.62"/>
<polyline points="475.54,239.01 478.98,246.76 483.28,240.73 486.73,249.34 490.17,239.87 494.47,245.03 498.77,251.06 503.08,240.73 507.38,239.01 510.82,237.29 515.13,250.2 519.43,239.01 522.87,247.62 527.17,239.87 531.48,253.64 535.78,243.31 539.22,228.68 542.66,255.36 547.83,234.71 551.27,250.2 555.57,240.73 559.02,242.45 563.32,264.83 566.76,247.62 571.06,233.85 575.37,226.1 579.67,245.9 583.97,255.36 587.41,245.9 591.72,236.43 596.02,238.15 599.46,233.85 602.91,250.2 607.21,239.01 611.51,251.06 614.95,236.43 618.74,237.29" fill="none" stroke="#E0752D" stroke-width="1.05" stroke-linejoin="round" stroke-linecap="round" stroke-opacity="0.62"/>
<polyline points="475.54,239.01 478.98,245.9 483.28,225.24 486.73,248.48 491.03,214.91 494.47,214.91 498.77,234.71 503.08,225.24 507.38,239.01 510.82,228.68 515.13,205.96 519.43,239.01 522.01,230.4 526.31,243.31 530.96,210.09 534.92,230.4 539.22,239.01 542.66,225.24 547.83,261.39 551.27,215.77 555.57,226.96 559.02,239.01 562.97,215.77 567.62,234.71 571.06,215.77 576.23,226.96 580.53,239.87 583.97,239.87 590.86,210.61 595.16,230.4 598.6,229.54 602.91,234.71 606.35,229.54 611.51,234.71 614.95,234.71 618.74,205.96" fill="none" stroke="#CCA300" stroke-width="1.18" stroke-linejoin="round" stroke-linecap="round" stroke-opacity="0.72"/>
</g>
<g class="panel">
<rect x="636.3" y="171.2" width="180" height="126.5" fill="#181b1f" rx="1.5" stroke="#272a30" stroke-width="0.8"/>
<text x="726.3" y="181.96" font-size="7.4" fill="#d5d6e2" text-anchor="middle" font-weight="700" textLength="32.91" lengthAdjust="spacingAndGlyphs">Rate totals</text>
<line x1="660" y1="196" x2="804.1" y2="196" stroke="#3c3f46" stroke-width="0.6"/>
<text x="657.4" y="197.82" font-size="6.3" fill="#bcbdcc" text-anchor="end" textLength="11.99" lengthAdjust="spacingAndGlyphs" stroke="#bcbdcc">10 K</text>
<line x1="660" y1="216.85" x2="804.1" y2="216.85" stroke="#3c3f46" stroke-width="0.6"/>
<text x="657.4" y="218.67" font-size="6.3" fill="#bcbdcc" text-anchor="end" textLength="16.85" lengthAdjust="spacingAndGlyphs" stroke="#bcbdcc">7.50 K</text>
<line x1="660" y1="237.7" x2="804.1" y2="237.7" stroke="#3c3f46" stroke-width="0.6"/>
<text x="657.4" y="239.52" font-size="6.3" fill="#bcbdcc" text-anchor="end" textLength="8.75" lengthAdjust="spacingAndGlyphs" stroke="#bcbdcc">5 K</text>
<line x1="660" y1="258.55" x2="804.1" y2="258.55" stroke="#3c3f46" stroke-width="0.6"/>
<text x="657.4" y="260.37" font-size="6.3" fill="#bcbdcc" text-anchor="end" textLength="16.85" lengthAdjust="spacingAndGlyphs" stroke="#bcbdcc">2.50 K</text>
<line x1="660" y1="279.4" x2="804.1" y2="279.4" stroke="#3c3f46" stroke-width="0.6"/>
<text x="657.4" y="281.22" font-size="6.3" fill="#bcbdcc" text-anchor="end" textLength="3.24" lengthAdjust="spacingAndGlyphs" stroke="#bcbdcc">0</text>
<line x1="691.4" y1="196" x2="691.4" y2="279.4" stroke="#3c3f46" stroke-width="0.6"/>
<text x="691.8" y="288.77" font-size="6.3" fill="#bcbdcc" text-anchor="middle" textLength="14.58" lengthAdjust="spacingAndGlyphs" stroke="#bcbdcc">12:00</text>
<line x1="739.6" y1="196" x2="739.6" y2="279.4" stroke="#3c3f46" stroke-width="0.6"/>
<text x="740" y="288.77" font-size="6.3" fill="#bcbdcc" text-anchor="middle" textLength="14.58" lengthAdjust="spacingAndGlyphs" stroke="#bcbdcc">14:00</text>
<line x1="787.8" y1="196" x2="787.8" y2="279.4" stroke="#3c3f46" stroke-width="0.6"/>
<text x="788.2" y="288.77" font-size="6.3" fill="#bcbdcc" text-anchor="middle" textLength="14.58" lengthAdjust="spacingAndGlyphs" stroke="#bcbdcc">16:00</text>
<polyline points="659.79,277.55 668.47,278.56 677.15,276.1 682.93,279.43 690.17,274.66 697.4,277.55 706.08,278.56 714.76,276.1 723.44,278.27 732.12,279.14 740.8,277.55 749.48,278.56 758.16,277.12 766.84,278.85 775.52,277.69 784.2,279.43 792.88,278.27 803.01,277.55" fill="none" stroke="#508642" stroke-width="1.05" stroke-linejoin="round" stroke-linecap="round" stroke-opacity="0.62"/>
<polyline points="659.79,271.76 665.57,270.32 672.81,273.93 680.04,272.49 687.27,274.66 695.95,277.55 703.19,273.93 711.87,274.66 720.55,277.55 729.23,274.66 737.91,276.1 746.59,275.38 755.27,276.1 763.95,274.66 772.63,276.1 781.31,277.55 789.99,275.38 798.67,274.66 803.01,273.93" fill="none" stroke="#705DA0" stroke-width="1.05" stroke-linejoin="round" stroke-linecap="round" stroke-opacity="0.62"/>
<polyline points="659.79,273.21 667.02,278.27 672.81,271.76 680.04,274.66 687.27,272.49 694.51,275.38 701.74,270.32 711.87,273.21 719.1,278.27 726.33,271.04 733.57,279 740.8,272.49 746.59,273.93 755.27,276.1 762.5,279 769.73,272.49 775.52,278.27 784.2,274.66 791.43,276.1 798.67,272.49 803.01,274.66" fill="none" stroke="#1F78C1" stroke-width="1.05" stroke-linejoin="round" stroke-linecap="round" stroke-opacity="0.62"/>
<polyline points="659.79,269.59 667.02,267.42 674.25,278.27 681.49,268.15 687.27,279 693.06,269.59 698.85,276.1 704.63,273.21 711.14,279 717.65,270.32 723.44,276.1 727.06,279 733.57,273.93 742.25,279 749.48,273.21 755.27,273.93 762.5,274.66 769.73,276.1 776.97,268.15 784.2,279 788.54,279 794.33,273.21 803.01,273.21" fill="none" stroke="#EF843C" stroke-width="1.05" stroke-linejoin="round" stroke-linecap="round" stroke-opacity="0.62"/>
<polyline points="659.79,275.38 668.47,276.1 675.7,273.93 682.93,277.55 691.61,272.49 700.29,273.93 704.63,265.25 710.42,275.38 716.21,268.15 721.99,273.93 727.78,276.1 735.01,265.25 740.8,276.83 748.03,273.93 755.27,273.21 760.33,266.7 764.67,278.27 769.73,273.93 776.97,276.83 784.2,269.59 790.71,278.27 798.67,273.93 803.01,273.93" fill="none" stroke="#6ED0E0" stroke-width="1.05" stroke-linejoin="round" stroke-linecap="round" stroke-opacity="0.62"/>
<polyline points="659.79,271.04 666.3,262.36 672.81,268.15 682.93,268.87 691.61,262.36 700.29,271.04 705.36,263.81 714.76,273.93 723.44,266.7 729.23,273.93 735.01,266.7 740.8,269.59 746.59,271.04 755.27,266.7 763.95,272.49 769.73,267.42 776.97,268.87 781.31,273.93 787.09,271.04 795.77,272.49 803.01,266.7" fill="none" stroke="#E24D42" stroke-width="1.05" stroke-linejoin="round" stroke-linecap="round" stroke-opacity="0.62"/>
<polyline points="659.79,268.15 668.47,269.59 675.7,268.15 682.93,270.32 690.17,263.81 697.4,269.59 706.8,255.85 711.87,268.15 719.1,272.49 726.33,265.25 732.84,257.3 739.35,269.59 746.59,263.81 752.37,266.7 757.44,269.59 761.05,261.64 763.95,270.32 769.73,265.25 774.07,273.21 779.14,261.64 784.2,270.32 789.99,271.76 797.22,265.25 803.01,261.64" fill="none" stroke="#EAB839" stroke-width="1.05" stroke-linejoin="round" stroke-linecap="round" stroke-opacity="0.62"/>
<polyline points="659.79,259.47 665.57,259.47 671.36,261.64 677.15,265.25 684.38,263.81 691.61,268.15 697.4,263.81 703.19,259.47 708.97,266.7 714.76,268.15 720.55,266.7 726.33,263.08 732.12,271.04 737.91,268.15 743.69,263.81 749.48,266.7 755.27,260.91 761.05,262.36 766.84,260.19 772.63,268.15 778.41,265.98 784.2,267.42 789.99,266.7 795.77,271.04 803.01,262.36" fill="none" stroke="#BA43A9" stroke-width="1.05" stroke-linejoin="round" stroke-linecap="round" stroke-opacity="0.62"/>
<polyline points="659.79,259.47 664.85,268.87 668.47,258.02 672.81,262.36 679.32,258.74 682.93,266.7 688.72,265.25 695.23,258.74 700.29,265.25 707.53,266.7 714.76,258.74 719.1,269.59 726.33,265.25 732.12,257.3 736.46,258.02 740.8,263.81 746.59,258.74 755.27,252.96 761.05,260.91 767.56,254.4 774.07,263.81 779.86,263.81 785.65,265.25 792.88,257.3 798.67,260.91 803.01,257.3" fill="none" stroke="#447EBC" stroke-width="1.05" stroke-linejoin="round" stroke-linecap="round" stroke-opacity="0.62"/>
<polyline points="659.54,246.76 662.98,249.34 667.28,245.03 670.73,236.43 674.17,246.76 678.47,266.55 682.77,266.55 687.08,233.85 691.38,225.24 694.82,263.11 699.13,247.62 702.57,240.73 706.87,222.66 711.17,239.01 715.48,233.85 719.78,251.06 724.08,245.03 727.52,254.5 731.83,235.57 735.27,238.15 739.57,238.15 743.02,223.52 746.46,257.94 750.76,244.17 755.92,247.62 759.37,252.78 763.67,254.5 767.97,245.9 771.41,238.15 775.72,239.01 780.02,230.4 783.46,227.82 786.91,244.17 790.35,239.01 795.51,251.06 798.95,250.2 802.74,216.64" fill="none" stroke="#7EB26D" stroke-width="1.05" stroke-linejoin="round" stroke-linecap="round" stroke-opacity="0.62"/>
<polyline points="659.54,239.01 662.98,246.76 667.28,240.73 670.73,249.34 674.17,239.87 678.47,245.03 682.77,251.06 687.08,240.73 691.38,239.01 694.82,237.29 699.13,250.2 703.43,239.01 706.87,247.62 711.17,239.87 715.48,253.64 719.78,243.31 723.22,228.68 726.66,255.36 731.83,234.71 735.27,250.2 739.57,240.73 743.02,242.45 747.32,264.83 750.76,247.62 755.06,233.85 759.37,226.1 763.67,245.9 767.97,255.36 771.41,245.9 775.72,236.43 780.02,238.15 783.46,233.85 786.91,250.2 791.21,239.01 795.51,251.06 798.95,236.43 802.74,237.29" fill="none" stroke="#E0752D" stroke-width="1.05" stroke-linejoin="round" stroke-linecap="round" stroke-opacity="0.62"/>
<polyline points="659.54,239.01 662.98,245.9 667.28,225.24 670.73,248.48 675.03,214.91 678.47,214.91 682.77,234.71 687.08,225.24 691.38,239.01 694.82,228.68 699.13,205.96 703.43,239.01 706.01,230.4 710.31,243.31 714.96,210.09 718.92,230.4 723.22,239.01 726.66,225.24 731.83,261.39 735.27,215.77 739.57,226.96 743.02,239.01 746.97,215.77 751.62,234.71 755.06,215.77 760.23,226.96 764.53,239.87 767.97,239.87 774.86,210.61 779.16,230.4 782.6,229.54 786.91,234.71 790.35,229.54 795.51,234.71 798.95,234.71 802.74,205.96" fill="none" stroke="#CCA300" stroke-width="1.18" stroke-linejoin="round" stroke-linecap="round" stroke-opacity="0.72"/>
</g>
<g class="panel">
<rect x="84.3" y="320.7" width="180" height="126.5" fill="#181b1f" rx="1.5" stroke="#272a30" stroke-width="0.8"/>
<text x="174.3" y="331.46" font-size="7.4" fill="#d5d6e2" text-anchor="middle" font-weight="700" textLength="25.17" lengthAdjust="spacingAndGlyphs">Average</text>
<line x1="106.7" y1="345.5" x2="252.1" y2="345.5" stroke="#3c3f46" stroke-width="0.6"/>
<text x="104.1" y="347.32" font-size="6.3" fill="#bcbdcc" text-anchor="end" textLength="15.23" lengthAdjust="spacingAndGlyphs" stroke="#bcbdcc">600 K</text>
<line x1="106.7" y1="359.4" x2="252.1" y2="359.4" stroke="#3c3f46" stroke-width="0.6"/>
<text x="104.1" y="361.22" font-size="6.3" fill="#bcbdcc" text-anchor="end" textLength="15.23" lengthAdjust="spacingAndGlyphs" stroke="#bcbdcc">500 K</text>
<line x1="106.7" y1="373.3" x2="252.1" y2="373.3" stroke="#3c3f46" stroke-width="0.6"/>
<text x="104.1" y="375.12" font-size="6.3" fill="#bcbdcc" text-anchor="end" textLength="15.23" lengthAdjust="spacingAndGlyphs" stroke="#bcbdcc">400 K</text>
<line x1="106.7" y1="387.2" x2="252.1" y2="387.2" stroke="#3c3f46" stroke-width="0.6"/>
<text x="104.1" y="389.02" font-size="6.3" fill="#bcbdcc" text-anchor="end" textLength="15.23" lengthAdjust="spacingAndGlyphs" stroke="#bcbdcc">300 K</text>
<line x1="106.7" y1="401.1" x2="252.1" y2="401.1" stroke="#3c3f46" stroke-width="0.6"/>
<text x="104.1" y="402.92" font-size="6.3" fill="#bcbdcc" text-anchor="end" textLength="15.23" lengthAdjust="spacingAndGlyphs" stroke="#bcbdcc">200 K</text>
<line x1="106.7" y1="415" x2="252.1" y2="415" stroke="#3c3f46" stroke-width="0.6"/>
<text x="104.1" y="416.82" font-size="6.3" fill="#bcbdcc" text-anchor="end" textLength="15.23" lengthAdjust="spacingAndGlyphs" stroke="#bcbdcc">100 K</text>
<line x1="106.7" y1="428.9" x2="252.1" y2="428.9" stroke="#3c3f46" stroke-width="0.6"/>
<text x="104.1" y="430.72" font-size="6.3" fill="#bcbdcc" text-anchor="end" textLength="3.24" lengthAdjust="spacingAndGlyphs" stroke="#bcbdcc">0</text>
<line x1="138.1" y1="345.5" x2="138.1" y2="428.9" stroke="#3c3f46" stroke-width="0.6"/>
<text x="138.5" y="438.27" font-size="6.3" fill="#bcbdcc" text-anchor="middle" textLength="14.58" lengthAdjust="spacingAndGlyphs" stroke="#bcbdcc">12:00</text>
<line x1="187.1" y1="345.5" x2="187.1" y2="428.9" stroke="#3c3f46" stroke-width="0.6"/>
<text x="187.5" y="438.27" font-size="6.3" fill="#bcbdcc" text-anchor="middle" textLength="14.58" lengthAdjust="spacingAndGlyphs" stroke="#bcbdcc">14:00</text>
<line x1="235.6" y1="345.5" x2="235.6" y2="428.9" stroke="#3c3f46" stroke-width="0.6"/>
<text x="236" y="438.27" font-size="6.3" fill="#bcbdcc" text-anchor="middle" textLength="14.58" lengthAdjust="spacingAndGlyphs" stroke="#bcbdcc">16:00</text>
<line x1="106.7" y1="427.9" x2="252.1" y2="427.9" stroke="#508642" stroke-width="0.9" stroke-opacity="0.7"/>
<line x1="106.7" y1="427.1" x2="252.1" y2="427.1" stroke="#E0752D" stroke-width="0.9" stroke-opacity="0.6"/>
<line x1="106.7" y1="389.4" x2="252.1" y2="389.4" stroke="#6ED0E0" stroke-width="0.9" stroke-opacity="0.6"/>
<line x1="106.7" y1="348.2" x2="252.1" y2="348.2" stroke="#CCA300" stroke-width="0.9" stroke-opacity="0.8"/>
</g>
<g class="panel">
<rect x="268.3" y="320.7" width="180" height="126.5" fill="#181b1f" rx="1.5" stroke="#272a30" stroke-width="0.8"/>
<text x="358.3" y="331.46" font-size="7.4" fill="#d5d6e2" text-anchor="middle" font-weight="700" textLength="13.95" lengthAdjust="spacingAndGlyphs">Sum</text>
<line x1="290.7" y1="345.5" x2="436.1" y2="345.5" stroke="#3c3f46" stroke-width="0.6"/>
<text x="288.1" y="347.32" font-size="6.3" fill="#bcbdcc" text-anchor="end" textLength="15.23" lengthAdjust="spacingAndGlyphs" stroke="#bcbdcc">600 K</text>
<line x1="290.7" y1="359.4" x2="436.1" y2="359.4" stroke="#3c3f46" stroke-width="0.6"/>
<text x="288.1" y="361.22" font-size="6.3" fill="#bcbdcc" text-anchor="end" textLength="15.23" lengthAdjust="spacingAndGlyphs" stroke="#bcbdcc">500 K</text>
<line x1="290.7" y1="373.3" x2="436.1" y2="373.3" stroke="#3c3f46" stroke-width="0.6"/>
<text x="288.1" y="375.12" font-size="6.3" fill="#bcbdcc" text-anchor="end" textLength="15.23" lengthAdjust="spacingAndGlyphs" stroke="#bcbdcc">400 K</text>
<line x1="290.7" y1="387.2" x2="436.1" y2="387.2" stroke="#3c3f46" stroke-width="0.6"/>
<text x="288.1" y="389.02" font-size="6.3" fill="#bcbdcc" text-anchor="end" textLength="15.23" lengthAdjust="spacingAndGlyphs" stroke="#bcbdcc">300 K</text>
<line x1="290.7" y1="401.1" x2="436.1" y2="401.1" stroke="#3c3f46" stroke-width="0.6"/>
<text x="288.1" y="402.92" font-size="6.3" fill="#bcbdcc" text-anchor="end" textLength="15.23" lengthAdjust="spacingAndGlyphs" stroke="#bcbdcc">200 K</text>
<line x1="290.7" y1="415" x2="436.1" y2="415" stroke="#3c3f46" stroke-width="0.6"/>
<text x="288.1" y="416.82" font-size="6.3" fill="#bcbdcc" text-anchor="end" textLength="15.23" lengthAdjust="spacingAndGlyphs" stroke="#bcbdcc">100 K</text>
<line x1="290.7" y1="428.9" x2="436.1" y2="428.9" stroke="#3c3f46" stroke-width="0.6"/>
<text x="288.1" y="430.72" font-size="6.3" fill="#bcbdcc" text-anchor="end" textLength="3.24" lengthAdjust="spacingAndGlyphs" stroke="#bcbdcc">0</text>
<line x1="322.1" y1="345.5" x2="322.1" y2="428.9" stroke="#3c3f46" stroke-width="0.6"/>
<text x="322.5" y="438.27" font-size="6.3" fill="#bcbdcc" text-anchor="middle" textLength="14.58" lengthAdjust="spacingAndGlyphs" stroke="#bcbdcc">12:00</text>
<line x1="371.1" y1="345.5" x2="371.1" y2="428.9" stroke="#3c3f46" stroke-width="0.6"/>
<text x="371.5" y="438.27" font-size="6.3" fill="#bcbdcc" text-anchor="middle" textLength="14.58" lengthAdjust="spacingAndGlyphs" stroke="#bcbdcc">14:00</text>
<line x1="419.6" y1="345.5" x2="419.6" y2="428.9" stroke="#3c3f46" stroke-width="0.6"/>
<text x="420" y="438.27" font-size="6.3" fill="#bcbdcc" text-anchor="middle" textLength="14.58" lengthAdjust="spacingAndGlyphs" stroke="#bcbdcc">16:00</text>
<line x1="290.7" y1="427.9" x2="436.1" y2="427.9" stroke="#508642" stroke-width="0.9" stroke-opacity="0.7"/>
<line x1="290.7" y1="427.1" x2="436.1" y2="427.1" stroke="#E0752D" stroke-width="0.9" stroke-opacity="0.6"/>
<line x1="290.7" y1="389.4" x2="436.1" y2="389.4" stroke="#6ED0E0" stroke-width="0.9" stroke-opacity="0.6"/>
<line x1="290.7" y1="348.2" x2="436.1" y2="348.2" stroke="#CCA300" stroke-width="0.9" stroke-opacity="0.8"/>
</g>
<g class="panel">
<rect x="452.3" y="320.7" width="180" height="126.5" fill="#181b1f" rx="1.5" stroke="#272a30" stroke-width="0.8"/>
<text x="542.3" y="331.46" font-size="7.4" fill="#d5d6e2" text-anchor="middle" font-weight="700" textLength="42.35" lengthAdjust="spacingAndGlyphs">Average rates</text>
<line x1="478" y1="345.5" x2="620.1" y2="345.5" stroke="#3c3f46" stroke-width="0.6"/>
<text x="475.4" y="347.32" font-size="6.3" fill="#bcbdcc" text-anchor="end" textLength="17.82" lengthAdjust="spacingAndGlyphs" stroke="#bcbdcc">0.0667</text>
<line x1="478" y1="366.35" x2="620.1" y2="366.35" stroke="#3c3f46" stroke-width="0.6"/>
<text x="475.4" y="368.17" font-size="6.3" fill="#bcbdcc" text-anchor="end" textLength="17.82" lengthAdjust="spacingAndGlyphs" stroke="#bcbdcc">0.0667</text>
<line x1="478" y1="387.2" x2="620.1" y2="387.2" stroke="#3c3f46" stroke-width="0.6"/>
<text x="475.4" y="389.02" font-size="6.3" fill="#bcbdcc" text-anchor="end" textLength="17.82" lengthAdjust="spacingAndGlyphs" stroke="#bcbdcc">0.0667</text>
<line x1="478" y1="408.05" x2="620.1" y2="408.05" stroke="#3c3f46" stroke-width="0.6"/>
<text x="475.4" y="409.87" font-size="6.3" fill="#bcbdcc" text-anchor="end" textLength="17.82" lengthAdjust="spacingAndGlyphs" stroke="#bcbdcc">0.0667</text>
<line x1="478" y1="428.9" x2="620.1" y2="428.9" stroke="#3c3f46" stroke-width="0.6"/>
<text x="475.4" y="430.72" font-size="6.3" fill="#bcbdcc" text-anchor="end" textLength="17.82" lengthAdjust="spacingAndGlyphs" stroke="#bcbdcc">0.0667</text>
<line x1="508.6" y1="345.5" x2="508.6" y2="428.9" stroke="#3c3f46" stroke-width="0.6"/>
<text x="509" y="438.27" font-size="6.3" fill="#bcbdcc" text-anchor="middle" textLength="14.58" lengthAdjust="spacingAndGlyphs" stroke="#bcbdcc">12:00</text>
<line x1="555.6" y1="345.5" x2="555.6" y2="428.9" stroke="#3c3f46" stroke-width="0.6"/>
<text x="556" y="438.27" font-size="6.3" fill="#bcbdcc" text-anchor="middle" textLength="14.58" lengthAdjust="spacingAndGlyphs" stroke="#bcbdcc">14:00</text>
<line x1="603.8" y1="345.5" x2="603.8" y2="428.9" stroke="#3c3f46" stroke-width="0.6"/>
<text x="604.2" y="438.27" font-size="6.3" fill="#bcbdcc" text-anchor="middle" textLength="14.58" lengthAdjust="spacingAndGlyphs" stroke="#bcbdcc">16:00</text>
<polyline points="477.6,393.31 480.7,395.9 484.49,421.71 488.79,364.05 492.75,390.73 496.54,409.66 500.5,390.73 504.45,402.78 508.24,380.4 512.54,405.36 516.33,395.9 520.29,377.82 524.25,402.78 528.03,390.73 531.99,387.29 536.12,417.41 540.08,370.94 543.87,402.78 547.83,401.06 551.79,414.83 555.75,377.82 559.88,373.18 563.66,394.17 568.48,394.17 572.78,393.31 577.09,394.17 581.39,393.31 585.69,394.17 590,401.06 594.3,400.2 598.95,380.4 602.91,402.78 606.69,387.29 610.65,401.06 614.61,405.36 618.74,382.99" fill="none" stroke="#7EB26D" stroke-width="1.05" stroke-linejoin="round" stroke-linecap="round" stroke-opacity="0.62"/>
<polyline points="477.6,389.87 480.7,401.06 484.49,395.9 488.79,387.29 492.75,405.36 496.54,390.73 500.5,382.47 504.45,402.78 508.24,385.57 512.54,395.03 516.33,405.36 520.29,382.47 524.25,395.9 528.03,393.31 531.99,394.17 536.12,394.17 540.08,397.62 543.87,390.73 547.83,395.9 551.79,405.36 555.75,392.45 559.88,384.71 563.66,394.17 568.48,394.17 575.37,394.17 579.67,402.78 583.46,384.71 587.41,402.78 591.72,394.17 596.02,389.01 600.32,389.01 603.77,394.17 607.21,394.17 611.51,401.06 614.95,387.29 618.74,405.36" fill="none" stroke="#6ED0E0" stroke-width="1.05" stroke-linejoin="round" stroke-linecap="round" stroke-opacity="0.62"/>
<polyline points="477.6,394.17 484.49,393.83 488.79,395.9 492.75,398.48 496.54,392.45 500.5,394.17 504.45,394.17 508.24,393.31 512.54,398.48 516.33,389.87 520.29,392.45 524.25,398.48 528.03,389.87 531.99,394.17 536.12,398.48 540.08,399.34 543.87,389.87 547.83,389.01 551.79,394.17 555.75,394.17 559.88,394.17 563.66,399.34 568.48,394.17 572.78,389.87 577.09,390.73 579.67,398.48 583.46,389.87 587.41,394.17 591.72,394.17 594.3,398.48 598.95,389.01 602.91,397.62 606.69,397.62 610.65,407.94 614.61,375.24 618.74,394.17" fill="none" stroke="#EF843C" stroke-width="1.05" stroke-linejoin="round" stroke-linecap="round" stroke-opacity="0.62"/>
<polyline points="477.6,399.34 480.7,384.71 484.49,390.73 488.79,401.06 492.75,387.29 496.54,394.17 500.5,390.73 504.45,401.06 508.24,394.17 512.54,387.29 516.33,401.06 520.29,389.01 524.25,394.17 528.03,398.48 531.99,394.17 536.12,387.29 540.08,394.17 543.87,394.17 547.83,394.17 551.79,394.17 555.75,394.17 559.88,394.17 563.66,401.06 567.62,394.17 571.58,384.71 575.37,394.17 579.67,394.17 583.46,394.17 587.41,394.17 591.72,399.34 595.16,399.34 598.95,384.71 602.91,403.64 606.69,392.45 610.65,384.71 614.61,403.64 618.74,390.73" fill="none" stroke="#EAB839" stroke-width="1.05" stroke-linejoin="round" stroke-linecap="round" stroke-opacity="0.62"/>
</g>
<g class="panel">
<rect x="636.3" y="320.7" width="180" height="126.5" fill="#181b1f" rx="1.5" stroke="#272a30" stroke-width="0.8"/>
<text x="726.3" y="331.46" font-size="7.4" fill="#d5d6e2" text-anchor="middle" font-weight="700" textLength="32.91" lengthAdjust="spacingAndGlyphs">Rate totals</text>
<line x1="662" y1="345.5" x2="804.1" y2="345.5" stroke="#3c3f46" stroke-width="0.6"/>
<text x="659.4" y="347.32" font-size="6.3" fill="#bcbdcc" text-anchor="end" textLength="17.82" lengthAdjust="spacingAndGlyphs" stroke="#bcbdcc">0.0667</text>
<line x1="662" y1="366.35" x2="804.1" y2="366.35" stroke="#3c3f46" stroke-width="0.6"/>
<text x="659.4" y="368.17" font-size="6.3" fill="#bcbdcc" text-anchor="end" textLength="17.82" lengthAdjust="spacingAndGlyphs" stroke="#bcbdcc">0.0667</text>
<line x1="662" y1="387.2" x2="804.1" y2="387.2" stroke="#3c3f46" stroke-width="0.6"/>
<text x="659.4" y="389.02" font-size="6.3" fill="#bcbdcc" text-anchor="end" textLength="17.82" lengthAdjust="spacingAndGlyphs" stroke="#bcbdcc">0.0667</text>
<line x1="662" y1="408.05" x2="804.1" y2="408.05" stroke="#3c3f46" stroke-width="0.6"/>
<text x="659.4" y="409.87" font-size="6.3" fill="#bcbdcc" text-anchor="end" textLength="17.82" lengthAdjust="spacingAndGlyphs" stroke="#bcbdcc">0.0667</text>
<line x1="662" y1="428.9" x2="804.1" y2="428.9" stroke="#3c3f46" stroke-width="0.6"/>
<text x="659.4" y="430.72" font-size="6.3" fill="#bcbdcc" text-anchor="end" textLength="17.82" lengthAdjust="spacingAndGlyphs" stroke="#bcbdcc">0.0667</text>
<line x1="692.6" y1="345.5" x2="692.6" y2="428.9" stroke="#3c3f46" stroke-width="0.6"/>
<text x="693" y="438.27" font-size="6.3" fill="#bcbdcc" text-anchor="middle" textLength="14.58" lengthAdjust="spacingAndGlyphs" stroke="#bcbdcc">12:00</text>
<line x1="739.6" y1="345.5" x2="739.6" y2="428.9" stroke="#3c3f46" stroke-width="0.6"/>
<text x="740" y="438.27" font-size="6.3" fill="#bcbdcc" text-anchor="middle" textLength="14.58" lengthAdjust="spacingAndGlyphs" stroke="#bcbdcc">14:00</text>
<line x1="787.8" y1="345.5" x2="787.8" y2="428.9" stroke="#3c3f46" stroke-width="0.6"/>
<text x="788.2" y="438.27" font-size="6.3" fill="#bcbdcc" text-anchor="middle" textLength="14.58" lengthAdjust="spacingAndGlyphs" stroke="#bcbdcc">16:00</text>
<polyline points="661.6,393.31 664.7,395.9 668.49,421.71 672.79,364.05 676.75,390.73 680.54,409.66 684.5,390.73 688.45,402.78 692.24,380.4 696.54,405.36 700.33,395.9 704.29,377.82 708.25,402.78 712.03,390.73 715.99,387.29 720.12,417.41 724.08,370.94 727.87,402.78 731.83,401.06 735.79,414.83 739.75,377.82 743.88,373.18 747.66,394.17 752.48,394.17 756.78,393.31 761.09,394.17 765.39,393.31 769.69,394.17 774,401.06 778.3,400.2 782.95,380.4 786.91,402.78 790.69,387.29 794.65,401.06 798.61,405.36 802.74,382.99" fill="none" stroke="#7EB26D" stroke-width="1.05" stroke-linejoin="round" stroke-linecap="round" stroke-opacity="0.62"/>
<polyline points="661.6,389.87 664.7,401.06 668.49,395.9 672.79,387.29 676.75,405.36 680.54,390.73 684.5,382.47 688.45,402.78 692.24,385.57 696.54,395.03 700.33,405.36 704.29,382.47 708.25,395.9 712.03,393.31 715.99,394.17 720.12,394.17 724.08,397.62 727.87,390.73 731.83,395.9 735.79,405.36 739.75,392.45 743.88,384.71 747.66,394.17 752.48,394.17 759.37,394.17 763.67,402.78 767.46,384.71 771.41,402.78 775.72,394.17 780.02,389.01 784.32,389.01 787.77,394.17 791.21,394.17 795.51,401.06 798.95,387.29 802.74,405.36" fill="none" stroke="#6ED0E0" stroke-width="1.05" stroke-linejoin="round" stroke-linecap="round" stroke-opacity="0.62"/>
<polyline points="661.6,394.17 668.49,393.83 672.79,395.9 676.75,398.48 680.54,392.45 684.5,394.17 688.45,394.17 692.24,393.31 696.54,398.48 700.33,389.87 704.29,392.45 708.25,398.48 712.03,389.87 715.99,394.17 720.12,398.48 724.08,399.34 727.87,389.87 731.83,389.01 735.79,394.17 739.75,394.17 743.88,394.17 747.66,399.34 752.48,394.17 756.78,389.87 761.09,390.73 763.67,398.48 767.46,389.87 771.41,394.17 775.72,394.17 778.3,398.48 782.95,389.01 786.91,397.62 790.69,397.62 794.65,407.94 798.61,375.24 802.74,394.17" fill="none" stroke="#EF843C" stroke-width="1.05" stroke-linejoin="round" stroke-linecap="round" stroke-opacity="0.62"/>
<polyline points="661.6,399.34 664.7,384.71 668.49,390.73 672.79,401.06 676.75,387.29 680.54,394.17 684.5,390.73 688.45,401.06 692.24,394.17 696.54,387.29 700.33,401.06 704.29,389.01 708.25,394.17 712.03,398.48 715.99,394.17 720.12,387.29 724.08,394.17 727.87,394.17 731.83,394.17 735.79,394.17 739.75,394.17 743.88,394.17 747.66,401.06 751.62,394.17 755.58,384.71 759.37,394.17 763.67,394.17 767.46,394.17 771.41,394.17 775.72,399.34 779.16,399.34 782.95,384.71 786.91,403.64 790.69,392.45 794.65,384.71 798.61,403.64 802.74,390.73" fill="none" stroke="#EAB839" stroke-width="1.05" stroke-linejoin="round" stroke-linecap="round" stroke-opacity="0.62"/>
</g>
<ellipse class="vignette" cx="215" cy="472" rx="215" ry="98" fill="url(#vignette)"/>
</g></g>
<path d="M363.5 464.5H48.5V105.6Q48.5 103 51.1 103H820.1Q822.7 103 822.7 105.6V252.5" fill="none" stroke="#03041a" stroke-width="1.1"/>
<path d="M822.7 252.5V464.5H363.5" fill="none" stroke="#08090f" stroke-width="1.1" stroke-opacity="0.7"/>
</g>
<g id="grafana-badge"><circle cx="1001.2" cy="102" r="58.1" fill="#ffffff" filter="url(#shadow3)"/><g transform="translate(956.05 57.86) scale(0.2408)"><path fill="#f96e1f" d="M342,161.2c-0.6-6.1-1.6-13.1-3.6-20.9c-2-7.7-5-16.2-9.4-25c-4.4-8.8-10.1-17.900-17.500-26.800c-2.900-3.500-6.100-6.900-9.500-10.200c5.100-20.300-6.200-37.900-6.200-37.900c-19.500-1.200-31.900,6.100-36.500,9.400c-0.800-0.300-1.500-0.700-2.300-1c-3.300-1.300-6.700-2.600-10.300-3.700c-3.500-1.100-7.100-2.100-10.800-3c-3.700-0.900-7.400-1.600-11.200-2.200c-0.700-0.100-1.300-0.200-2-0.300c-8.500-27.200-32.900-38.600-32.900-38.600c-27.300,17.300-32.400,41.500-32.400,41.500s-0.100,0.500-0.300,1.400c-1.500,0.400-3,0.900-4.500,1.300c-2.100,0.600-4.200,1.400-6.200,2.200c-2.100,0.800-4.100,1.600-6.200,2.500c-4.100,1.800-8.200,3.800-12.200,6c-3.900,2.200-7.700,4.600-11.400,7.100c-0.500-0.200-1-0.400-1-0.400c-37.800-14.400-71.300,2.900-71.300,2.900c-3.100,40.200,15.100,65.500,18.700,70.100c-0.900,2.500-1.700,5-2.500,7.500c-2.800,9.100-4.900,18.400-6.200,28.100c-0.200,1.400-0.400,2.800-0.500,4.200C18.800,192.700,8.500,228,8.500,228c29.100,33.500,63.100,35.600,63.100,35.600c0,0,0.100-0.100,0.100-0.100c4.300,7.700,9.300,15,14.900,21.900c2.400,2.900,4.800,5.600,7.400,8.300c-10.600,30.400,1.500,55.600,1.500,55.600c32.400,1.200,53.700-14.200,58.200-17.700c3.200,1.100,6.500,2.100,9.800,2.900c10,2.600,20.200,4.100,30.400,4.500c2.500,0.100,5.100,0.200,7.600,0.100l1.200,0l0.800,0l1.600,0l1.600-0.100l0,0.100c15.300,21.800,42.100,24.900,42.100,24.900c19.100-20.100,20.200-40.100,20.200-44.400l0,0c0,0,0-0.100,0-0.300c0-0.400,0-0.600,0-0.600l0,0c0-0.300,0-0.600,0-0.900c4-2.800,7.800-5.800,11.400-9.100c7.600-6.900,14.300-14.800,19.900-23.300c0.500-0.800,1-1.600,1.500-2.400c21.600,1.200,36.900-13.400,36.900-13.400c-3.600-22.500-16.400-33.500-19.100-35.600l0,0c0,0-0.100-0.100-0.300-0.200c-0.200-0.100-0.200-0.200-0.200-0.200c0,0,0,0,0,0c-0.100-0.100-0.300-0.200-0.500-0.300c0.100-1.400,0.200-2.700,0.300-4.100c0.200-2.400,0.200-4.900,0.200-7.300l0-1.800l0-0.900l0-0.500c0-0.600,0-0.400,0-0.600l-0.100-1.500l-0.100-2c0-0.700-0.100-1.300-0.200-1.900c-0.100-0.600-0.100-1.300-0.200-1.900l-0.200-1.900l-0.300-1.900c-0.400-2.500-0.800-4.900-1.400-7.400c-2.300-9.700-6.100-18.900-11-27.200c-5-8.300-11.200-15.600-18.300-21.800c-7-6.200-14.900-11.200-23.100-14.900c-8.300-3.700-16.900-6.100-25.500-7.200c-4.300-0.600-8.600-0.800-12.900-0.700l-1.600,0l-0.400,0c-0.100,0-0.600,0-0.500,0l-0.700,0l-1.600,0.100c-0.600,0-1.200,0.100-1.700,0.100c-2.200,0.200-4.400,0.500-6.500,0.900c-8.600,1.600-16.700,4.700-23.800,9c-7.100,4.300-13.300,9.600-18.300,15.600c-5,6-8.900,12.700-11.600,19.600c-2.700,6.900-4.200,14.100-4.600,21c-0.100,1.700-0.100,3.500-0.100,5.200c0,0.400,0,0.900,0,1.300l0.100,1.400c0.100,0.800,0.100,1.700,0.200,2.500c0.300,3.500,1,6.900,1.900,10.100c1.900,6.500,4.900,12.400,8.600,17.400c3.700,5,8.200,9.100,12.900,12.400c4.700,3.200,9.800,5.500,14.800,7c5,1.500,10,2.100,14.700,2.100c0.600,0,1.200,0,1.700,0c0.300,0,0.600,0,0.900,0c0.300,0,0.600,0,0.900-0.100c0.500,0,1-0.100,1.500-0.100c0.100,0,0.300,0,0.400-0.100l0.500-0.100c0.300,0,0.600-0.100,0.900-0.100c0.600-0.100,1.100-0.200,1.700-0.300c0.600-0.100,1.100-0.200,1.600-0.400c1.100-0.200,2.100-0.600,3.100-0.900c2-0.700,4-1.500,5.700-2.400c1.800-0.900,3.400-2,5-3c0.400-0.300,0.900-0.600,1.300-1c1.600-1.300,1.900-3.700,0.600-5.300c-1.100-1.400-3.100-1.800-4.700-0.900c-0.400,0.200-0.800,0.400-1.200,0.600c-1.400,0.700-2.800,1.300-4.300,1.800c-1.500,0.500-3.100,0.900-4.700,1.200c-0.800,0.100-1.600,0.200-2.500,0.300c-0.400,0-0.800,0.100-1.300,0.100c-0.400,0-0.900,0-1.200,0c-0.400,0-0.800,0-1.200,0c-0.500,0-1,0-1.500-0.100c0,0-0.300,0-0.100,0l-0.200,0l-0.300,0c-0.200,0-0.500,0-0.700-0.100c-0.500-0.100-0.900-0.100-1.400-0.200c-3.700-0.500-7.400-1.600-10.900-3.200c-3.600-1.600-7-3.800-10.100-6.600c-3.100-2.800-5.800-6.100-7.900-9.900c-2.100-3.800-3.600-8-4.300-12.400c-0.300-2.200-0.500-4.500-0.400-6.700c0-0.600,0.100-1.200,0.100-1.800c0,0.200,0-0.100,0-0.100l0-0.200l0-0.500c0-0.300,0.100-0.600,0.100-0.900c0.100-1.200,0.300-2.400,0.500-3.600c1.700-9.600,6.500-19,13.900-26.100c1.900-1.800,3.900-3.400,6-4.900c2.100-1.500,4.400-2.800,6.800-3.900c2.400-1.100,4.800-2,7.400-2.700c2.500-0.700,5.100-1.100,7.800-1.400c1.300-0.100,2.600-0.200,4-0.200c0.400,0,0.600,0,0.900,0l1.100,0l0.700,0c0.300,0,0,0,0.100,0l0.300,0l1.100,0.100c2.900,0.200,5.700,0.600,8.500,1.300c5.600,1.200,11.100,3.300,16.200,6.100c10.200,5.700,18.900,14.500,24.200,25.100c2.700,5.300,4.600,11,5.500,16.900c0.200,1.500,0.400,3,0.500,4.500l0.100,1.100l0.100,1.100c0,0.400,0,0.800,0,1.100c0,0.400,0,0.800,0,1.100l0,1l0,1.100c0,0.700-0.100,1.900-0.100,2.600c-0.100,1.600-0.300,3.300-0.500,4.900c-0.200,1.600-0.500,3.200-0.800,4.800c-0.300,1.600-0.700,3.200-1.100,4.700c-0.800,3.100-1.800,6.200-3,9.300c-2.400,6-5.600,11.800-9.400,17.100c-7.700,10.600-18.200,19.200-30.200,24.700c-6,2.700-12.300,4.700-18.800,5.700c-3.200,0.600-6.500,0.900-9.800,1l-0.600,0l-0.500,0l-1.100,0l-1.600,0l-0.800,0c0.400,0-0.100,0-0.100,0l-0.300,0c-1.800,0-3.500-0.100-5.300-0.300c-7-0.500-13.900-1.800-20.700-3.700c-6.700-1.900-13.200-4.600-19.400-7.800c-12.300-6.600-23.400-15.600-32-26.500c-4.300-5.400-8.100-11.300-11.200-17.400c-3.100-6.100-5.600-12.600-7.400-19.100c-1.800-6.600-2.900-13.300-3.400-20.100l-0.100-1.300l0-0.300l0-0.300l0-0.600l0-1.100l0-0.300l0-0.400l0-0.800l0-1.600l0-0.300c0,0,0,0.100,0-0.100l0-0.600c0-0.800,0-1.700,0-2.500c0.100-3.300,0.400-6.800,0.800-10.200c0.400-3.400,1-6.900,1.700-10.300c0.700-3.400,1.500-6.800,2.500-10.200c1.900-6.700,4.300-13.200,7.100-19.300c5.700-12.200,13.100-23.100,22-31.800c2.200-2.200,4.500-4.200,6.900-6.200c2.400-1.900,4.900-3.700,7.500-5.400c2.500-1.700,5.200-3.200,7.900-4.600c1.300-0.700,2.700-1.400,4.100-2c0.700-0.300,1.400-0.600,2.100-0.900c0.700-0.300,1.400-0.600,2.100-0.900c2.800-1.200,5.700-2.200,8.700-3.100c0.700-0.200,1.500-0.400,2.200-0.700c0.700-0.200,1.500-0.400,2.200-0.600c1.500-0.400,3-0.800,4.500-1.100c0.700-0.200,1.500-0.300,2.300-0.500c0.800-0.200,1.500-0.300,2.300-0.500c0.800-0.100,1.500-0.300,2.300-0.400l1.100-0.200l1.200-0.200c0.800-0.100,1.500-0.200,2.300-0.300c0.900-0.100,1.700-0.200,2.600-0.300c0.700-0.100,1.900-0.200,2.600-0.300c0.500-0.100,1.100-0.100,1.600-0.200l1.100-0.100l0.500-0.100l0.600,0c0.900-0.100,1.700-0.100,2.600-0.200l1.300-0.100c0,0,0.500,0,0.100,0l0.300,0l0.600,0c0.700,0,1.500-0.100,2.200-0.100c2.900-0.100,5.900-0.100,8.800,0c5.800,0.200,11.500,0.900,17,1.900c11.100,2.100,21.500,5.600,31,10.300c9.500,4.600,17.900,10.300,25.300,16.500c0.500,0.400,0.900,0.800,1.400,1.200c0.400,0.400,0.900,0.800,1.300,1.200c0.900,0.800,1.700,1.600,2.600,2.400c0.900,0.800,1.700,1.600,2.500,2.400c0.800,0.800,1.600,1.600,2.400,2.500c3.100,3.300,6,6.600,8.600,10c5.200,6.700,9.400,13.500,12.700,19.900c0.200,0.400,0.400,0.800,0.600,1.200c0.200,0.400,0.400,0.800,0.600,1.200c0.400,0.800,0.800,1.600,1.100,2.400c0.400,0.800,0.700,1.500,1.100,2.300c0.300,0.800,0.700,1.500,1,2.300c1.200,3,2.400,5.900,3.300,8.600c1.500,4.400,2.600,8.300,3.500,11.700c0.300,1.400,1.600,2.300,3,2.100c1.500-0.100,2.600-1.300,2.600-2.800C342.600,170.400,342.500,166.100,342,161.2z"/></g></g>
</svg>
</body>
</html>
